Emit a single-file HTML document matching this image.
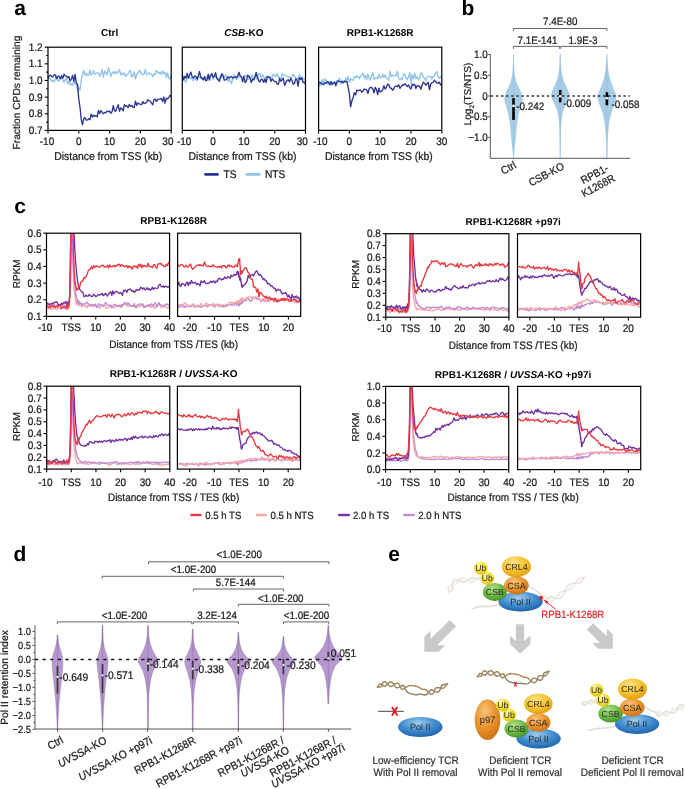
<!DOCTYPE html>
<html><head><meta charset="utf-8"><title>Figure</title>
<style>
html,body{margin:0;padding:0;background:#fff;}
svg{display:block;will-change:transform;}
text{font-family:"Liberation Sans", sans-serif;text-rendering:geometricPrecision;}
.r{stroke-width:0.22px;}
</style></head>
<body>
<svg width="685" height="789" viewBox="0 0 685 789">
<rect width="685" height="789" fill="#fff"/>
<text x="14.2" y="15.0" font-size="21" text-anchor="start" font-weight="bold" fill="#000" >a</text>
<text x="461.6" y="14.9" font-size="21" text-anchor="start" font-weight="bold" fill="#000" >b</text>
<text x="14.3" y="212.7" font-size="21" text-anchor="start" font-weight="bold" fill="#000" >c</text>
<text x="13.4" y="560.6" font-size="21" text-anchor="start" font-weight="bold" fill="#000" >d</text>
<text x="388.2" y="560.7" font-size="21" text-anchor="start" font-weight="bold" fill="#000" >e</text>
<path d="M48.0,78.8 L49.2,78.1 L50.5,79.7 L51.7,81.4 L52.9,80.3 L54.2,81.8 L55.4,79.1 L56.6,75.8 L57.9,80.7 L59.1,81.1 L60.3,78.3 L61.6,78.7 L62.8,79.4 L64.0,82.3 L65.2,80.0 L66.5,78.1 L67.7,83.6 L68.9,81.3 L70.2,85.2 L71.4,83.7 L72.6,85.2 L73.9,81.0 L75.1,83.9 L76.3,84.7 L77.6,90.0 L78.8,87.6 L80.0,90.2 L81.3,80.2 L82.5,74.2 L83.7,70.4 L85.0,75.4 L86.2,73.3 L87.4,75.3 L88.7,75.2 L89.9,70.2 L91.1,75.2 L92.4,73.1 L93.6,70.7 L94.8,74.6 L96.0,73.4 L97.3,72.8 L98.5,72.9 L99.7,76.4 L101.0,72.9 L102.2,69.5 L103.4,77.3 L104.7,70.9 L105.9,72.9 L107.1,74.9 L108.4,67.9 L109.6,71.2 L110.8,76.4 L112.1,73.0 L113.3,71.7 L114.5,73.8 L115.8,71.5 L117.0,73.5 L118.2,71.5 L119.5,69.5 L120.7,75.1 L121.9,72.8 L123.2,74.6 L124.4,73.0 L125.6,76.5 L126.8,74.9 L128.1,73.9 L129.3,71.0 L130.5,70.4 L131.8,77.0 L133.0,75.6 L134.2,71.7 L135.5,78.8 L136.7,74.7 L137.9,73.8 L139.2,70.2 L140.4,71.7 L141.6,74.4 L142.9,74.5 L144.1,74.2 L145.3,69.5 L146.6,74.7 L147.8,74.4 L149.0,72.7 L150.3,73.9 L151.5,74.2 L152.7,76.6 L154.0,73.7 L155.2,74.8 L156.4,70.6 L157.6,71.9 L158.9,73.8 L160.1,71.9 L161.3,74.6 L162.6,70.9 L163.8,73.8 L165.0,72.2 L166.3,77.2 L167.5,72.9 L168.7,78.3 L170.0,79.2 L171.2,74.6" fill="none" stroke="#8ec4ea" stroke-width="1.35" stroke-linejoin="round" opacity="1"/>
<path d="M48.0,77.8 L49.2,75.8 L50.5,75.2 L51.7,76.7 L52.9,76.8 L54.2,74.7 L55.4,75.1 L56.6,78.7 L57.9,76.5 L59.1,76.2 L60.3,78.8 L61.6,75.7 L62.8,78.3 L64.0,74.1 L65.2,75.9 L66.5,76.1 L67.7,77.7 L68.9,76.6 L70.2,81.0 L71.4,79.0 L72.6,75.5 L73.9,81.3 L75.1,74.3 L76.3,83.2 L77.6,84.4 L78.8,99.6 L80.0,107.2 L81.3,120.1 L82.5,124.7 L83.7,118.8 L85.0,117.5 L86.2,120.2 L87.4,119.9 L88.7,118.8 L89.9,119.8 L91.1,114.1 L92.4,117.1 L93.6,115.1 L94.8,116.3 L96.0,115.6 L97.3,116.7 L98.5,110.5 L99.7,113.5 L101.0,110.5 L102.2,112.4 L103.4,113.7 L104.7,112.5 L105.9,112.7 L107.1,111.1 L108.4,111.6 L109.6,111.1 L110.8,113.3 L112.1,111.6 L113.3,105.6 L114.5,110.7 L115.8,111.2 L117.0,107.6 L118.2,104.8 L119.5,111.2 L120.7,107.9 L121.9,108.6 L123.2,110.9 L124.4,104.7 L125.6,106.2 L126.8,105.8 L128.1,107.5 L129.3,104.4 L130.5,106.5 L131.8,105.4 L133.0,107.4 L134.2,107.4 L135.5,101.2 L136.7,105.3 L137.9,103.2 L139.2,103.7 L140.4,104.5 L141.6,104.5 L142.9,101.6 L144.1,103.6 L145.3,103.1 L146.6,102.5 L147.8,99.7 L149.0,100.6 L150.3,101.2 L151.5,103.2 L152.7,104.9 L154.0,99.3 L155.2,99.1 L156.4,101.5 L157.6,99.8 L158.9,99.1 L160.1,98.9 L161.3,98.5 L162.6,101.6 L163.8,96.9 L165.0,103.2 L166.3,98.1 L167.5,98.9 L168.7,97.8 L170.0,95.4 L171.2,96.2" fill="none" stroke="#2b3590" stroke-width="1.35" stroke-linejoin="round" opacity="1"/>
<rect x="48.00" y="47.20" width="123.20" height="83.20" fill="none" stroke="#000" stroke-width="1.2"/>
<line x1="48.00" y1="130.40" x2="48.00" y2="133.60" stroke="#000" stroke-width="1.1" />
<text transform="translate(47.0,145.2) scale(1,1.09)" font-size="10" text-anchor="middle" fill="#1a1a1a" stroke="#1a1a1a" class="r" >-10</text>
<line x1="78.80" y1="130.40" x2="78.80" y2="133.60" stroke="#000" stroke-width="1.1" />
<text transform="translate(78.8,145.2) scale(1,1.09)" font-size="10" text-anchor="middle" fill="#1a1a1a" stroke="#1a1a1a" class="r" >0</text>
<line x1="109.60" y1="130.40" x2="109.60" y2="133.60" stroke="#000" stroke-width="1.1" />
<text transform="translate(109.6,145.2) scale(1,1.09)" font-size="10" text-anchor="middle" fill="#1a1a1a" stroke="#1a1a1a" class="r" >10</text>
<line x1="140.40" y1="130.40" x2="140.40" y2="133.60" stroke="#000" stroke-width="1.1" />
<text transform="translate(140.4,145.2) scale(1,1.09)" font-size="10" text-anchor="middle" fill="#1a1a1a" stroke="#1a1a1a" class="r" >20</text>
<line x1="171.20" y1="130.40" x2="171.20" y2="133.60" stroke="#000" stroke-width="1.1" />
<text transform="translate(167.9,145.2) scale(1,1.09)" font-size="10" text-anchor="middle" fill="#1a1a1a" stroke="#1a1a1a" class="r" >30</text>
<text transform="translate(108.2,159.7) scale(1,1.09)" font-size="10.4" text-anchor="middle" fill="#1a1a1a" stroke="#1a1a1a" class="r" >Distance from TSS (kb)</text>
<path d="M182.3,78.0 L183.5,76.3 L184.8,81.2 L186.0,82.1 L187.2,77.3 L188.5,77.7 L189.7,78.3 L190.9,77.7 L192.2,79.4 L193.4,80.7 L194.6,78.0 L195.9,79.6 L197.1,80.9 L198.3,76.5 L199.5,77.6 L200.8,76.7 L202.0,79.4 L203.2,78.7 L204.5,79.4 L205.7,79.1 L206.9,76.9 L208.2,78.8 L209.4,76.5 L210.6,76.5 L211.9,73.1 L213.1,79.9 L214.3,75.4 L215.6,77.3 L216.8,77.2 L218.0,80.0 L219.3,78.1 L220.5,75.7 L221.7,77.3 L223.0,77.0 L224.2,77.7 L225.4,74.8 L226.7,77.2 L227.9,81.5 L229.1,78.5 L230.3,81.1 L231.6,83.6 L232.8,78.2 L234.0,74.5 L235.3,77.1 L236.5,79.5 L237.7,79.0 L239.0,74.9 L240.2,76.8 L241.4,77.1 L242.7,77.3 L243.9,77.1 L245.1,75.5 L246.4,76.0 L247.6,76.6 L248.8,79.1 L250.1,76.0 L251.3,78.3 L252.5,74.7 L253.8,79.4 L255.0,77.1 L256.2,76.8 L257.5,79.4 L258.7,73.3 L259.9,73.8 L261.1,77.6 L262.4,75.1 L263.6,75.9 L264.8,81.8 L266.1,76.1 L267.3,76.6 L268.5,76.3 L269.8,78.6 L271.0,77.0 L272.2,76.7 L273.5,74.0 L274.7,75.7 L275.9,76.4 L277.2,73.4 L278.4,77.6 L279.6,77.4 L280.9,80.3 L282.1,73.6 L283.3,74.9 L284.6,75.0 L285.8,75.6 L287.0,76.8 L288.3,76.6 L289.5,77.6 L290.7,77.6 L291.9,77.1 L293.2,74.3 L294.4,76.3 L295.6,77.6 L296.9,78.7 L298.1,78.9 L299.3,74.5 L300.6,76.7 L301.8,77.6 L303.0,78.5 L304.3,80.1 L305.5,78.1" fill="none" stroke="#8ec4ea" stroke-width="1.35" stroke-linejoin="round" opacity="1"/>
<path d="M182.3,75.2 L183.5,79.8 L184.8,76.3 L186.0,78.1 L187.2,73.5 L188.5,78.0 L189.7,74.6 L190.9,72.1 L192.2,77.1 L193.4,78.0 L194.6,76.0 L195.9,76.6 L197.1,79.3 L198.3,75.6 L199.5,71.5 L200.8,77.7 L202.0,77.6 L203.2,80.0 L204.5,76.4 L205.7,80.7 L206.9,80.4 L208.2,74.2 L209.4,80.1 L210.6,74.9 L211.9,73.8 L213.1,77.3 L214.3,76.5 L215.6,72.7 L216.8,78.4 L218.0,79.4 L219.3,81.4 L220.5,77.7 L221.7,73.8 L223.0,75.2 L224.2,80.2 L225.4,79.9 L226.7,79.0 L227.9,76.8 L229.1,78.1 L230.3,76.9 L231.6,76.7 L232.8,78.2 L234.0,77.5 L235.3,76.8 L236.5,77.6 L237.7,76.0 L239.0,72.3 L240.2,75.7 L241.4,77.1 L242.7,81.7 L243.9,76.1 L245.1,82.5 L246.4,81.2 L247.6,75.3 L248.8,75.8 L250.1,78.2 L251.3,82.5 L252.5,79.1 L253.8,80.0 L255.0,76.7 L256.2,72.5 L257.5,78.0 L258.7,80.8 L259.9,82.0 L261.1,79.2 L262.4,79.6 L263.6,82.3 L264.8,79.1 L266.1,82.6 L267.3,76.7 L268.5,77.0 L269.8,77.1 L271.0,81.3 L272.2,78.8 L273.5,80.7 L274.7,81.5 L275.9,81.4 L277.2,84.0 L278.4,84.4 L279.6,78.5 L280.9,81.2 L282.1,80.1 L283.3,78.0 L284.6,85.4 L285.8,82.9 L287.0,80.3 L288.3,79.8 L289.5,81.9 L290.7,78.2 L291.9,80.4 L293.2,84.2 L294.4,83.5 L295.6,78.9 L296.9,79.8 L298.1,86.2 L299.3,77.6 L300.6,79.6 L301.8,77.6 L303.0,82.3 L304.3,82.1 L305.5,84.3" fill="none" stroke="#2b3590" stroke-width="1.35" stroke-linejoin="round" opacity="1"/>
<rect x="182.30" y="47.20" width="123.20" height="83.20" fill="none" stroke="#000" stroke-width="1.2"/>
<line x1="182.30" y1="130.40" x2="182.30" y2="133.60" stroke="#000" stroke-width="1.1" />
<text transform="translate(184.1,145.2) scale(1,1.09)" font-size="10" text-anchor="middle" fill="#1a1a1a" stroke="#1a1a1a" class="r" >-10</text>
<line x1="213.10" y1="130.40" x2="213.10" y2="133.60" stroke="#000" stroke-width="1.1" />
<text transform="translate(213.1,145.2) scale(1,1.09)" font-size="10" text-anchor="middle" fill="#1a1a1a" stroke="#1a1a1a" class="r" >0</text>
<line x1="243.90" y1="130.40" x2="243.90" y2="133.60" stroke="#000" stroke-width="1.1" />
<text transform="translate(243.9,145.2) scale(1,1.09)" font-size="10" text-anchor="middle" fill="#1a1a1a" stroke="#1a1a1a" class="r" >10</text>
<line x1="274.70" y1="130.40" x2="274.70" y2="133.60" stroke="#000" stroke-width="1.1" />
<text transform="translate(274.7,145.2) scale(1,1.09)" font-size="10" text-anchor="middle" fill="#1a1a1a" stroke="#1a1a1a" class="r" >20</text>
<line x1="305.50" y1="130.40" x2="305.50" y2="133.60" stroke="#000" stroke-width="1.1" />
<text transform="translate(302.2,145.2) scale(1,1.09)" font-size="10" text-anchor="middle" fill="#1a1a1a" stroke="#1a1a1a" class="r" >30</text>
<text transform="translate(242.5,159.7) scale(1,1.09)" font-size="10.4" text-anchor="middle" fill="#1a1a1a" stroke="#1a1a1a" class="r" >Distance from TSS (kb)</text>
<path d="M318.6,81.7 L319.8,86.2 L321.1,82.9 L322.3,79.4 L323.5,84.8 L324.8,78.9 L326.0,80.6 L327.2,84.0 L328.5,82.5 L329.7,82.3 L330.9,81.2 L332.2,82.3 L333.4,82.9 L334.6,81.5 L335.8,83.2 L337.1,83.7 L338.3,80.5 L339.5,78.1 L340.8,84.0 L342.0,80.0 L343.2,81.5 L344.5,82.3 L345.7,77.6 L346.9,81.1 L348.2,76.4 L349.4,82.4 L350.6,78.8 L351.9,79.7 L353.1,80.4 L354.3,76.4 L355.6,77.9 L356.8,75.6 L358.0,76.8 L359.3,79.0 L360.5,76.1 L361.7,75.4 L363.0,73.1 L364.2,77.8 L365.4,75.6 L366.6,79.8 L367.9,73.9 L369.1,78.3 L370.3,80.1 L371.6,75.7 L372.8,72.8 L374.0,79.4 L375.3,78.3 L376.5,77.5 L377.7,78.5 L379.0,74.7 L380.2,77.7 L381.4,77.5 L382.7,74.2 L383.9,77.6 L385.1,74.7 L386.4,78.2 L387.6,78.8 L388.8,80.4 L390.1,71.1 L391.3,76.6 L392.5,75.2 L393.8,75.9 L395.0,75.4 L396.2,75.7 L397.4,71.1 L398.7,78.5 L399.9,79.8 L401.1,78.4 L402.4,79.2 L403.6,74.1 L404.8,73.9 L406.1,78.3 L407.3,79.4 L408.5,76.9 L409.8,72.5 L411.0,83.0 L412.2,74.7 L413.5,78.7 L414.7,73.4 L415.9,78.7 L417.2,76.8 L418.4,79.8 L419.6,78.5 L420.9,72.6 L422.1,74.1 L423.3,77.1 L424.6,78.3 L425.8,80.9 L427.0,77.1 L428.2,76.3 L429.5,76.4 L430.7,76.4 L431.9,79.0 L433.2,76.4 L434.4,76.3 L435.6,73.0 L436.9,71.6 L438.1,76.6 L439.3,78.2 L440.6,76.5 L441.8,77.8" fill="none" stroke="#8ec4ea" stroke-width="1.35" stroke-linejoin="round" opacity="1"/>
<path d="M318.6,83.2 L319.8,82.3 L321.1,83.1 L322.3,84.2 L323.5,84.6 L324.8,82.9 L326.0,83.5 L327.2,81.7 L328.5,82.1 L329.7,84.9 L330.9,81.7 L332.2,84.7 L333.4,83.0 L334.6,82.2 L335.8,85.9 L337.1,81.1 L338.3,80.9 L339.5,81.4 L340.8,81.9 L342.0,81.7 L343.2,82.9 L344.5,81.2 L345.7,81.7 L346.9,81.7 L348.2,87.4 L349.4,94.2 L350.6,106.8 L351.9,100.8 L353.1,97.7 L354.3,92.8 L355.6,94.9 L356.8,90.2 L358.0,90.5 L359.3,90.3 L360.5,90.0 L361.7,92.1 L363.0,91.1 L364.2,89.0 L365.4,89.4 L366.6,89.7 L367.9,93.3 L369.1,88.8 L370.3,87.3 L371.6,87.5 L372.8,89.0 L374.0,92.8 L375.3,87.3 L376.5,89.5 L377.7,94.5 L379.0,88.1 L380.2,92.0 L381.4,91.5 L382.7,89.9 L383.9,85.6 L385.1,89.1 L386.4,87.5 L387.6,84.2 L388.8,84.4 L390.1,88.0 L391.3,88.1 L392.5,90.2 L393.8,88.8 L395.0,86.3 L396.2,86.2 L397.4,86.7 L398.7,84.7 L399.9,88.3 L401.1,86.7 L402.4,84.8 L403.6,85.0 L404.8,83.8 L406.1,85.1 L407.3,86.5 L408.5,85.0 L409.8,87.8 L411.0,89.0 L412.2,84.1 L413.5,85.3 L414.7,84.4 L415.9,88.6 L417.2,85.6 L418.4,86.0 L419.6,86.4 L420.9,89.3 L422.1,85.0 L423.3,82.2 L424.6,83.2 L425.8,85.2 L427.0,83.8 L428.2,82.2 L429.5,89.8 L430.7,84.1 L431.9,82.6 L433.2,82.3 L434.4,80.1 L435.6,81.4 L436.9,83.1 L438.1,83.2 L439.3,82.1 L440.6,85.0 L441.8,83.9" fill="none" stroke="#2b3590" stroke-width="1.35" stroke-linejoin="round" opacity="1"/>
<rect x="318.60" y="47.20" width="123.20" height="83.20" fill="none" stroke="#000" stroke-width="1.2"/>
<line x1="318.60" y1="130.40" x2="318.60" y2="133.60" stroke="#000" stroke-width="1.1" />
<text transform="translate(320.4,145.2) scale(1,1.09)" font-size="10" text-anchor="middle" fill="#1a1a1a" stroke="#1a1a1a" class="r" >-10</text>
<line x1="349.40" y1="130.40" x2="349.40" y2="133.60" stroke="#000" stroke-width="1.1" />
<text transform="translate(349.4,145.2) scale(1,1.09)" font-size="10" text-anchor="middle" fill="#1a1a1a" stroke="#1a1a1a" class="r" >0</text>
<line x1="380.20" y1="130.40" x2="380.20" y2="133.60" stroke="#000" stroke-width="1.1" />
<text transform="translate(380.2,145.2) scale(1,1.09)" font-size="10" text-anchor="middle" fill="#1a1a1a" stroke="#1a1a1a" class="r" >10</text>
<line x1="411.00" y1="130.40" x2="411.00" y2="133.60" stroke="#000" stroke-width="1.1" />
<text transform="translate(411.0,145.2) scale(1,1.09)" font-size="10" text-anchor="middle" fill="#1a1a1a" stroke="#1a1a1a" class="r" >20</text>
<line x1="441.80" y1="130.40" x2="441.80" y2="133.60" stroke="#000" stroke-width="1.1" />
<text transform="translate(441.8,145.2) scale(1,1.09)" font-size="10" text-anchor="middle" fill="#1a1a1a" stroke="#1a1a1a" class="r" >30</text>
<text transform="translate(378.8,159.7) scale(1,1.09)" font-size="10.4" text-anchor="middle" fill="#1a1a1a" stroke="#1a1a1a" class="r" >Distance from TSS (kb)</text>
<line x1="44.70" y1="130.40" x2="48.00" y2="130.40" stroke="#000" stroke-width="1.1" />
<text transform="translate(42.6,133.9) scale(1,1.09)" font-size="10" text-anchor="end" fill="#1a1a1a" stroke="#1a1a1a" class="r" >0.7</text>
<line x1="46.20" y1="122.08" x2="48.00" y2="122.08" stroke="#000" stroke-width="1.1" />
<line x1="44.70" y1="113.76" x2="48.00" y2="113.76" stroke="#000" stroke-width="1.1" />
<text transform="translate(42.6,117.3) scale(1,1.09)" font-size="10" text-anchor="end" fill="#1a1a1a" stroke="#1a1a1a" class="r" >0.8</text>
<line x1="46.20" y1="105.44" x2="48.00" y2="105.44" stroke="#000" stroke-width="1.1" />
<line x1="44.70" y1="97.12" x2="48.00" y2="97.12" stroke="#000" stroke-width="1.1" />
<text transform="translate(42.6,100.6) scale(1,1.09)" font-size="10" text-anchor="end" fill="#1a1a1a" stroke="#1a1a1a" class="r" >0.9</text>
<line x1="46.20" y1="88.80" x2="48.00" y2="88.80" stroke="#000" stroke-width="1.1" />
<line x1="44.70" y1="80.48" x2="48.00" y2="80.48" stroke="#000" stroke-width="1.1" />
<text transform="translate(42.6,84.0) scale(1,1.09)" font-size="10" text-anchor="end" fill="#1a1a1a" stroke="#1a1a1a" class="r" >1.0</text>
<line x1="46.20" y1="72.16" x2="48.00" y2="72.16" stroke="#000" stroke-width="1.1" />
<line x1="44.70" y1="63.84" x2="48.00" y2="63.84" stroke="#000" stroke-width="1.1" />
<text transform="translate(42.6,67.3) scale(1,1.09)" font-size="10" text-anchor="end" fill="#1a1a1a" stroke="#1a1a1a" class="r" >1.1</text>
<line x1="46.20" y1="55.52" x2="48.00" y2="55.52" stroke="#000" stroke-width="1.1" />
<line x1="44.70" y1="47.20" x2="48.00" y2="47.20" stroke="#000" stroke-width="1.1" />
<text transform="translate(42.6,50.7) scale(1,1.09)" font-size="10" text-anchor="end" fill="#1a1a1a" stroke="#1a1a1a" class="r" >1.2</text>
<text transform="translate(19.7,92.5) rotate(-90)" font-size="10.2" text-anchor="middle" fill="#1a1a1a" stroke="#1a1a1a" class="r">Fraction CPDs remaining</text>
<text x="109.6" y="35.6" font-size="10" text-anchor="middle" font-weight="bold" fill="#000" >Ctrl</text>
<text x="243.9" y="35.6" font-size="10" text-anchor="middle" font-weight="bold" fill="#000"><tspan font-style="italic">CSB</tspan>-KO</text>
<text x="380.2" y="35.6" font-size="10" text-anchor="middle" font-weight="bold" fill="#000" >RPB1-K1268R</text>
<line x1="205.40" y1="174.40" x2="217.60" y2="174.40" stroke="#2b3590" stroke-width="2.6" stroke-linecap="round"/>
<text transform="translate(223.6,177.9) scale(1,1.09)" font-size="10.2" text-anchor="start" fill="#1a1a1a" stroke="#1a1a1a" class="r" >TS</text>
<line x1="246.70" y1="174.40" x2="259.30" y2="174.40" stroke="#8ec4ea" stroke-width="2.6" stroke-linecap="round"/>
<text transform="translate(265.0,177.9) scale(1,1.09)" font-size="10.2" text-anchor="start" fill="#1a1a1a" stroke="#1a1a1a" class="r" >NTS</text>
<path d="M513.81,54.50 L513.82,55.37 L513.85,56.24 L513.87,57.11 L513.90,57.98 L513.92,58.85 L513.95,59.72 L513.97,60.59 L514.00,61.46 L514.02,62.33 L514.05,63.20 L514.07,64.07 L514.11,64.94 L514.16,65.81 L514.22,66.68 L514.28,67.55 L514.34,68.42 L514.40,69.29 L514.46,70.16 L514.52,71.03 L514.58,71.89 L514.64,72.76 L514.70,73.63 L514.78,74.50 L514.91,75.37 L515.07,76.24 L515.26,77.11 L515.45,77.98 L515.63,78.85 L515.82,79.72 L516.04,80.59 L516.30,81.46 L516.61,82.33 L516.94,83.20 L517.27,84.07 L517.60,84.94 L517.96,85.81 L518.38,86.68 L518.84,87.55 L519.31,88.42 L519.78,89.29 L520.24,90.16 L520.66,91.03 L521.02,91.90 L521.34,92.77 L521.65,93.64 L521.96,94.51 L522.25,95.38 L522.43,96.25 L522.52,97.12 L522.54,97.99 L522.56,98.86 L522.57,99.73 L522.54,100.60 L522.42,101.47 L522.20,102.34 L521.94,103.21 L521.68,104.08 L521.42,104.95 L521.15,105.82 L520.88,106.68 L520.60,107.55 L520.32,108.42 L520.05,109.29 L519.77,110.16 L519.52,111.03 L519.30,111.90 L519.11,112.77 L518.92,113.64 L518.73,114.51 L518.54,115.38 L518.37,116.25 L518.23,117.12 L518.09,117.99 L517.95,118.86 L517.82,119.73 L517.68,120.60 L517.55,121.47 L517.41,122.34 L517.28,123.21 L517.14,124.08 L517.02,124.95 L516.92,125.82 L516.84,126.69 L516.76,127.56 L516.68,128.43 L516.60,129.30 L516.52,130.17 L516.44,131.04 L516.36,131.91 L516.28,132.78 L516.20,133.65 L516.12,134.52 L516.04,135.39 L515.95,136.26 L515.87,137.13 L515.79,138.00 L515.71,138.87 L515.62,139.74 L515.52,140.61 L515.43,141.47 L515.34,142.34 L515.24,143.21 L515.15,144.08 L515.05,144.95 L514.96,145.82 L514.86,146.69 L514.77,147.56 L514.67,148.43 L514.58,149.30 L514.49,150.17 L514.41,151.04 L514.33,151.91 L514.26,152.78 L514.18,153.65 L514.10,154.52 L514.03,155.39 L513.95,156.26 L513.88,157.13 L513.83,158.00 L513.17,158.00 L513.12,157.13 L513.05,156.26 L512.97,155.39 L512.90,154.52 L512.82,153.65 L512.74,152.78 L512.67,151.91 L512.59,151.04 L512.51,150.17 L512.42,149.30 L512.33,148.43 L512.23,147.56 L512.14,146.69 L512.04,145.82 L511.95,144.95 L511.85,144.08 L511.76,143.21 L511.66,142.34 L511.57,141.47 L511.48,140.61 L511.38,139.74 L511.29,138.87 L511.21,138.00 L511.13,137.13 L511.05,136.26 L510.96,135.39 L510.88,134.52 L510.80,133.65 L510.72,132.78 L510.64,131.91 L510.56,131.04 L510.48,130.17 L510.40,129.30 L510.32,128.43 L510.24,127.56 L510.16,126.69 L510.08,125.82 L509.98,124.95 L509.86,124.08 L509.72,123.21 L509.59,122.34 L509.45,121.47 L509.32,120.60 L509.18,119.73 L509.05,118.86 L508.91,117.99 L508.77,117.12 L508.63,116.25 L508.46,115.38 L508.27,114.51 L508.08,113.64 L507.89,112.77 L507.70,111.90 L507.48,111.03 L507.23,110.16 L506.95,109.29 L506.68,108.42 L506.40,107.55 L506.12,106.68 L505.85,105.82 L505.58,104.95 L505.32,104.08 L505.06,103.21 L504.80,102.34 L504.58,101.47 L504.46,100.60 L504.43,99.73 L504.44,98.86 L504.46,97.99 L504.48,97.12 L504.57,96.25 L504.75,95.38 L505.04,94.51 L505.35,93.64 L505.66,92.77 L505.98,91.90 L506.34,91.03 L506.76,90.16 L507.22,89.29 L507.69,88.42 L508.16,87.55 L508.62,86.68 L509.04,85.81 L509.40,84.94 L509.73,84.07 L510.06,83.20 L510.39,82.33 L510.70,81.46 L510.96,80.59 L511.18,79.72 L511.37,78.85 L511.55,77.98 L511.74,77.11 L511.93,76.24 L512.09,75.37 L512.22,74.50 L512.30,73.63 L512.36,72.76 L512.42,71.89 L512.48,71.03 L512.54,70.16 L512.60,69.29 L512.66,68.42 L512.72,67.55 L512.78,66.68 L512.84,65.81 L512.89,64.94 L512.93,64.07 L512.95,63.20 L512.98,62.33 L513.00,61.46 L513.03,60.59 L513.05,59.72 L513.08,58.85 L513.10,57.98 L513.13,57.11 L513.15,56.24 L513.18,55.37 L513.19,54.50Z" fill="#a7cce5"/>
<line x1="513.50" y1="54.50" x2="513.50" y2="158.00" stroke="#8fb8d8" stroke-width="0.5" />
<path d="M560.51,53.20 L560.54,54.08 L560.58,54.97 L560.62,55.85 L560.66,56.74 L560.70,57.62 L560.73,58.51 L560.77,59.39 L560.81,60.28 L560.85,61.16 L560.89,62.05 L560.93,62.93 L560.97,63.82 L561.00,64.70 L561.04,65.59 L561.09,66.47 L561.16,67.36 L561.26,68.24 L561.36,69.13 L561.47,70.01 L561.57,70.90 L561.69,71.78 L561.82,72.67 L561.97,73.55 L562.13,74.44 L562.29,75.32 L562.44,76.21 L562.64,77.09 L562.89,77.98 L563.18,78.86 L563.46,79.75 L563.75,80.63 L564.06,81.52 L564.41,82.40 L564.81,83.29 L565.23,84.17 L565.65,85.06 L566.06,85.94 L566.47,86.83 L566.88,87.71 L567.29,88.59 L567.70,89.48 L568.09,90.36 L568.44,91.25 L568.74,92.13 L569.01,93.02 L569.28,93.90 L569.46,94.79 L569.46,95.67 L569.26,96.56 L568.95,97.44 L568.63,98.33 L568.29,99.21 L567.91,100.10 L567.52,100.98 L567.13,101.87 L566.74,102.75 L566.33,103.64 L565.91,104.52 L565.47,105.41 L565.05,106.29 L564.65,107.18 L564.29,108.06 L563.94,108.95 L563.60,109.83 L563.31,110.72 L563.05,111.60 L562.83,112.49 L562.61,113.37 L562.39,114.26 L562.22,115.14 L562.08,116.03 L561.97,116.91 L561.86,117.80 L561.76,118.68 L561.65,119.57 L561.55,120.45 L561.48,121.34 L561.43,122.22 L561.38,123.11 L561.34,123.99 L561.29,124.87 L561.25,125.76 L561.20,126.64 L561.15,127.53 L561.11,128.41 L561.06,129.30 L561.02,130.18 L560.97,131.07 L560.93,131.95 L560.90,132.84 L560.89,133.72 L560.88,134.61 L560.87,135.49 L560.86,136.38 L560.85,137.26 L560.83,138.15 L560.82,139.03 L560.81,139.92 L560.80,140.80 L560.79,141.69 L560.78,142.57 L560.77,143.46 L560.76,144.34 L560.75,145.23 L560.74,146.11 L560.73,147.00 L560.72,147.88 L560.71,148.77 L560.70,149.65 L560.69,150.54 L560.68,151.42 L560.67,152.31 L560.66,153.19 L560.65,154.08 L560.64,154.96 L560.63,155.85 L560.62,156.73 L560.61,157.62 L560.60,158.50 L559.80,158.50 L559.79,157.62 L559.78,156.73 L559.77,155.85 L559.76,154.96 L559.75,154.08 L559.74,153.19 L559.73,152.31 L559.72,151.42 L559.71,150.54 L559.70,149.65 L559.69,148.77 L559.68,147.88 L559.67,147.00 L559.66,146.11 L559.65,145.23 L559.64,144.34 L559.63,143.46 L559.62,142.57 L559.61,141.69 L559.60,140.80 L559.59,139.92 L559.58,139.03 L559.57,138.15 L559.55,137.26 L559.54,136.38 L559.53,135.49 L559.52,134.61 L559.51,133.72 L559.50,132.84 L559.47,131.95 L559.43,131.07 L559.38,130.18 L559.34,129.30 L559.29,128.41 L559.25,127.53 L559.20,126.64 L559.15,125.76 L559.11,124.87 L559.06,123.99 L559.02,123.11 L558.97,122.22 L558.92,121.34 L558.85,120.45 L558.75,119.57 L558.64,118.68 L558.54,117.80 L558.43,116.91 L558.32,116.03 L558.18,115.14 L558.01,114.26 L557.79,113.37 L557.57,112.49 L557.35,111.60 L557.09,110.72 L556.80,109.83 L556.46,108.95 L556.11,108.06 L555.75,107.18 L555.35,106.29 L554.93,105.41 L554.49,104.52 L554.07,103.64 L553.66,102.75 L553.27,101.87 L552.88,100.98 L552.49,100.10 L552.11,99.21 L551.77,98.33 L551.45,97.44 L551.14,96.56 L550.94,95.67 L550.94,94.79 L551.12,93.90 L551.39,93.02 L551.66,92.13 L551.96,91.25 L552.31,90.36 L552.70,89.48 L553.11,88.59 L553.52,87.71 L553.93,86.83 L554.34,85.94 L554.75,85.06 L555.17,84.17 L555.59,83.29 L555.99,82.40 L556.34,81.52 L556.65,80.63 L556.94,79.75 L557.22,78.86 L557.51,77.98 L557.76,77.09 L557.96,76.21 L558.11,75.32 L558.27,74.44 L558.43,73.55 L558.58,72.67 L558.71,71.78 L558.83,70.90 L558.93,70.01 L559.04,69.13 L559.14,68.24 L559.24,67.36 L559.31,66.47 L559.36,65.59 L559.40,64.70 L559.43,63.82 L559.47,62.93 L559.51,62.05 L559.55,61.16 L559.59,60.28 L559.63,59.39 L559.67,58.51 L559.70,57.62 L559.74,56.74 L559.78,55.85 L559.82,54.97 L559.86,54.08 L559.89,53.20Z" fill="#a7cce5"/>
<line x1="560.20" y1="53.20" x2="560.20" y2="158.50" stroke="#8fb8d8" stroke-width="0.5" />
<path d="M607.21,53.70 L607.24,54.58 L607.28,55.46 L607.33,56.34 L607.37,57.22 L607.41,58.10 L607.45,58.98 L607.50,59.86 L607.54,60.75 L607.59,61.63 L607.65,62.51 L607.70,63.39 L607.75,64.27 L607.80,65.15 L607.85,66.03 L607.93,66.91 L608.03,67.79 L608.16,68.67 L608.29,69.55 L608.42,70.43 L608.55,71.31 L608.68,72.19 L608.84,73.07 L609.01,73.96 L609.20,74.84 L609.39,75.72 L609.58,76.60 L609.78,77.48 L610.00,78.36 L610.25,79.24 L610.53,80.12 L610.82,81.00 L611.11,81.88 L611.39,82.76 L611.69,83.64 L611.99,84.52 L612.31,85.40 L612.63,86.28 L612.94,87.17 L613.27,88.05 L613.63,88.93 L614.02,89.81 L614.42,90.69 L614.83,91.57 L615.23,92.45 L615.57,93.33 L615.86,94.21 L616.12,95.09 L616.36,95.97 L616.43,96.85 L616.34,97.73 L616.11,98.61 L615.89,99.49 L615.65,100.38 L615.40,101.26 L615.13,102.14 L614.84,103.02 L614.55,103.90 L614.26,104.78 L613.97,105.66 L613.64,106.54 L613.29,107.42 L612.92,108.30 L612.55,109.18 L612.22,110.06 L611.94,110.94 L611.69,111.82 L611.44,112.71 L611.20,113.59 L610.96,114.47 L610.73,115.35 L610.53,116.23 L610.34,117.11 L610.14,117.99 L609.95,118.87 L609.77,119.75 L609.61,120.63 L609.47,121.51 L609.34,122.39 L609.20,123.27 L609.07,124.15 L608.94,125.03 L608.81,125.92 L608.70,126.80 L608.62,127.68 L608.55,128.56 L608.49,129.44 L608.42,130.32 L608.35,131.20 L608.28,132.08 L608.22,132.96 L608.15,133.84 L608.08,134.72 L608.02,135.60 L607.95,136.48 L607.88,137.36 L607.82,138.24 L607.75,139.13 L607.71,140.01 L607.68,140.89 L607.66,141.77 L607.64,142.65 L607.62,143.53 L607.60,144.41 L607.58,145.29 L607.56,146.17 L607.54,147.05 L607.53,147.93 L607.51,148.81 L607.49,149.69 L607.47,150.57 L607.45,151.45 L607.43,152.34 L607.41,153.22 L607.39,154.10 L607.38,154.98 L607.36,155.86 L607.34,156.74 L607.32,157.62 L607.31,158.50 L606.49,158.50 L606.48,157.62 L606.46,156.74 L606.44,155.86 L606.42,154.98 L606.41,154.10 L606.39,153.22 L606.37,152.34 L606.35,151.45 L606.33,150.57 L606.31,149.69 L606.29,148.81 L606.27,147.93 L606.26,147.05 L606.24,146.17 L606.22,145.29 L606.20,144.41 L606.18,143.53 L606.16,142.65 L606.14,141.77 L606.12,140.89 L606.09,140.01 L606.05,139.13 L605.98,138.24 L605.92,137.36 L605.85,136.48 L605.78,135.60 L605.72,134.72 L605.65,133.84 L605.58,132.96 L605.52,132.08 L605.45,131.20 L605.38,130.32 L605.31,129.44 L605.25,128.56 L605.18,127.68 L605.10,126.80 L604.99,125.92 L604.86,125.03 L604.73,124.15 L604.60,123.27 L604.46,122.39 L604.33,121.51 L604.19,120.63 L604.03,119.75 L603.85,118.87 L603.66,117.99 L603.46,117.11 L603.27,116.23 L603.07,115.35 L602.84,114.47 L602.60,113.59 L602.36,112.71 L602.11,111.82 L601.86,110.94 L601.58,110.06 L601.25,109.18 L600.88,108.30 L600.51,107.42 L600.16,106.54 L599.83,105.66 L599.54,104.78 L599.25,103.90 L598.96,103.02 L598.67,102.14 L598.40,101.26 L598.15,100.38 L597.91,99.49 L597.69,98.61 L597.46,97.73 L597.37,96.85 L597.44,95.97 L597.68,95.09 L597.94,94.21 L598.23,93.33 L598.57,92.45 L598.97,91.57 L599.38,90.69 L599.78,89.81 L600.17,88.93 L600.53,88.05 L600.86,87.17 L601.17,86.28 L601.49,85.40 L601.81,84.52 L602.11,83.64 L602.41,82.76 L602.69,81.88 L602.98,81.00 L603.27,80.12 L603.55,79.24 L603.80,78.36 L604.02,77.48 L604.22,76.60 L604.41,75.72 L604.60,74.84 L604.79,73.96 L604.96,73.07 L605.12,72.19 L605.25,71.31 L605.38,70.43 L605.51,69.55 L605.64,68.67 L605.77,67.79 L605.87,66.91 L605.95,66.03 L606.00,65.15 L606.05,64.27 L606.10,63.39 L606.15,62.51 L606.21,61.63 L606.26,60.75 L606.30,59.86 L606.35,58.98 L606.39,58.10 L606.43,57.22 L606.47,56.34 L606.52,55.46 L606.56,54.58 L606.59,53.70Z" fill="#a7cce5"/>
<line x1="606.90" y1="53.70" x2="606.90" y2="158.50" stroke="#8fb8d8" stroke-width="0.5" />
<line x1="490.8" y1="96" x2="630" y2="96" stroke="#333" stroke-width="1.7" stroke-dasharray="2.4 2.7"/>
<rect x="512.20" y="98.10" width="2.6" height="21.80" fill="#000"/>
<circle cx="513.50" cy="105.90" r="1.3" fill="#fff"/>
<rect x="558.90" y="90.00" width="2.6" height="12.30" fill="#000"/>
<circle cx="560.20" cy="96.20" r="1.3" fill="#fff"/>
<rect x="605.60" y="92.20" width="2.6" height="13.10" fill="#000"/>
<circle cx="606.90" cy="98.20" r="1.3" fill="#fff"/>
<text transform="translate(516.3,110.0) scale(1,1.09)" font-size="9.9" text-anchor="start" fill="#1a1a1a" stroke="#1a1a1a" class="r" >-0.242</text>
<text transform="translate(563.2,107.2) scale(1,1.09)" font-size="9.9" text-anchor="start" fill="#1a1a1a" stroke="#1a1a1a" class="r" >-0.009</text>
<text transform="translate(611.5,107.8) scale(1,1.09)" font-size="9.9" text-anchor="start" fill="#1a1a1a" stroke="#1a1a1a" class="r" >-0.058</text>
<line x1="490.30" y1="54.00" x2="490.30" y2="158.30" stroke="#555" stroke-width="1.0" />
<line x1="490.30" y1="158.30" x2="630.00" y2="158.30" stroke="#555" stroke-width="1.0" />
<line x1="488.10" y1="54.60" x2="490.30" y2="54.60" stroke="#555" stroke-width="1.0" />
<text transform="translate(487.7,58.1) scale(1,1.09)" font-size="9.9" text-anchor="end" fill="#1a1a1a" stroke="#1a1a1a" class="r" >1.0</text>
<line x1="488.10" y1="75.30" x2="490.30" y2="75.30" stroke="#555" stroke-width="1.0" />
<text transform="translate(487.7,78.8) scale(1,1.09)" font-size="9.9" text-anchor="end" fill="#1a1a1a" stroke="#1a1a1a" class="r" >0.5</text>
<line x1="488.10" y1="96.00" x2="490.30" y2="96.00" stroke="#555" stroke-width="1.0" />
<text transform="translate(487.7,99.5) scale(1,1.09)" font-size="9.9" text-anchor="end" fill="#1a1a1a" stroke="#1a1a1a" class="r" >0</text>
<line x1="488.10" y1="116.70" x2="490.30" y2="116.70" stroke="#555" stroke-width="1.0" />
<text transform="translate(487.7,120.2) scale(1,1.09)" font-size="9.9" text-anchor="end" fill="#1a1a1a" stroke="#1a1a1a" class="r" >-0.5</text>
<line x1="488.10" y1="137.40" x2="490.30" y2="137.40" stroke="#555" stroke-width="1.0" />
<text transform="translate(487.7,140.9) scale(1,1.09)" font-size="9.9" text-anchor="end" fill="#1a1a1a" stroke="#1a1a1a" class="r" >−1.0</text>
<text transform="translate(471.3,94) rotate(-90)" font-size="10" text-anchor="middle" fill="#1a1a1a" stroke="#1a1a1a" class="r">Log<tspan font-size="6.5" dy="2.5">2</tspan><tspan dy="-2.5">(TS/NTS)</tspan></text>
<path d="M513.40,30.90 L513.40,28.50 L606.90,28.50 L606.90,30.90" fill="none" stroke="#555" stroke-width="0.9"/>
<path d="M513.40,48.80 L513.40,46.40 L559.60,46.40 L559.60,48.80" fill="none" stroke="#555" stroke-width="0.9"/>
<path d="M560.80,48.80 L560.80,46.40 L606.90,46.40 L606.90,48.80" fill="none" stroke="#555" stroke-width="0.9"/>
<text transform="translate(560.2,24.6) scale(1,1.09)" font-size="9.9" text-anchor="middle" fill="#1a1a1a" stroke="#1a1a1a" class="r" >7.4E-80</text>
<text transform="translate(537.5,43.5) scale(1,1.09)" font-size="9.9" text-anchor="middle" fill="#1a1a1a" stroke="#1a1a1a" class="r" >7.1E-141</text>
<text transform="translate(583.0,43.5) scale(1,1.09)" font-size="9.9" text-anchor="middle" fill="#1a1a1a" stroke="#1a1a1a" class="r" >1.9E-3</text>
<text transform="translate(517.0,167.4) rotate(-28) scale(1,1.09)" font-size="10" text-anchor="end" fill="#1a1a1a" stroke="#1a1a1a" class="r" >Ctrl</text>
<text transform="translate(565.0,168.6) rotate(-28) scale(1,1.09)" font-size="10" text-anchor="end" fill="#1a1a1a" stroke="#1a1a1a" class="r" >CSB-KO</text>
<text transform="translate(609.3,170.5) rotate(-28) scale(1,1.09)" font-size="10" text-anchor="end" fill="#1a1a1a" stroke="#1a1a1a" class="r" >RPB1-</text>
<text transform="translate(615.8,180.6) rotate(-28) scale(1,1.09)" font-size="10" text-anchor="end" fill="#1a1a1a" stroke="#1a1a1a" class="r" >K1268R</text>
<clipPath id="c46_233L"><rect x="46.5" y="233.2" width="123.1" height="83.2"/></clipPath>
<clipPath id="c46_233R"><rect x="177.6" y="233.2" width="123.1" height="83.2"/></clipPath>
<g clip-path="url(#c46_233L)">
<path d="M46.5,308.3 L47.6,307.4 L48.6,309.0 L49.7,307.8 L50.8,309.7 L51.9,308.9 L52.9,309.2 L54.0,307.7 L55.1,307.6 L56.1,309.8 L57.2,308.7 L58.3,307.5 L59.3,308.4 L60.4,309.0 L61.5,306.5 L62.6,307.1 L63.6,307.0 L64.7,308.6 L65.8,307.3 L66.2,308.7 L66.5,307.5 L66.8,309.4 L66.8,308.8 L67.1,307.7 L67.4,309.0 L67.7,307.7 L67.9,308.5 L68.0,309.7 L68.3,308.5 L68.6,308.2 L68.9,306.7 L69.0,307.8 L69.2,307.1 L69.4,303.9 L69.7,299.2 L70.0,293.1 L70.0,294.7 L70.3,285.8 L70.6,272.0 L70.9,258.0 L71.1,247.4 L71.2,240.8 L71.5,225.5 L71.8,218.3 L72.1,225.5 L72.2,230.4 L72.4,240.1 L72.7,254.7 L73.0,264.4 L73.3,271.7 L73.3,271.5 L73.6,279.3 L73.9,284.0 L74.2,289.6 L74.3,290.9 L74.5,292.6 L74.8,293.5 L75.1,297.0 L75.4,299.8 L75.4,300.0 L75.7,301.0 L75.9,301.1 L76.2,304.1 L76.5,303.6 L76.5,303.0 L76.8,301.0 L77.1,303.2 L77.4,305.0 L77.5,303.5 L77.7,302.5 L78.0,304.9 L78.3,305.2 L78.6,304.4 L79.7,305.4 L80.8,305.4 L81.8,307.0 L82.9,304.9 L84.0,305.4 L85.0,306.4 L86.1,305.5 L87.2,307.9 L88.2,305.1 L89.3,306.2 L90.4,305.8 L91.5,305.1 L92.5,306.0 L93.6,307.0 L94.7,305.2 L95.7,306.3 L96.8,306.4 L97.9,306.8 L99.0,306.4 L100.0,308.6 L101.1,305.1 L102.2,305.9 L103.2,305.3 L104.3,304.6 L105.4,306.4 L106.4,308.5 L107.5,307.6 L108.6,307.7 L109.7,307.2 L110.7,306.4 L111.8,308.2 L112.9,306.5 L113.9,308.0 L115.0,306.5 L116.1,306.7 L117.1,306.0 L118.2,305.3 L119.3,305.6 L120.4,305.7 L121.4,307.3 L122.5,306.2 L123.6,304.0 L124.6,304.4 L125.7,304.8 L126.8,305.4 L127.9,306.8 L128.9,304.4 L130.0,306.2 L131.1,306.2 L132.1,306.6 L133.2,306.2 L134.3,306.4 L135.3,306.3 L136.4,308.0 L137.5,307.1 L138.6,304.5 L139.6,306.6 L140.7,306.2 L141.8,305.4 L142.8,305.5 L143.9,307.5 L145.0,306.7 L146.1,305.6 L147.1,306.4 L148.2,306.1 L149.3,304.8 L150.3,307.6 L151.4,306.1 L152.5,307.1 L153.5,305.3 L154.6,308.4 L155.7,307.3 L156.8,306.8 L157.8,305.4 L158.9,305.3 L160.0,304.6 L161.0,307.9 L162.1,305.5 L163.2,306.6 L164.2,307.3 L165.3,306.1 L166.4,307.6 L167.5,308.6 L168.5,307.0 L169.6,308.1" fill="none" stroke="#f4a9a8" stroke-width="1.35" stroke-linejoin="round" opacity="1"/>
<path d="M46.5,304.2 L47.6,304.7 L48.6,303.1 L49.7,306.2 L50.8,304.8 L51.9,305.8 L52.9,304.0 L54.0,303.8 L55.1,307.2 L56.1,306.6 L57.2,304.9 L58.3,305.3 L59.3,305.3 L60.4,306.1 L61.5,305.2 L62.6,305.0 L63.6,306.4 L64.7,305.3 L65.8,309.3 L66.2,306.3 L66.5,307.0 L66.8,304.8 L66.8,305.7 L67.1,306.5 L67.4,305.1 L67.7,306.4 L67.9,306.0 L68.0,306.2 L68.3,304.5 L68.6,303.6 L68.9,302.8 L69.0,303.9 L69.2,302.8 L69.4,303.0 L69.7,300.8 L70.0,295.5 L70.0,295.2 L70.3,289.2 L70.6,278.2 L70.9,264.4 L71.1,254.8 L71.2,251.2 L71.5,237.4 L71.8,232.1 L72.1,233.8 L72.2,237.9 L72.4,243.4 L72.7,252.0 L73.0,260.2 L73.3,263.2 L73.3,265.0 L73.6,268.8 L73.9,274.0 L74.2,279.6 L74.3,281.1 L74.5,281.8 L74.8,285.1 L75.1,288.2 L75.4,291.2 L75.4,292.4 L75.7,293.0 L75.9,296.2 L76.2,294.8 L76.5,297.4 L76.5,297.3 L76.8,297.9 L77.1,298.4 L77.4,300.8 L77.5,301.7 L77.7,301.5 L78.0,303.3 L78.3,302.9 L78.6,300.4 L79.7,304.0 L80.8,302.7 L81.8,305.1 L82.9,303.6 L84.0,304.2 L85.0,304.0 L86.1,302.9 L87.2,302.1 L88.2,304.0 L89.3,304.2 L90.4,305.9 L91.5,304.4 L92.5,305.3 L93.6,304.6 L94.7,305.5 L95.7,304.1 L96.8,307.5 L97.9,305.6 L99.0,303.7 L100.0,304.7 L101.1,305.2 L102.2,305.1 L103.2,306.4 L104.3,305.0 L105.4,302.5 L106.4,303.1 L107.5,305.4 L108.6,305.5 L109.7,305.4 L110.7,304.9 L111.8,307.0 L112.9,306.1 L113.9,304.3 L115.0,304.4 L116.1,305.1 L117.1,305.8 L118.2,306.4 L119.3,305.3 L120.4,307.1 L121.4,304.5 L122.5,305.5 L123.6,304.0 L124.6,302.3 L125.7,302.7 L126.8,304.7 L127.9,302.9 L128.9,303.4 L130.0,305.6 L131.1,306.0 L132.1,305.5 L133.2,306.3 L134.3,303.4 L135.3,307.5 L136.4,305.7 L137.5,305.0 L138.6,304.8 L139.6,304.0 L140.7,304.0 L141.8,304.5 L142.8,303.9 L143.9,307.5 L145.0,305.9 L146.1,306.9 L147.1,305.4 L148.2,304.8 L149.3,305.9 L150.3,305.7 L151.4,303.8 L152.5,304.7 L153.5,305.9 L154.6,302.9 L155.7,303.1 L156.8,306.8 L157.8,304.6 L158.9,302.6 L160.0,304.6 L161.0,305.0 L162.1,305.4 L163.2,305.7 L164.2,305.1 L165.3,305.5 L166.4,303.7 L167.5,304.8 L168.5,304.6 L169.6,305.3" fill="none" stroke="#c08bd6" stroke-width="1.35" stroke-linejoin="round" opacity="1"/>
<path d="M46.5,302.7 L47.6,303.6 L48.6,304.3 L49.7,304.6 L50.8,303.6 L51.9,303.8 L52.9,303.0 L54.0,303.1 L55.1,302.1 L56.1,301.5 L57.2,302.6 L58.3,305.1 L59.3,304.6 L60.4,305.0 L61.5,303.2 L62.6,304.5 L63.6,302.5 L64.7,303.2 L65.8,301.4 L66.2,302.8 L66.5,304.3 L66.8,304.5 L66.8,304.4 L67.1,304.2 L67.4,304.8 L67.7,303.5 L67.9,301.6 L68.0,304.2 L68.3,302.3 L68.6,303.3 L68.9,302.2 L69.0,302.0 L69.2,301.5 L69.4,298.2 L69.7,294.4 L70.0,282.0 L70.0,283.7 L70.3,267.8 L70.6,247.2 L70.9,223.6 L71.1,202.7 L71.2,192.3 L71.5,166.9 L71.8,153.6 L72.1,158.2 L72.2,164.6 L72.4,172.1 L72.7,184.4 L73.0,198.0 L73.3,208.1 L73.3,210.6 L73.6,218.7 L73.9,226.0 L74.2,235.7 L74.3,239.0 L74.5,242.6 L74.8,249.6 L75.1,252.6 L75.4,259.7 L75.4,259.7 L75.7,262.5 L75.9,265.4 L76.2,268.6 L76.5,270.4 L76.5,272.2 L76.8,275.5 L77.1,276.8 L77.4,279.0 L77.5,281.1 L77.7,281.7 L78.0,282.3 L78.3,285.6 L78.6,285.8 L79.7,289.3 L80.8,290.7 L81.8,292.1 L82.9,292.1 L84.0,296.7 L85.0,296.3 L86.1,295.2 L87.2,296.2 L88.2,296.1 L89.3,294.4 L90.4,295.8 L91.5,296.3 L92.5,296.3 L93.6,294.4 L94.7,295.0 L95.7,296.7 L96.8,296.2 L97.9,295.0 L99.0,294.6 L100.0,295.0 L101.1,294.2 L102.2,293.4 L103.2,295.6 L104.3,294.9 L105.4,293.2 L106.4,294.6 L107.5,296.0 L108.6,293.6 L109.7,292.9 L110.7,291.8 L111.8,295.3 L112.9,291.0 L113.9,294.0 L115.0,292.0 L116.1,291.4 L117.1,291.7 L118.2,292.6 L119.3,293.5 L120.4,292.6 L121.4,293.4 L122.5,295.4 L123.6,290.2 L124.6,291.0 L125.7,290.1 L126.8,292.6 L127.9,289.6 L128.9,289.8 L130.0,288.9 L131.1,289.9 L132.1,291.5 L133.2,290.5 L134.3,292.3 L135.3,291.5 L136.4,289.4 L137.5,290.3 L138.6,289.7 L139.6,289.9 L140.7,287.3 L141.8,287.8 L142.8,289.2 L143.9,287.8 L145.0,289.9 L146.1,289.2 L147.1,287.7 L148.2,289.7 L149.3,288.8 L150.3,290.3 L151.4,289.2 L152.5,287.2 L153.5,289.5 L154.6,287.9 L155.7,288.2 L156.8,288.4 L157.8,288.2 L158.9,285.1 L160.0,284.2 L161.0,286.2 L162.1,287.0 L163.2,286.0 L164.2,287.3 L165.3,286.0 L166.4,286.6 L167.5,287.2 L168.5,286.6 L169.6,287.7" fill="none" stroke="#7030a0" stroke-width="1.35" stroke-linejoin="round" opacity="1"/>
<path d="M46.5,306.7 L47.6,306.1 L48.6,307.7 L49.7,305.5 L50.8,307.5 L51.9,306.7 L52.9,305.1 L54.0,307.3 L55.1,307.7 L56.1,305.8 L57.2,307.1 L58.3,306.5 L59.3,305.4 L60.4,305.0 L61.5,308.8 L62.6,307.3 L63.6,307.5 L64.7,306.8 L65.8,306.8 L66.2,307.4 L66.5,305.9 L66.8,308.0 L66.8,307.3 L67.1,306.3 L67.4,308.2 L67.7,306.5 L67.9,304.1 L68.0,306.3 L68.3,307.1 L68.6,305.8 L68.9,305.3 L69.0,303.6 L69.2,301.2 L69.4,300.4 L69.7,294.5 L70.0,282.2 L70.0,283.8 L70.3,268.2 L70.6,247.1 L70.9,220.7 L71.1,201.3 L71.2,188.4 L71.5,167.1 L71.8,152.2 L72.1,163.4 L72.2,172.2 L72.4,190.8 L72.7,213.7 L73.0,229.4 L73.3,243.3 L73.3,243.1 L73.6,254.8 L73.9,261.8 L74.2,271.1 L74.3,272.7 L74.5,274.6 L74.8,279.6 L75.1,284.4 L75.4,282.4 L75.4,284.6 L75.7,285.8 L75.9,287.0 L76.2,288.2 L76.5,288.0 L76.5,289.7 L76.8,290.3 L77.1,289.0 L77.4,288.9 L77.5,289.7 L77.7,289.1 L78.0,289.3 L78.3,287.8 L78.6,285.9 L79.7,287.0 L80.8,282.1 L81.8,281.4 L82.9,280.6 L84.0,277.5 L85.0,278.2 L86.1,276.3 L87.2,274.2 L88.2,270.9 L89.3,269.5 L90.4,268.9 L91.5,266.8 L92.5,268.9 L93.6,265.5 L94.7,267.3 L95.7,266.4 L96.8,266.0 L97.9,266.9 L99.0,267.0 L100.0,266.9 L101.1,265.9 L102.2,265.4 L103.2,265.2 L104.3,267.3 L105.4,266.6 L106.4,266.9 L107.5,265.3 L108.6,268.0 L109.7,264.9 L110.7,266.2 L111.8,266.9 L112.9,266.0 L113.9,265.4 L115.0,266.9 L116.1,265.3 L117.1,265.9 L118.2,264.1 L119.3,264.3 L120.4,266.4 L121.4,264.5 L122.5,265.7 L123.6,265.7 L124.6,266.7 L125.7,266.1 L126.8,265.7 L127.9,267.9 L128.9,265.9 L130.0,267.1 L131.1,266.6 L132.1,269.3 L133.2,266.9 L134.3,265.7 L135.3,267.0 L136.4,266.1 L137.5,268.5 L138.6,264.1 L139.6,266.2 L140.7,264.3 L141.8,267.8 L142.8,265.3 L143.9,266.2 L145.0,265.3 L146.1,266.8 L147.1,266.4 L148.2,263.1 L149.3,266.7 L150.3,266.8 L151.4,266.6 L152.5,267.5 L153.5,264.9 L154.6,264.6 L155.7,267.1 L156.8,268.3 L157.8,264.3 L158.9,263.7 L160.0,263.9 L161.0,263.3 L162.1,265.5 L163.2,265.0 L164.2,266.6 L165.3,266.5 L166.4,264.3 L167.5,265.8 L168.5,262.4 L169.6,264.4" fill="none" stroke="#e8383d" stroke-width="1.35" stroke-linejoin="round" opacity="1"/>
</g>
<g clip-path="url(#c46_233R)">
<path d="M177.6,304.8 L178.7,307.1 L179.7,307.2 L180.8,305.8 L181.9,305.6 L183.0,307.2 L184.0,306.0 L185.1,307.5 L186.2,306.0 L187.2,306.3 L188.3,306.3 L189.4,306.7 L190.4,306.2 L191.5,306.5 L192.6,305.6 L193.7,303.9 L194.7,307.3 L195.8,305.6 L196.9,306.3 L197.9,305.4 L199.0,306.8 L200.1,306.7 L201.1,307.3 L202.2,306.1 L203.3,306.0 L204.4,305.8 L205.4,305.2 L206.5,305.6 L207.6,306.9 L208.6,304.8 L209.7,304.8 L210.8,305.2 L211.9,304.6 L212.9,304.3 L214.0,306.8 L215.1,306.8 L216.1,304.2 L217.2,304.7 L218.3,306.4 L219.3,306.4 L220.4,306.1 L221.5,305.8 L222.6,307.2 L223.6,305.8 L224.7,306.8 L225.8,306.4 L226.8,304.1 L227.9,305.7 L229.0,305.1 L230.1,304.8 L231.1,304.5 L232.2,305.3 L233.3,304.9 L234.3,304.9 L235.4,302.4 L236.5,304.0 L236.7,305.5 L236.9,305.1 L237.2,304.3 L237.4,303.2 L237.5,302.0 L237.7,302.0 L237.9,304.2 L238.2,304.2 L238.4,305.0 L238.6,303.2 L238.7,303.5 L238.9,300.7 L239.1,303.6 L239.4,305.8 L239.6,303.8 L239.7,303.2 L239.9,304.4 L240.1,304.1 L240.4,303.9 L240.6,303.3 L240.8,303.2 L240.9,304.0 L241.1,302.0 L241.4,303.0 L241.6,302.9 L241.8,303.2 L241.9,302.4 L242.1,300.9 L242.4,302.8 L242.6,301.2 L242.9,300.2 L244.0,301.2 L245.0,299.9 L246.1,300.8 L247.2,298.7 L248.2,298.4 L249.3,299.8 L250.4,301.4 L251.5,300.6 L252.5,298.1 L253.6,297.0 L254.7,298.0 L255.7,297.0 L256.8,299.2 L257.9,298.8 L259.0,299.3 L260.0,299.4 L261.1,301.6 L262.2,299.2 L263.2,298.9 L264.3,301.4 L265.4,301.6 L266.4,300.2 L267.5,301.1 L268.6,301.9 L269.7,298.7 L270.7,299.2 L271.8,300.3 L272.9,298.6 L273.9,301.1 L275.0,301.7 L276.1,300.7 L277.2,301.5 L278.2,301.0 L279.3,300.0 L280.4,300.4 L281.4,300.5 L282.5,298.5 L283.6,299.5 L284.6,299.7 L285.7,300.1 L286.8,300.3 L287.9,299.6 L288.9,301.6 L290.0,299.4 L291.1,301.2 L292.1,300.5 L293.2,301.0 L294.3,300.1 L295.3,300.2 L296.4,299.2 L297.5,301.5 L298.6,301.1 L299.6,300.7 L300.7,301.5" fill="none" stroke="#c08bd6" stroke-width="1.35" stroke-linejoin="round" opacity="1"/>
<path d="M177.6,305.6 L178.7,304.7 L179.7,305.2 L180.8,304.6 L181.9,304.3 L183.0,306.9 L184.0,303.3 L185.1,303.0 L186.2,304.4 L187.2,304.8 L188.3,307.1 L189.4,305.2 L190.4,305.6 L191.5,305.3 L192.6,304.2 L193.7,306.2 L194.7,305.7 L195.8,307.1 L196.9,305.4 L197.9,305.1 L199.0,305.7 L200.1,305.6 L201.1,303.3 L202.2,306.2 L203.3,306.3 L204.4,305.9 L205.4,304.0 L206.5,303.0 L207.6,304.6 L208.6,306.2 L209.7,305.6 L210.8,304.5 L211.9,306.1 L212.9,303.4 L214.0,304.0 L215.1,305.3 L216.1,305.0 L217.2,305.2 L218.3,304.3 L219.3,306.3 L220.4,304.1 L221.5,305.3 L222.6,305.4 L223.6,304.7 L224.7,305.1 L225.8,305.9 L226.8,306.3 L227.9,305.4 L229.0,302.7 L230.1,302.2 L231.1,303.3 L232.2,302.4 L233.3,303.7 L234.3,302.9 L235.4,302.2 L236.5,302.7 L236.7,302.5 L236.9,301.2 L237.2,301.5 L237.4,303.4 L237.5,301.9 L237.7,302.8 L237.9,301.2 L238.2,301.6 L238.4,302.0 L238.6,301.4 L238.7,302.0 L238.9,302.5 L239.1,302.0 L239.4,301.0 L239.6,301.0 L239.7,300.0 L239.9,302.3 L240.1,300.3 L240.4,300.1 L240.6,299.2 L240.8,300.0 L240.9,299.7 L241.1,298.1 L241.4,298.8 L241.6,300.2 L241.8,298.0 L241.9,298.5 L242.1,299.7 L242.4,298.5 L242.6,300.4 L242.9,298.7 L244.0,299.8 L245.0,299.4 L246.1,297.7 L247.2,298.2 L248.2,296.8 L249.3,296.8 L250.4,297.1 L251.5,297.0 L252.5,299.9 L253.6,297.0 L254.7,298.9 L255.7,297.4 L256.8,297.1 L257.9,297.6 L259.0,298.9 L260.0,299.2 L261.1,299.6 L262.2,300.7 L263.2,300.8 L264.3,301.4 L265.4,299.5 L266.4,300.4 L267.5,299.5 L268.6,300.3 L269.7,300.2 L270.7,300.8 L271.8,300.4 L272.9,300.2 L273.9,300.5 L275.0,301.0 L276.1,301.0 L277.2,298.7 L278.2,300.5 L279.3,300.6 L280.4,299.0 L281.4,299.2 L282.5,299.6 L283.6,300.7 L284.6,298.0 L285.7,300.1 L286.8,299.8 L287.9,300.4 L288.9,301.5 L290.0,301.4 L291.1,300.0 L292.1,300.0 L293.2,300.8 L294.3,302.4 L295.3,302.4 L296.4,301.7 L297.5,303.1 L298.6,300.4 L299.6,300.8 L300.7,298.8" fill="none" stroke="#f4a9a8" stroke-width="1.35" stroke-linejoin="round" opacity="1"/>
<path d="M177.6,285.4 L178.7,282.2 L179.7,285.3 L180.8,286.5 L181.9,283.5 L183.0,284.0 L184.0,284.1 L185.1,285.9 L186.2,283.4 L187.2,282.0 L188.3,285.6 L189.4,282.3 L190.4,284.0 L191.5,280.4 L192.6,282.9 L193.7,283.2 L194.7,282.1 L195.8,282.8 L196.9,284.7 L197.9,283.5 L199.0,284.2 L200.1,285.8 L201.1,280.8 L202.2,282.3 L203.3,282.3 L204.4,280.7 L205.4,283.1 L206.5,283.8 L207.6,283.2 L208.6,283.4 L209.7,282.5 L210.8,281.1 L211.9,282.5 L212.9,281.3 L214.0,281.0 L215.1,283.0 L216.1,281.0 L217.2,281.8 L218.3,278.6 L219.3,278.4 L220.4,278.9 L221.5,280.0 L222.6,278.9 L223.6,279.3 L224.7,276.9 L225.8,277.9 L226.8,278.4 L227.9,276.5 L229.0,277.2 L230.1,278.4 L231.1,275.3 L232.2,276.6 L233.3,275.7 L234.3,274.1 L235.4,275.2 L236.5,274.3 L236.7,273.9 L236.9,272.3 L237.2,271.8 L237.4,274.1 L237.5,271.2 L237.7,272.9 L237.9,272.4 L238.2,272.3 L238.4,273.8 L238.6,271.9 L238.7,275.4 L238.9,277.1 L239.1,274.6 L239.4,277.1 L239.6,276.6 L239.7,280.1 L239.9,276.6 L240.1,277.3 L240.4,278.6 L240.6,279.7 L240.8,279.0 L240.9,281.4 L241.1,281.6 L241.4,284.4 L241.6,286.0 L241.8,285.0 L241.9,285.5 L242.1,287.3 L242.4,285.3 L242.6,285.8 L242.9,286.3 L244.0,285.2 L245.0,284.3 L246.1,283.0 L247.2,280.9 L248.2,275.4 L249.3,277.6 L250.4,275.8 L251.5,275.1 L252.5,274.5 L253.6,275.8 L254.7,273.5 L255.7,271.7 L256.8,270.7 L257.9,273.2 L259.0,275.1 L260.0,274.4 L261.1,275.5 L262.2,277.6 L263.2,279.6 L264.3,278.9 L265.4,280.5 L266.4,280.7 L267.5,283.9 L268.6,283.3 L269.7,284.4 L270.7,286.0 L271.8,285.6 L272.9,287.1 L273.9,288.4 L275.0,288.1 L276.1,291.3 L277.2,289.7 L278.2,289.3 L279.3,290.2 L280.4,289.9 L281.4,292.8 L282.5,294.1 L283.6,293.2 L284.6,293.4 L285.7,292.5 L286.8,294.8 L287.9,297.1 L288.9,295.1 L290.0,297.7 L291.1,299.1 L292.1,294.4 L293.2,297.4 L294.3,296.7 L295.3,297.2 L296.4,296.0 L297.5,298.1 L298.6,297.1 L299.6,300.0 L300.7,301.0" fill="none" stroke="#7030a0" stroke-width="1.35" stroke-linejoin="round" opacity="1"/>
<path d="M177.6,264.3 L178.7,265.8 L179.7,266.2 L180.8,264.6 L181.9,264.5 L183.0,265.4 L184.0,267.1 L185.1,266.5 L186.2,265.3 L187.2,266.9 L188.3,267.0 L189.4,264.9 L190.4,263.9 L191.5,267.3 L192.6,269.2 L193.7,268.3 L194.7,267.7 L195.8,266.1 L196.9,265.2 L197.9,265.0 L199.0,265.6 L200.1,264.5 L201.1,265.8 L202.2,265.4 L203.3,265.9 L204.4,262.0 L205.4,264.5 L206.5,266.1 L207.6,266.4 L208.6,265.8 L209.7,266.6 L210.8,266.3 L211.9,266.8 L212.9,264.7 L214.0,266.2 L215.1,266.7 L216.1,266.9 L217.2,267.4 L218.3,266.7 L219.3,267.1 L220.4,266.2 L221.5,268.0 L222.6,265.5 L223.6,265.8 L224.7,265.6 L225.8,267.8 L226.8,267.6 L227.9,265.3 L229.0,264.8 L230.1,266.7 L231.1,265.6 L232.2,266.9 L233.3,266.7 L234.3,267.1 L235.4,265.2 L236.5,265.3 L236.7,266.2 L236.9,266.4 L237.2,265.1 L237.4,265.8 L237.5,266.7 L237.7,263.6 L237.9,263.6 L238.2,262.9 L238.4,260.2 L238.6,259.4 L238.7,260.7 L238.9,259.5 L239.1,260.9 L239.4,260.2 L239.6,261.7 L239.7,258.5 L239.9,264.8 L240.1,265.5 L240.4,271.4 L240.6,274.7 L240.8,274.3 L240.9,273.4 L241.1,272.4 L241.4,271.2 L241.6,272.4 L241.8,271.1 L241.9,273.5 L242.1,271.4 L242.4,271.1 L242.6,272.0 L242.9,270.6 L244.0,269.4 L245.0,268.0 L246.1,267.8 L247.2,270.4 L248.2,272.7 L249.3,273.3 L250.4,278.2 L251.5,279.3 L252.5,279.4 L253.6,287.0 L254.7,287.0 L255.7,287.6 L256.8,292.0 L257.9,289.0 L259.0,296.8 L260.0,292.2 L261.1,292.8 L262.2,294.6 L263.2,296.0 L264.3,296.5 L265.4,298.1 L266.4,296.0 L267.5,298.7 L268.6,297.8 L269.7,296.9 L270.7,299.6 L271.8,298.5 L272.9,298.9 L273.9,300.8 L275.0,298.0 L276.1,300.2 L277.2,302.1 L278.2,299.9 L279.3,301.1 L280.4,300.1 L281.4,298.7 L282.5,300.3 L283.6,298.2 L284.6,300.6 L285.7,298.6 L286.8,299.7 L287.9,298.9 L288.9,300.7 L290.0,300.6 L291.1,301.4 L292.1,299.8 L293.2,299.7 L294.3,298.7 L295.3,300.2 L296.4,301.2 L297.5,301.9 L298.6,301.5 L299.6,301.7 L300.7,299.7" fill="none" stroke="#e8383d" stroke-width="1.35" stroke-linejoin="round" opacity="1"/>
</g>
<rect x="46.50" y="233.20" width="123.10" height="83.20" fill="none" stroke="#000" stroke-width="1.2"/>
<rect x="177.60" y="233.20" width="123.10" height="83.20" fill="none" stroke="#000" stroke-width="1.2"/>
<line x1="43.30" y1="316.40" x2="46.50" y2="316.40" stroke="#000" stroke-width="1.1" />
<text transform="translate(41.5,319.9) scale(1,1.09)" font-size="10" text-anchor="end" fill="#1a1a1a" stroke="#1a1a1a" class="r" >0.1</text>
<line x1="43.30" y1="299.76" x2="46.50" y2="299.76" stroke="#000" stroke-width="1.1" />
<text transform="translate(41.5,303.3) scale(1,1.09)" font-size="10" text-anchor="end" fill="#1a1a1a" stroke="#1a1a1a" class="r" >0.2</text>
<line x1="43.30" y1="283.12" x2="46.50" y2="283.12" stroke="#000" stroke-width="1.1" />
<text transform="translate(41.5,286.6) scale(1,1.09)" font-size="10" text-anchor="end" fill="#1a1a1a" stroke="#1a1a1a" class="r" >0.3</text>
<line x1="43.30" y1="266.48" x2="46.50" y2="266.48" stroke="#000" stroke-width="1.1" />
<text transform="translate(41.5,270.0) scale(1,1.09)" font-size="10" text-anchor="end" fill="#1a1a1a" stroke="#1a1a1a" class="r" >0.4</text>
<line x1="43.30" y1="249.84" x2="46.50" y2="249.84" stroke="#000" stroke-width="1.1" />
<text transform="translate(41.5,253.3) scale(1,1.09)" font-size="10" text-anchor="end" fill="#1a1a1a" stroke="#1a1a1a" class="r" >0.5</text>
<line x1="43.30" y1="233.20" x2="46.50" y2="233.20" stroke="#000" stroke-width="1.1" />
<text transform="translate(41.5,236.7) scale(1,1.09)" font-size="10" text-anchor="end" fill="#1a1a1a" stroke="#1a1a1a" class="r" >0.6</text>
<line x1="46.50" y1="316.40" x2="46.50" y2="319.60" stroke="#000" stroke-width="1.1" />
<text transform="translate(45.2,331.2) scale(1,1.09)" font-size="10" text-anchor="middle" fill="#1a1a1a" stroke="#1a1a1a" class="r" >-10</text>
<line x1="71.12" y1="316.40" x2="71.12" y2="319.60" stroke="#000" stroke-width="1.1" />
<text transform="translate(71.1,331.2) scale(1,1.09)" font-size="10" text-anchor="middle" fill="#1a1a1a" stroke="#1a1a1a" class="r" >TSS</text>
<line x1="95.74" y1="316.40" x2="95.74" y2="319.60" stroke="#000" stroke-width="1.1" />
<text transform="translate(95.7,331.2) scale(1,1.09)" font-size="10" text-anchor="middle" fill="#1a1a1a" stroke="#1a1a1a" class="r" >10</text>
<line x1="120.36" y1="316.40" x2="120.36" y2="319.60" stroke="#000" stroke-width="1.1" />
<text transform="translate(120.4,331.2) scale(1,1.09)" font-size="10" text-anchor="middle" fill="#1a1a1a" stroke="#1a1a1a" class="r" >20</text>
<line x1="144.98" y1="316.40" x2="144.98" y2="319.60" stroke="#000" stroke-width="1.1" />
<text transform="translate(145.0,331.2) scale(1,1.09)" font-size="10" text-anchor="middle" fill="#1a1a1a" stroke="#1a1a1a" class="r" >30</text>
<line x1="169.60" y1="316.40" x2="169.60" y2="319.60" stroke="#000" stroke-width="1.1" />
<text transform="translate(169.6,331.2) scale(1,1.09)" font-size="10" text-anchor="middle" fill="#1a1a1a" stroke="#1a1a1a" class="r" >40</text>
<line x1="189.91" y1="316.40" x2="189.91" y2="319.60" stroke="#000" stroke-width="1.1" />
<text transform="translate(189.9,331.2) scale(1,1.09)" font-size="10" text-anchor="middle" fill="#1a1a1a" stroke="#1a1a1a" class="r" >-20</text>
<line x1="214.53" y1="316.40" x2="214.53" y2="319.60" stroke="#000" stroke-width="1.1" />
<text transform="translate(214.5,331.2) scale(1,1.09)" font-size="10" text-anchor="middle" fill="#1a1a1a" stroke="#1a1a1a" class="r" >-10</text>
<line x1="239.15" y1="316.40" x2="239.15" y2="319.60" stroke="#000" stroke-width="1.1" />
<text transform="translate(239.1,331.2) scale(1,1.09)" font-size="10" text-anchor="middle" fill="#1a1a1a" stroke="#1a1a1a" class="r" >TES</text>
<line x1="263.77" y1="316.40" x2="263.77" y2="319.60" stroke="#000" stroke-width="1.1" />
<text transform="translate(263.8,331.2) scale(1,1.09)" font-size="10" text-anchor="middle" fill="#1a1a1a" stroke="#1a1a1a" class="r" >10</text>
<line x1="288.39" y1="316.40" x2="288.39" y2="319.60" stroke="#000" stroke-width="1.1" />
<text transform="translate(288.4,331.2) scale(1,1.09)" font-size="10" text-anchor="middle" fill="#1a1a1a" stroke="#1a1a1a" class="r" >20</text>
<text transform="translate(173.6,347.8) scale(1,1.09)" font-size="10" text-anchor="middle" fill="#1a1a1a" stroke="#1a1a1a" class="r" >Distance from TSS /TES (kb)</text>
<text x="173.6" y="224.4" font-size="10" text-anchor="middle" font-weight="bold" fill="#000">RPB1-K1268R</text>
<text transform="translate(19.8,273.8) rotate(-90)" font-size="10" text-anchor="middle" fill="#1a1a1a" stroke="#1a1a1a" class="r">RPKM</text>
<clipPath id="c385_233L"><rect x="385.8" y="233.7" width="123.1" height="83.5"/></clipPath>
<clipPath id="c385_233R"><rect x="517.5" y="233.7" width="123.1" height="83.5"/></clipPath>
<g clip-path="url(#c385_233L)">
<path d="M385.8,309.4 L386.9,310.7 L387.9,310.9 L389.0,311.4 L390.1,312.6 L391.2,311.1 L392.2,310.7 L393.3,309.4 L394.4,312.0 L395.4,309.5 L396.5,311.4 L397.6,311.0 L398.6,313.4 L399.7,311.7 L400.8,311.9 L401.9,311.0 L402.9,311.2 L404.0,311.8 L405.1,310.5 L405.5,310.8 L405.8,310.5 L406.1,310.3 L406.1,310.0 L406.4,311.0 L406.7,312.3 L407.0,312.4 L407.2,310.5 L407.3,310.4 L407.6,310.8 L407.9,311.1 L408.2,310.6 L408.3,310.4 L408.5,310.0 L408.7,308.9 L409.0,304.4 L409.3,301.8 L409.3,302.3 L409.6,296.1 L409.9,285.7 L410.2,271.6 L410.4,262.2 L410.5,258.3 L410.8,246.7 L411.1,240.2 L411.4,246.2 L411.5,248.3 L411.7,257.5 L412.0,266.1 L412.3,276.5 L412.6,282.9 L412.6,282.9 L412.9,289.3 L413.2,294.2 L413.5,296.9 L413.6,297.7 L413.8,298.6 L414.1,300.9 L414.4,302.1 L414.7,303.6 L414.7,304.2 L415.0,305.8 L415.2,306.8 L415.5,306.7 L415.8,306.6 L415.8,307.5 L416.1,307.6 L416.4,308.7 L416.7,310.1 L416.8,309.6 L417.0,308.6 L417.3,308.8 L417.6,308.3 L417.9,309.4 L419.0,309.1 L420.1,309.1 L421.1,309.3 L422.2,310.2 L423.3,309.9 L424.3,309.7 L425.4,310.4 L426.5,309.8 L427.5,309.6 L428.6,310.8 L429.7,309.1 L430.8,310.6 L431.8,310.6 L432.9,310.3 L434.0,310.6 L435.0,310.0 L436.1,309.8 L437.2,308.7 L438.3,309.5 L439.3,309.0 L440.4,309.8 L441.5,310.8 L442.5,309.4 L443.6,310.3 L444.7,309.1 L445.7,309.5 L446.8,309.0 L447.9,309.4 L449.0,309.2 L450.0,309.4 L451.1,309.3 L452.2,309.0 L453.2,308.8 L454.3,310.3 L455.4,309.5 L456.4,308.0 L457.5,309.9 L458.6,310.0 L459.7,309.8 L460.7,310.2 L461.8,308.4 L462.9,309.2 L463.9,309.4 L465.0,308.6 L466.1,308.1 L467.2,310.6 L468.2,309.0 L469.3,309.4 L470.4,309.3 L471.4,308.8 L472.5,309.2 L473.6,307.9 L474.6,308.9 L475.7,309.2 L476.8,308.4 L477.9,308.7 L478.9,309.0 L480.0,309.3 L481.1,308.6 L482.1,309.3 L483.2,309.8 L484.3,310.3 L485.4,309.7 L486.4,310.1 L487.5,309.2 L488.6,309.0 L489.6,310.7 L490.7,309.4 L491.8,309.0 L492.8,309.5 L493.9,310.1 L495.0,308.5 L496.1,310.2 L497.1,310.5 L498.2,310.7 L499.3,309.9 L500.3,309.2 L501.4,309.3 L502.5,310.0 L503.5,310.9 L504.6,310.4 L505.7,310.3 L506.8,309.6 L507.8,311.3 L508.9,309.9" fill="none" stroke="#f4a9a8" stroke-width="1.35" stroke-linejoin="round" opacity="1"/>
<path d="M385.8,309.1 L386.9,308.7 L387.9,308.9 L389.0,308.3 L390.1,307.2 L391.2,308.5 L392.2,308.8 L393.3,309.6 L394.4,309.6 L395.4,308.3 L396.5,310.0 L397.6,309.3 L398.6,309.0 L399.7,309.0 L400.8,307.3 L401.9,310.5 L402.9,308.6 L404.0,308.0 L405.1,309.3 L405.5,309.3 L405.8,307.9 L406.1,307.2 L406.1,309.0 L406.4,309.5 L406.7,308.3 L407.0,307.8 L407.2,308.8 L407.3,310.0 L407.6,307.7 L407.9,308.7 L408.2,307.8 L408.3,308.5 L408.5,308.3 L408.7,307.3 L409.0,303.5 L409.3,299.0 L409.3,301.2 L409.6,293.4 L409.9,281.2 L410.2,270.3 L410.4,261.9 L410.5,256.8 L410.8,245.3 L411.1,238.6 L411.4,241.7 L411.5,244.5 L411.7,251.0 L412.0,257.5 L412.3,265.0 L412.6,269.6 L412.6,270.0 L412.9,273.9 L413.2,278.6 L413.5,282.5 L413.6,284.0 L413.8,286.1 L414.1,288.4 L414.4,291.5 L414.7,292.6 L414.7,292.9 L415.0,295.9 L415.2,297.5 L415.5,298.0 L415.8,299.1 L415.8,299.7 L416.1,301.7 L416.4,303.0 L416.7,302.2 L416.8,301.9 L417.0,302.1 L417.3,303.9 L417.6,302.9 L417.9,305.1 L419.0,305.7 L420.1,306.6 L421.1,308.0 L422.2,307.6 L423.3,309.2 L424.3,308.6 L425.4,309.2 L426.5,307.3 L427.5,307.5 L428.6,307.0 L429.7,307.2 L430.8,308.4 L431.8,307.2 L432.9,307.5 L434.0,307.3 L435.0,307.1 L436.1,308.1 L437.2,307.7 L438.3,307.2 L439.3,307.7 L440.4,306.9 L441.5,306.2 L442.5,308.2 L443.6,308.1 L444.7,309.5 L445.7,307.6 L446.8,307.2 L447.9,308.3 L449.0,306.9 L450.0,307.1 L451.1,308.4 L452.2,308.5 L453.2,308.9 L454.3,308.1 L455.4,309.6 L456.4,308.6 L457.5,306.5 L458.6,307.2 L459.7,307.1 L460.7,307.4 L461.8,308.8 L462.9,308.3 L463.9,308.3 L465.0,309.1 L466.1,307.8 L467.2,307.3 L468.2,307.1 L469.3,309.0 L470.4,308.6 L471.4,308.8 L472.5,307.1 L473.6,307.7 L474.6,307.7 L475.7,308.7 L476.8,308.9 L477.9,308.2 L478.9,308.0 L480.0,309.0 L481.1,307.9 L482.1,307.3 L483.2,307.7 L484.3,308.1 L485.4,308.9 L486.4,307.5 L487.5,307.6 L488.6,308.3 L489.6,308.5 L490.7,308.5 L491.8,307.1 L492.8,307.1 L493.9,307.0 L495.0,308.0 L496.1,307.9 L497.1,307.8 L498.2,308.7 L499.3,309.1 L500.3,308.4 L501.4,307.6 L502.5,308.2 L503.5,307.4 L504.6,308.5 L505.7,308.6 L506.8,309.3 L507.8,308.8 L508.9,307.7" fill="none" stroke="#c08bd6" stroke-width="1.35" stroke-linejoin="round" opacity="1"/>
<path d="M385.8,306.7 L386.9,308.9 L387.9,306.3 L389.0,306.7 L390.1,307.6 L391.2,305.6 L392.2,307.0 L393.3,307.3 L394.4,307.1 L395.4,308.1 L396.5,305.1 L397.6,308.6 L398.6,306.1 L399.7,305.8 L400.8,309.0 L401.9,308.4 L402.9,306.6 L404.0,308.0 L405.1,306.9 L405.5,306.9 L405.8,308.2 L406.1,308.1 L406.1,310.1 L406.4,306.7 L406.7,307.9 L407.0,306.3 L407.2,305.6 L407.3,307.4 L407.6,304.0 L407.9,304.8 L408.2,304.7 L408.3,305.8 L408.5,304.6 L408.7,301.9 L409.0,297.8 L409.3,291.3 L409.3,289.4 L409.6,277.6 L409.9,260.0 L410.2,239.4 L410.4,222.3 L410.5,216.3 L410.8,200.4 L411.1,186.7 L411.4,188.7 L411.5,191.7 L411.7,200.8 L412.0,211.2 L412.3,221.9 L412.6,228.3 L412.6,229.8 L412.9,237.6 L413.2,244.0 L413.5,248.8 L413.6,252.9 L413.8,256.4 L414.1,258.6 L414.4,263.7 L414.7,266.4 L414.7,267.6 L415.0,269.7 L415.2,272.7 L415.5,276.9 L415.8,278.2 L415.8,280.2 L416.1,279.2 L416.4,282.1 L416.7,282.3 L416.8,284.1 L417.0,286.5 L417.3,283.9 L417.6,286.1 L417.9,287.2 L419.0,289.2 L420.1,289.4 L421.1,289.9 L422.2,292.1 L423.3,289.7 L424.3,291.1 L425.4,291.5 L426.5,289.0 L427.5,289.6 L428.6,290.9 L429.7,292.1 L430.8,290.3 L431.8,290.2 L432.9,291.0 L434.0,291.7 L435.0,291.7 L436.1,291.9 L437.2,290.0 L438.3,289.9 L439.3,289.4 L440.4,291.2 L441.5,290.3 L442.5,289.5 L443.6,289.8 L444.7,288.9 L445.7,286.4 L446.8,288.7 L447.9,288.2 L449.0,289.5 L450.0,289.1 L451.1,290.2 L452.2,288.1 L453.2,286.9 L454.3,285.6 L455.4,286.6 L456.4,287.5 L457.5,287.7 L458.6,288.9 L459.7,288.2 L460.7,286.9 L461.8,288.1 L462.9,285.7 L463.9,287.4 L465.0,288.0 L466.1,287.4 L467.2,288.0 L468.2,287.6 L469.3,285.1 L470.4,285.9 L471.4,285.2 L472.5,284.3 L473.6,284.3 L474.6,285.8 L475.7,283.8 L476.8,284.0 L477.9,283.5 L478.9,282.4 L480.0,284.0 L481.1,283.3 L482.1,282.9 L483.2,282.6 L484.3,283.6 L485.4,283.1 L486.4,281.6 L487.5,280.8 L488.6,281.2 L489.6,280.4 L490.7,281.9 L491.8,281.6 L492.8,280.7 L493.9,281.4 L495.0,281.8 L496.1,279.5 L497.1,281.1 L498.2,281.6 L499.3,279.9 L500.3,278.0 L501.4,279.8 L502.5,278.5 L503.5,279.8 L504.6,280.6 L505.7,280.4 L506.8,279.2 L507.8,277.0 L508.9,279.2" fill="none" stroke="#7030a0" stroke-width="1.35" stroke-linejoin="round" opacity="1"/>
<path d="M385.8,309.6 L386.9,309.8 L387.9,309.9 L389.0,309.2 L390.1,309.5 L391.2,309.4 L392.2,311.5 L393.3,308.5 L394.4,307.9 L395.4,308.5 L396.5,310.1 L397.6,310.8 L398.6,310.4 L399.7,312.1 L400.8,310.9 L401.9,312.4 L402.9,310.0 L404.0,309.3 L405.1,312.5 L405.5,309.6 L405.8,310.7 L406.1,311.7 L406.1,310.3 L406.4,310.6 L406.7,309.8 L407.0,312.0 L407.2,309.6 L407.3,307.9 L407.6,308.8 L407.9,308.1 L408.2,307.7 L408.3,308.5 L408.5,305.6 L408.7,302.7 L409.0,297.6 L409.3,288.3 L409.3,289.7 L409.6,278.2 L409.9,259.8 L410.2,240.8 L410.4,224.9 L410.5,216.9 L410.8,197.3 L411.1,183.7 L411.4,194.3 L411.5,199.5 L411.7,215.4 L412.0,234.0 L412.3,248.5 L412.6,257.3 L412.6,257.6 L412.9,267.5 L413.2,272.5 L413.5,277.4 L413.6,280.0 L413.8,280.7 L414.1,283.9 L414.4,287.7 L414.7,288.5 L414.7,289.8 L415.0,290.0 L415.2,292.2 L415.5,290.9 L415.8,291.5 L415.8,290.7 L416.1,292.0 L416.4,293.4 L416.7,290.6 L416.8,291.9 L417.0,290.3 L417.3,290.5 L417.6,289.9 L417.9,288.6 L419.0,288.7 L420.1,286.0 L421.1,286.2 L422.2,281.3 L423.3,279.3 L424.3,276.7 L425.4,273.8 L426.5,271.2 L427.5,267.2 L428.6,267.8 L429.7,264.5 L430.8,264.0 L431.8,260.8 L432.9,261.8 L434.0,261.1 L435.0,261.8 L436.1,260.9 L437.2,260.8 L438.3,262.9 L439.3,263.0 L440.4,264.9 L441.5,263.1 L442.5,262.6 L443.6,264.3 L444.7,262.7 L445.7,266.5 L446.8,266.4 L447.9,265.6 L449.0,264.6 L450.0,263.9 L451.1,263.9 L452.2,264.7 L453.2,264.2 L454.3,265.6 L455.4,266.4 L456.4,266.3 L457.5,263.3 L458.6,267.7 L459.7,265.6 L460.7,263.6 L461.8,264.5 L462.9,266.2 L463.9,265.8 L465.0,265.8 L466.1,265.8 L467.2,267.3 L468.2,265.4 L469.3,265.7 L470.4,264.7 L471.4,264.8 L472.5,266.9 L473.6,268.1 L474.6,266.6 L475.7,264.6 L476.8,265.6 L477.9,265.2 L478.9,262.5 L480.0,266.2 L481.1,263.9 L482.1,265.7 L483.2,265.4 L484.3,265.1 L485.4,263.6 L486.4,265.5 L487.5,264.7 L488.6,265.7 L489.6,263.6 L490.7,264.7 L491.8,264.0 L492.8,265.8 L493.9,265.0 L495.0,263.5 L496.1,264.9 L497.1,263.2 L498.2,263.6 L499.3,264.7 L500.3,265.5 L501.4,264.0 L502.5,264.7 L503.5,264.0 L504.6,267.2 L505.7,266.3 L506.8,266.4 L507.8,264.4 L508.9,262.0" fill="none" stroke="#e8383d" stroke-width="1.35" stroke-linejoin="round" opacity="1"/>
</g>
<g clip-path="url(#c385_233R)">
<path d="M517.5,308.4 L518.6,309.6 L519.6,309.7 L520.7,308.3 L521.8,308.8 L522.9,309.0 L523.9,308.4 L525.0,308.4 L526.1,310.2 L527.1,309.4 L528.2,310.9 L529.3,310.1 L530.3,310.4 L531.4,308.8 L532.5,309.1 L533.6,309.8 L534.6,309.8 L535.7,310.7 L536.8,309.5 L537.8,309.1 L538.9,309.1 L540.0,310.4 L541.0,309.0 L542.1,308.6 L543.2,308.5 L544.3,308.3 L545.3,310.7 L546.4,309.2 L547.5,310.2 L548.5,309.3 L549.6,308.9 L550.7,308.8 L551.8,309.5 L552.8,308.7 L553.9,309.6 L555.0,310.0 L556.0,308.5 L557.1,309.1 L558.2,310.0 L559.2,309.2 L560.3,308.4 L561.4,307.4 L562.5,307.8 L563.5,308.3 L564.6,310.6 L565.7,309.5 L566.7,309.2 L567.8,308.9 L568.9,308.9 L570.0,308.9 L571.0,307.7 L572.1,308.0 L573.2,308.9 L574.2,310.0 L575.3,307.3 L576.4,308.5 L576.6,307.3 L576.8,306.1 L577.1,308.1 L577.3,307.2 L577.4,307.7 L577.6,307.7 L577.8,307.9 L578.1,306.8 L578.3,307.6 L578.5,307.5 L578.6,307.0 L578.8,308.0 L579.0,308.2 L579.3,306.2 L579.5,307.9 L579.6,307.6 L579.8,307.0 L580.0,307.7 L580.3,308.3 L580.5,305.9 L580.7,307.3 L580.8,307.1 L581.0,306.7 L581.3,307.0 L581.5,306.4 L581.7,305.7 L581.8,304.3 L582.0,305.3 L582.3,305.3 L582.5,306.8 L582.8,305.6 L583.9,306.2 L584.9,304.5 L586.0,304.6 L587.1,304.0 L588.1,303.3 L589.2,303.6 L590.3,304.1 L591.4,301.9 L592.4,303.3 L593.5,302.8 L594.6,301.9 L595.6,302.5 L596.7,302.1 L597.8,301.3 L598.9,302.4 L599.9,302.9 L601.0,302.9 L602.1,302.7 L603.1,304.7 L604.2,303.1 L605.3,304.2 L606.3,304.3 L607.4,303.3 L608.5,303.4 L609.6,302.7 L610.6,302.6 L611.7,305.2 L612.8,303.9 L613.8,302.2 L614.9,302.6 L616.0,302.1 L617.1,302.8 L618.1,304.4 L619.2,304.2 L620.3,302.9 L621.3,302.8 L622.4,303.7 L623.5,303.7 L624.5,303.2 L625.6,304.9 L626.7,304.1 L627.8,302.6 L628.8,301.5 L629.9,302.8 L631.0,301.5 L632.0,303.5 L633.1,304.3 L634.2,305.8 L635.2,303.8 L636.3,304.5 L637.4,303.0 L638.5,303.9 L639.5,303.7 L640.6,305.2" fill="none" stroke="#c08bd6" stroke-width="1.35" stroke-linejoin="round" opacity="1"/>
<path d="M517.5,308.6 L518.6,308.5 L519.6,308.9 L520.7,308.6 L521.8,309.7 L522.9,309.2 L523.9,310.1 L525.0,309.4 L526.1,307.8 L527.1,307.7 L528.2,309.1 L529.3,308.6 L530.3,307.5 L531.4,307.3 L532.5,309.6 L533.6,309.4 L534.6,308.8 L535.7,307.9 L536.8,309.2 L537.8,308.1 L538.9,308.7 L540.0,307.3 L541.0,308.7 L542.1,309.0 L543.2,309.4 L544.3,308.1 L545.3,308.4 L546.4,309.7 L547.5,308.3 L548.5,309.2 L549.6,308.5 L550.7,308.7 L551.8,308.9 L552.8,308.4 L553.9,308.6 L555.0,307.1 L556.0,307.1 L557.1,307.9 L558.2,308.7 L559.2,308.5 L560.3,310.6 L561.4,310.6 L562.5,308.6 L563.5,308.1 L564.6,307.4 L565.7,308.0 L566.7,308.9 L567.8,307.6 L568.9,306.3 L570.0,307.0 L571.0,306.6 L572.1,306.7 L573.2,306.4 L574.2,304.8 L575.3,304.4 L576.4,305.5 L576.6,305.1 L576.8,304.4 L577.1,303.4 L577.3,304.3 L577.4,303.9 L577.6,305.3 L577.8,304.7 L578.1,303.6 L578.3,302.5 L578.5,303.9 L578.6,303.9 L578.8,302.4 L579.0,303.5 L579.3,303.5 L579.5,302.6 L579.6,302.9 L579.8,302.2 L580.0,302.2 L580.3,303.0 L580.5,302.6 L580.7,302.5 L580.8,303.4 L581.0,303.5 L581.3,302.3 L581.5,304.3 L581.7,302.6 L581.8,302.5 L582.0,302.4 L582.3,301.5 L582.5,301.5 L582.8,300.9 L583.9,301.4 L584.9,301.1 L586.0,300.6 L587.1,298.7 L588.1,299.6 L589.2,301.1 L590.3,300.7 L591.4,301.3 L592.4,301.1 L593.5,300.6 L594.6,299.4 L595.6,302.4 L596.7,300.5 L597.8,301.2 L598.9,302.3 L599.9,302.0 L601.0,302.5 L602.1,302.5 L603.1,302.2 L604.2,304.1 L605.3,302.4 L606.3,303.8 L607.4,302.3 L608.5,303.1 L609.6,302.5 L610.6,302.8 L611.7,302.8 L612.8,303.5 L613.8,304.1 L614.9,303.3 L616.0,303.2 L617.1,302.4 L618.1,305.1 L619.2,304.2 L620.3,303.7 L621.3,305.1 L622.4,304.7 L623.5,302.9 L624.5,303.2 L625.6,305.2 L626.7,303.6 L627.8,304.2 L628.8,304.6 L629.9,304.9 L631.0,305.0 L632.0,305.3 L633.1,305.2 L634.2,304.0 L635.2,304.7 L636.3,304.1 L637.4,305.9 L638.5,307.4 L639.5,306.0 L640.6,305.4" fill="none" stroke="#f4a9a8" stroke-width="1.35" stroke-linejoin="round" opacity="1"/>
<path d="M517.5,277.4 L518.6,275.8 L519.6,277.6 L520.7,279.8 L521.8,277.2 L522.9,277.7 L523.9,277.5 L525.0,275.7 L526.1,277.3 L527.1,276.2 L528.2,277.2 L529.3,278.0 L530.3,276.5 L531.4,278.0 L532.5,275.9 L533.6,276.3 L534.6,277.7 L535.7,276.8 L536.8,277.3 L537.8,277.6 L538.9,276.1 L540.0,276.8 L541.0,276.0 L542.1,277.0 L543.2,275.5 L544.3,274.7 L545.3,275.9 L546.4,275.8 L547.5,276.2 L548.5,275.3 L549.6,276.2 L550.7,275.6 L551.8,274.5 L552.8,276.0 L553.9,278.4 L555.0,276.4 L556.0,275.4 L557.1,276.7 L558.2,274.9 L559.2,275.0 L560.3,275.2 L561.4,275.6 L562.5,275.8 L563.5,275.6 L564.6,275.1 L565.7,274.3 L566.7,274.1 L567.8,274.5 L568.9,274.0 L570.0,273.3 L571.0,274.9 L572.1,274.3 L573.2,274.3 L574.2,273.9 L575.3,274.9 L576.4,275.0 L576.6,275.6 L576.8,274.6 L577.1,274.9 L577.3,277.3 L577.4,275.9 L577.6,277.4 L577.8,274.1 L578.1,275.5 L578.3,275.0 L578.5,275.3 L578.6,276.2 L578.8,277.6 L579.0,277.7 L579.3,280.4 L579.5,281.8 L579.6,282.1 L579.8,285.7 L580.0,285.3 L580.3,287.9 L580.5,289.2 L580.7,291.3 L580.8,290.5 L581.0,291.7 L581.3,293.9 L581.5,293.1 L581.7,294.2 L581.8,295.3 L582.0,294.6 L582.3,293.4 L582.5,292.9 L582.8,292.7 L583.9,290.8 L584.9,288.3 L586.0,288.3 L587.1,286.3 L588.1,285.2 L589.2,283.4 L590.3,281.4 L591.4,281.4 L592.4,282.7 L593.5,281.4 L594.6,279.5 L595.6,280.0 L596.7,278.8 L597.8,279.0 L598.9,282.0 L599.9,280.8 L601.0,282.4 L602.1,282.7 L603.1,284.7 L604.2,285.1 L605.3,285.9 L606.3,286.0 L607.4,286.9 L608.5,287.7 L609.6,286.4 L610.6,287.1 L611.7,289.7 L612.8,289.6 L613.8,287.6 L614.9,290.4 L616.0,289.0 L617.1,289.7 L618.1,292.8 L619.2,293.1 L620.3,293.7 L621.3,294.9 L622.4,295.3 L623.5,295.1 L624.5,293.9 L625.6,296.5 L626.7,296.7 L627.8,298.1 L628.8,299.5 L629.9,296.5 L631.0,300.5 L632.0,298.4 L633.1,298.0 L634.2,300.0 L635.2,298.4 L636.3,298.9 L637.4,300.7 L638.5,300.0 L639.5,301.7 L640.6,300.1" fill="none" stroke="#7030a0" stroke-width="1.35" stroke-linejoin="round" opacity="1"/>
<path d="M517.5,267.2 L518.6,266.6 L519.6,266.6 L520.7,266.9 L521.8,267.6 L522.9,266.3 L523.9,267.7 L525.0,268.2 L526.1,267.5 L527.1,266.9 L528.2,265.2 L529.3,265.9 L530.3,267.4 L531.4,267.3 L532.5,267.9 L533.6,266.2 L534.6,269.1 L535.7,267.9 L536.8,267.2 L537.8,268.6 L538.9,267.1 L540.0,267.8 L541.0,268.9 L542.1,267.9 L543.2,267.8 L544.3,267.4 L545.3,268.8 L546.4,268.9 L547.5,266.4 L548.5,270.2 L549.6,268.7 L550.7,268.1 L551.8,269.8 L552.8,269.2 L553.9,270.2 L555.0,269.4 L556.0,268.8 L557.1,270.9 L558.2,270.2 L559.2,270.7 L560.3,270.7 L561.4,270.3 L562.5,271.3 L563.5,270.1 L564.6,269.4 L565.7,269.4 L566.7,270.2 L567.8,272.0 L568.9,269.9 L570.0,272.0 L571.0,271.3 L572.1,270.4 L573.2,273.5 L574.2,272.2 L575.3,273.3 L576.4,273.4 L576.6,274.3 L576.8,272.9 L577.1,273.4 L577.3,272.2 L577.4,271.9 L577.6,274.6 L577.8,271.4 L578.1,268.3 L578.3,266.2 L578.5,263.7 L578.6,262.0 L578.8,263.9 L579.0,267.6 L579.3,268.8 L579.5,269.3 L579.6,272.1 L579.8,272.9 L580.0,272.8 L580.3,275.4 L580.5,280.3 L580.7,281.5 L580.8,280.6 L581.0,284.4 L581.3,285.6 L581.5,287.4 L581.7,286.0 L581.8,289.1 L582.0,287.9 L582.3,286.8 L582.5,283.9 L582.8,283.7 L583.9,283.4 L584.9,279.0 L586.0,276.6 L587.1,275.7 L588.1,273.3 L589.2,274.6 L590.3,276.4 L591.4,279.1 L592.4,281.3 L593.5,283.4 L594.6,285.6 L595.6,288.5 L596.7,288.6 L597.8,291.6 L598.9,293.5 L599.9,293.1 L601.0,295.1 L602.1,295.0 L603.1,297.7 L604.2,296.3 L605.3,297.7 L606.3,299.4 L607.4,300.7 L608.5,299.7 L609.6,300.4 L610.6,301.3 L611.7,301.0 L612.8,300.1 L613.8,300.8 L614.9,298.8 L616.0,302.7 L617.1,303.1 L618.1,301.4 L619.2,301.1 L620.3,300.9 L621.3,300.6 L622.4,299.4 L623.5,301.9 L624.5,302.3 L625.6,303.0 L626.7,300.9 L627.8,300.7 L628.8,301.7 L629.9,300.2 L631.0,301.2 L632.0,299.6 L633.1,300.7 L634.2,302.8 L635.2,303.3 L636.3,304.1 L637.4,304.6 L638.5,302.5 L639.5,301.6 L640.6,300.7" fill="none" stroke="#e8383d" stroke-width="1.35" stroke-linejoin="round" opacity="1"/>
</g>
<rect x="385.80" y="233.70" width="123.10" height="83.50" fill="none" stroke="#000" stroke-width="1.2"/>
<rect x="517.50" y="233.70" width="123.10" height="83.50" fill="none" stroke="#000" stroke-width="1.2"/>
<line x1="382.60" y1="317.20" x2="385.80" y2="317.20" stroke="#000" stroke-width="1.1" />
<text transform="translate(380.8,320.7) scale(1,1.09)" font-size="10" text-anchor="end" fill="#1a1a1a" stroke="#1a1a1a" class="r" >0.1</text>
<line x1="382.60" y1="305.27" x2="385.80" y2="305.27" stroke="#000" stroke-width="1.1" />
<text transform="translate(380.8,308.8) scale(1,1.09)" font-size="10" text-anchor="end" fill="#1a1a1a" stroke="#1a1a1a" class="r" >0.2</text>
<line x1="382.60" y1="293.34" x2="385.80" y2="293.34" stroke="#000" stroke-width="1.1" />
<text transform="translate(380.8,296.8) scale(1,1.09)" font-size="10" text-anchor="end" fill="#1a1a1a" stroke="#1a1a1a" class="r" >0.3</text>
<line x1="382.60" y1="281.41" x2="385.80" y2="281.41" stroke="#000" stroke-width="1.1" />
<text transform="translate(380.8,284.9) scale(1,1.09)" font-size="10" text-anchor="end" fill="#1a1a1a" stroke="#1a1a1a" class="r" >0.4</text>
<line x1="382.60" y1="269.49" x2="385.80" y2="269.49" stroke="#000" stroke-width="1.1" />
<text transform="translate(380.8,273.0) scale(1,1.09)" font-size="10" text-anchor="end" fill="#1a1a1a" stroke="#1a1a1a" class="r" >0.5</text>
<line x1="382.60" y1="257.56" x2="385.80" y2="257.56" stroke="#000" stroke-width="1.1" />
<text transform="translate(380.8,261.1) scale(1,1.09)" font-size="10" text-anchor="end" fill="#1a1a1a" stroke="#1a1a1a" class="r" >0.6</text>
<line x1="382.60" y1="245.63" x2="385.80" y2="245.63" stroke="#000" stroke-width="1.1" />
<text transform="translate(380.8,249.1) scale(1,1.09)" font-size="10" text-anchor="end" fill="#1a1a1a" stroke="#1a1a1a" class="r" >0.7</text>
<line x1="382.60" y1="233.70" x2="385.80" y2="233.70" stroke="#000" stroke-width="1.1" />
<text transform="translate(380.8,237.2) scale(1,1.09)" font-size="10" text-anchor="end" fill="#1a1a1a" stroke="#1a1a1a" class="r" >0.8</text>
<line x1="385.80" y1="317.20" x2="385.80" y2="320.40" stroke="#000" stroke-width="1.1" />
<text transform="translate(384.5,332.0) scale(1,1.09)" font-size="10" text-anchor="middle" fill="#1a1a1a" stroke="#1a1a1a" class="r" >-10</text>
<line x1="410.42" y1="317.20" x2="410.42" y2="320.40" stroke="#000" stroke-width="1.1" />
<text transform="translate(410.4,332.0) scale(1,1.09)" font-size="10" text-anchor="middle" fill="#1a1a1a" stroke="#1a1a1a" class="r" >TSS</text>
<line x1="435.04" y1="317.20" x2="435.04" y2="320.40" stroke="#000" stroke-width="1.1" />
<text transform="translate(435.0,332.0) scale(1,1.09)" font-size="10" text-anchor="middle" fill="#1a1a1a" stroke="#1a1a1a" class="r" >10</text>
<line x1="459.66" y1="317.20" x2="459.66" y2="320.40" stroke="#000" stroke-width="1.1" />
<text transform="translate(459.7,332.0) scale(1,1.09)" font-size="10" text-anchor="middle" fill="#1a1a1a" stroke="#1a1a1a" class="r" >20</text>
<line x1="484.28" y1="317.20" x2="484.28" y2="320.40" stroke="#000" stroke-width="1.1" />
<text transform="translate(484.3,332.0) scale(1,1.09)" font-size="10" text-anchor="middle" fill="#1a1a1a" stroke="#1a1a1a" class="r" >30</text>
<line x1="508.90" y1="317.20" x2="508.90" y2="320.40" stroke="#000" stroke-width="1.1" />
<text transform="translate(508.9,332.0) scale(1,1.09)" font-size="10" text-anchor="middle" fill="#1a1a1a" stroke="#1a1a1a" class="r" >40</text>
<line x1="529.81" y1="317.20" x2="529.81" y2="320.40" stroke="#000" stroke-width="1.1" />
<text transform="translate(529.8,332.0) scale(1,1.09)" font-size="10" text-anchor="middle" fill="#1a1a1a" stroke="#1a1a1a" class="r" >-20</text>
<line x1="554.43" y1="317.20" x2="554.43" y2="320.40" stroke="#000" stroke-width="1.1" />
<text transform="translate(554.4,332.0) scale(1,1.09)" font-size="10" text-anchor="middle" fill="#1a1a1a" stroke="#1a1a1a" class="r" >-10</text>
<line x1="579.05" y1="317.20" x2="579.05" y2="320.40" stroke="#000" stroke-width="1.1" />
<text transform="translate(579.0,332.0) scale(1,1.09)" font-size="10" text-anchor="middle" fill="#1a1a1a" stroke="#1a1a1a" class="r" >TES</text>
<line x1="603.67" y1="317.20" x2="603.67" y2="320.40" stroke="#000" stroke-width="1.1" />
<text transform="translate(603.7,332.0) scale(1,1.09)" font-size="10" text-anchor="middle" fill="#1a1a1a" stroke="#1a1a1a" class="r" >10</text>
<line x1="628.29" y1="317.20" x2="628.29" y2="320.40" stroke="#000" stroke-width="1.1" />
<text transform="translate(628.3,332.0) scale(1,1.09)" font-size="10" text-anchor="middle" fill="#1a1a1a" stroke="#1a1a1a" class="r" >20</text>
<text transform="translate(513.2,348.6) scale(1,1.09)" font-size="10" text-anchor="middle" fill="#1a1a1a" stroke="#1a1a1a" class="r" >Distance from TSS /TES (kb)</text>
<text x="513.2" y="224.9" font-size="10" text-anchor="middle" font-weight="bold" fill="#000">RPB1-K1268R +p97i</text>
<text transform="translate(359.1,274.4) rotate(-90)" font-size="10" text-anchor="middle" fill="#1a1a1a" stroke="#1a1a1a" class="r">RPKM</text>
<clipPath id="c46_386L"><rect x="46.7" y="386.2" width="123.1" height="82.9"/></clipPath>
<clipPath id="c46_386R"><rect x="177.4" y="386.2" width="123.1" height="82.9"/></clipPath>
<g clip-path="url(#c46_386L)">
<path d="M46.7,464.3 L47.8,463.8 L48.8,465.1 L49.9,464.5 L51.0,463.6 L52.1,463.3 L53.1,464.2 L54.2,464.6 L55.3,465.1 L56.3,464.3 L57.4,464.1 L58.5,465.2 L59.5,463.9 L60.6,464.0 L61.7,464.2 L62.8,465.0 L63.8,464.0 L64.9,465.0 L66.0,462.9 L66.4,463.7 L66.7,464.5 L67.0,463.0 L67.0,463.4 L67.3,464.1 L67.6,462.4 L67.9,464.3 L68.1,463.2 L68.2,462.9 L68.5,465.1 L68.8,463.2 L69.1,463.7 L69.2,463.6 L69.4,463.6 L69.6,461.6 L69.9,459.8 L70.2,455.4 L70.2,454.9 L70.5,448.5 L70.8,437.1 L71.1,426.2 L71.3,417.2 L71.4,412.8 L71.7,401.1 L72.0,393.6 L72.3,398.3 L72.4,402.6 L72.6,411.2 L72.9,421.2 L73.2,429.0 L73.5,435.4 L73.5,436.6 L73.8,442.9 L74.1,445.1 L74.4,449.2 L74.5,451.2 L74.7,452.5 L75.0,455.3 L75.3,457.2 L75.6,458.2 L75.6,458.3 L75.9,459.2 L76.1,460.6 L76.4,460.8 L76.7,460.8 L76.7,461.8 L77.0,462.5 L77.3,464.2 L77.6,463.2 L77.7,463.3 L77.9,463.7 L78.2,463.6 L78.5,462.9 L78.8,463.2 L79.9,462.6 L81.0,463.3 L82.0,462.4 L83.1,463.1 L84.2,464.1 L85.2,463.4 L86.3,464.0 L87.4,463.7 L88.4,464.4 L89.5,464.1 L90.6,463.4 L91.7,463.1 L92.7,463.2 L93.8,463.4 L94.9,463.6 L95.9,463.5 L97.0,463.5 L98.1,464.0 L99.2,464.3 L100.2,464.1 L101.3,462.4 L102.4,463.4 L103.4,463.1 L104.5,463.1 L105.6,463.3 L106.6,463.5 L107.7,464.5 L108.8,465.4 L109.9,464.2 L110.9,464.8 L112.0,463.7 L113.1,463.3 L114.1,462.7 L115.2,462.9 L116.3,463.7 L117.3,464.5 L118.4,464.6 L119.5,463.8 L120.6,463.4 L121.6,464.6 L122.7,463.6 L123.8,464.0 L124.8,463.7 L125.9,464.2 L127.0,463.9 L128.1,464.2 L129.1,464.1 L130.2,464.8 L131.3,464.1 L132.3,463.2 L133.4,464.0 L134.5,463.9 L135.5,464.4 L136.6,463.3 L137.7,464.5 L138.8,463.9 L139.8,463.9 L140.9,464.4 L142.0,463.1 L143.0,463.1 L144.1,463.3 L145.2,463.1 L146.3,463.4 L147.3,463.7 L148.4,463.2 L149.5,463.7 L150.5,463.5 L151.6,464.0 L152.7,464.3 L153.7,464.3 L154.8,464.1 L155.9,464.0 L157.0,463.5 L158.0,465.1 L159.1,464.0 L160.2,465.3 L161.2,464.7 L162.3,464.2 L163.4,465.5 L164.4,465.2 L165.5,464.3 L166.6,464.4 L167.7,464.3 L168.7,464.7 L169.8,462.8" fill="none" stroke="#f4a9a8" stroke-width="1.35" stroke-linejoin="round" opacity="1"/>
<path d="M46.7,464.0 L47.8,463.8 L48.8,463.7 L49.9,463.8 L51.0,463.6 L52.1,463.5 L53.1,462.2 L54.2,462.9 L55.3,463.2 L56.3,463.2 L57.4,463.3 L58.5,462.4 L59.5,462.8 L60.6,462.3 L61.7,464.3 L62.8,462.4 L63.8,462.2 L64.9,462.1 L66.0,463.2 L66.4,464.1 L66.7,462.9 L67.0,463.2 L67.0,463.7 L67.3,463.2 L67.6,462.1 L67.9,462.0 L68.1,462.7 L68.2,463.8 L68.5,462.0 L68.8,463.9 L69.1,462.9 L69.2,463.5 L69.4,461.7 L69.6,461.0 L69.9,458.1 L70.2,453.9 L70.2,453.5 L70.5,446.4 L70.8,437.5 L71.1,423.6 L71.3,414.9 L71.4,411.1 L71.7,399.9 L72.0,392.9 L72.3,395.1 L72.4,398.5 L72.6,404.6 L72.9,412.5 L73.2,419.6 L73.5,424.6 L73.5,424.8 L73.8,430.1 L74.1,434.6 L74.4,437.8 L74.5,439.6 L74.7,440.9 L75.0,443.3 L75.3,446.2 L75.6,448.4 L75.6,448.9 L75.9,451.6 L76.1,451.2 L76.4,454.0 L76.7,453.5 L76.7,454.4 L77.0,455.0 L77.3,456.1 L77.6,457.8 L77.7,456.6 L77.9,457.4 L78.2,458.6 L78.5,459.2 L78.8,459.4 L79.9,460.8 L81.0,461.6 L82.0,462.8 L83.1,462.2 L84.2,462.2 L85.2,461.3 L86.3,462.1 L87.4,462.3 L88.4,461.8 L89.5,462.3 L90.6,462.3 L91.7,462.5 L92.7,463.1 L93.8,462.0 L94.9,462.5 L95.9,462.8 L97.0,463.5 L98.1,463.0 L99.2,461.9 L100.2,463.2 L101.3,463.2 L102.4,462.3 L103.4,463.2 L104.5,463.5 L105.6,462.7 L106.6,463.0 L107.7,463.2 L108.8,463.3 L109.9,462.6 L110.9,462.6 L112.0,462.7 L113.1,462.6 L114.1,461.9 L115.2,461.9 L116.3,461.9 L117.3,461.9 L118.4,464.1 L119.5,462.9 L120.6,462.8 L121.6,462.8 L122.7,463.8 L123.8,462.5 L124.8,462.9 L125.9,463.2 L127.0,462.9 L128.1,463.0 L129.1,462.9 L130.2,462.0 L131.3,462.5 L132.3,462.7 L133.4,462.3 L134.5,462.4 L135.5,462.5 L136.6,461.5 L137.7,463.1 L138.8,461.5 L139.8,462.4 L140.9,463.4 L142.0,462.8 L143.0,461.9 L144.1,462.6 L145.2,463.0 L146.3,462.1 L147.3,461.3 L148.4,463.1 L149.5,462.0 L150.5,462.5 L151.6,462.4 L152.7,462.7 L153.7,462.6 L154.8,462.1 L155.9,462.4 L157.0,463.2 L158.0,461.8 L159.1,463.4 L160.2,462.4 L161.2,462.8 L162.3,462.3 L163.4,462.5 L164.4,462.0 L165.5,462.6 L166.6,462.0 L167.7,462.6 L168.7,462.1 L169.8,463.5" fill="none" stroke="#c08bd6" stroke-width="1.35" stroke-linejoin="round" opacity="1"/>
<path d="M46.7,459.8 L47.8,461.5 L48.8,460.6 L49.9,461.4 L51.0,462.7 L52.1,463.0 L53.1,460.8 L54.2,460.4 L55.3,459.7 L56.3,459.0 L57.4,460.4 L58.5,461.4 L59.5,462.0 L60.6,461.3 L61.7,461.7 L62.8,462.0 L63.8,459.9 L64.9,463.2 L66.0,461.7 L66.4,461.4 L66.7,461.1 L67.0,462.4 L67.0,462.2 L67.3,462.1 L67.6,462.8 L67.9,461.9 L68.1,461.8 L68.2,462.0 L68.5,460.7 L68.8,461.3 L69.1,459.2 L69.2,459.5 L69.4,457.8 L69.6,456.0 L69.9,451.9 L70.2,445.7 L70.2,444.9 L70.5,432.5 L70.8,414.5 L71.1,393.0 L71.3,377.9 L71.4,372.5 L71.7,352.7 L72.0,342.1 L72.3,346.4 L72.4,349.1 L72.6,356.9 L72.9,367.9 L73.2,377.2 L73.5,383.0 L73.5,384.8 L73.8,393.1 L74.1,396.3 L74.4,404.1 L74.5,407.3 L74.7,408.9 L75.0,415.0 L75.3,417.3 L75.6,423.4 L75.6,423.9 L75.9,425.2 L76.1,428.2 L76.4,429.2 L76.7,433.6 L76.7,433.8 L77.0,435.1 L77.3,436.5 L77.6,437.6 L77.7,438.3 L77.9,437.5 L78.2,440.7 L78.5,441.2 L78.8,441.4 L79.9,444.1 L81.0,445.2 L82.0,445.4 L83.1,445.8 L84.2,446.2 L85.2,445.3 L86.3,446.0 L87.4,443.8 L88.4,444.8 L89.5,441.6 L90.6,441.7 L91.7,442.4 L92.7,443.2 L93.8,443.3 L94.9,441.3 L95.9,441.5 L97.0,441.4 L98.1,442.5 L99.2,441.0 L100.2,442.1 L101.3,441.2 L102.4,442.2 L103.4,441.1 L104.5,440.5 L105.6,441.2 L106.6,441.5 L107.7,440.4 L108.8,440.8 L109.9,439.6 L110.9,442.6 L112.0,440.4 L113.1,440.2 L114.1,441.7 L115.2,441.1 L116.3,439.1 L117.3,441.0 L118.4,440.5 L119.5,439.2 L120.6,440.1 L121.6,439.3 L122.7,440.2 L123.8,439.3 L124.8,438.5 L125.9,438.8 L127.0,440.7 L128.1,438.5 L129.1,439.0 L130.2,439.6 L131.3,437.4 L132.3,439.4 L133.4,436.3 L134.5,438.1 L135.5,436.3 L136.6,437.8 L137.7,438.5 L138.8,437.3 L139.8,436.8 L140.9,436.7 L142.0,436.2 L143.0,437.9 L144.1,437.1 L145.2,436.3 L146.3,437.0 L147.3,437.6 L148.4,437.5 L149.5,436.2 L150.5,436.6 L151.6,437.4 L152.7,437.7 L153.7,435.5 L154.8,437.2 L155.9,435.5 L157.0,436.2 L158.0,437.0 L159.1,435.0 L160.2,435.7 L161.2,434.4 L162.3,433.9 L163.4,435.9 L164.4,434.6 L165.5,434.3 L166.6,435.1 L167.7,435.6 L168.7,433.7 L169.8,435.5" fill="none" stroke="#7030a0" stroke-width="1.35" stroke-linejoin="round" opacity="1"/>
<path d="M46.7,463.0 L47.8,463.0 L48.8,463.6 L49.9,461.1 L51.0,463.7 L52.1,461.5 L53.1,460.5 L54.2,462.1 L55.3,461.0 L56.3,463.8 L57.4,462.6 L58.5,463.1 L59.5,462.2 L60.6,462.6 L61.7,463.8 L62.8,462.9 L63.8,463.0 L64.9,462.7 L66.0,462.1 L66.4,462.5 L66.7,460.9 L67.0,459.8 L67.0,462.5 L67.3,461.4 L67.6,462.6 L67.9,460.7 L68.1,460.6 L68.2,462.0 L68.5,463.1 L68.8,461.2 L69.1,458.6 L69.2,459.3 L69.4,457.4 L69.6,456.0 L69.9,452.8 L70.2,442.3 L70.2,441.8 L70.5,430.7 L70.8,413.6 L71.1,392.1 L71.3,377.8 L71.4,370.0 L71.7,350.6 L72.0,340.6 L72.3,347.6 L72.4,354.5 L72.6,370.2 L72.9,386.6 L73.2,401.0 L73.5,409.9 L73.5,409.3 L73.8,418.7 L74.1,426.5 L74.4,430.7 L74.5,431.7 L74.7,434.0 L75.0,437.9 L75.3,438.9 L75.6,440.4 L75.6,440.8 L75.9,441.0 L76.1,443.7 L76.4,443.5 L76.7,443.5 L76.7,442.7 L77.0,444.6 L77.3,442.5 L77.6,443.6 L77.7,441.1 L77.9,440.5 L78.2,439.8 L78.5,440.2 L78.8,440.8 L79.9,437.1 L81.0,435.8 L82.0,432.4 L83.1,430.7 L84.2,428.8 L85.2,426.6 L86.3,424.1 L87.4,424.8 L88.4,422.1 L89.5,420.3 L90.6,423.2 L91.7,421.6 L92.7,420.8 L93.8,419.0 L94.9,418.1 L95.9,416.7 L97.0,415.7 L98.1,415.9 L99.2,416.9 L100.2,416.8 L101.3,416.6 L102.4,416.2 L103.4,415.4 L104.5,415.5 L105.6,415.0 L106.6,417.4 L107.7,414.9 L108.8,414.1 L109.9,415.8 L110.9,416.8 L112.0,414.2 L113.1,416.0 L114.1,417.9 L115.2,415.3 L116.3,414.7 L117.3,414.8 L118.4,414.1 L119.5,414.7 L120.6,415.3 L121.6,417.0 L122.7,416.3 L123.8,414.9 L124.8,414.0 L125.9,415.8 L127.0,414.7 L128.1,413.1 L129.1,414.8 L130.2,414.9 L131.3,413.0 L132.3,412.9 L133.4,413.9 L134.5,415.3 L135.5,413.3 L136.6,414.2 L137.7,412.1 L138.8,412.6 L139.8,412.3 L140.9,412.4 L142.0,413.3 L143.0,411.4 L144.1,411.0 L145.2,411.6 L146.3,411.0 L147.3,413.5 L148.4,411.7 L149.5,412.2 L150.5,413.7 L151.6,412.9 L152.7,413.2 L153.7,413.3 L154.8,412.2 L155.9,411.2 L157.0,412.9 L158.0,412.5 L159.1,414.3 L160.2,413.0 L161.2,411.9 L162.3,412.1 L163.4,412.6 L164.4,413.0 L165.5,413.3 L166.6,412.9 L167.7,413.9 L168.7,414.1 L169.8,412.1" fill="none" stroke="#e8383d" stroke-width="1.35" stroke-linejoin="round" opacity="1"/>
</g>
<g clip-path="url(#c46_386R)">
<path d="M177.4,463.6 L178.5,464.0 L179.5,463.6 L180.6,463.5 L181.7,463.2 L182.8,465.4 L183.8,464.0 L184.9,465.0 L186.0,463.7 L187.0,463.2 L188.1,464.8 L189.2,463.8 L190.2,464.1 L191.3,463.8 L192.4,464.1 L193.5,464.6 L194.5,464.8 L195.6,464.1 L196.7,464.0 L197.7,465.3 L198.8,465.7 L199.9,463.0 L200.9,463.4 L202.0,463.8 L203.1,464.9 L204.2,464.5 L205.2,464.3 L206.3,465.2 L207.4,463.3 L208.4,464.2 L209.5,463.9 L210.6,464.5 L211.7,464.4 L212.7,464.0 L213.8,463.3 L214.9,463.5 L215.9,463.2 L217.0,463.1 L218.1,462.7 L219.1,462.4 L220.2,463.6 L221.3,464.2 L222.4,464.1 L223.4,462.5 L224.5,463.9 L225.6,463.2 L226.6,463.0 L227.7,462.6 L228.8,463.0 L229.9,463.9 L230.9,463.8 L232.0,462.9 L233.1,462.7 L234.1,462.7 L235.2,462.6 L236.3,463.4 L236.5,462.9 L236.7,461.7 L237.0,463.4 L237.2,462.8 L237.3,464.6 L237.5,464.2 L237.7,464.2 L238.0,464.6 L238.2,463.3 L238.4,464.0 L238.5,463.7 L238.7,463.6 L238.9,463.7 L239.2,462.0 L239.4,463.3 L239.5,462.6 L239.7,463.3 L239.9,463.0 L240.2,462.9 L240.4,463.0 L240.6,463.1 L240.7,462.3 L240.9,461.4 L241.2,462.1 L241.4,462.4 L241.6,462.5 L241.7,460.3 L241.9,461.2 L242.2,461.8 L242.4,461.9 L242.7,462.7 L243.8,462.0 L244.8,461.0 L245.9,460.9 L247.0,461.2 L248.0,460.6 L249.1,459.9 L250.2,459.7 L251.3,461.6 L252.3,460.5 L253.4,459.5 L254.5,460.9 L255.5,459.9 L256.6,460.7 L257.7,458.8 L258.8,459.8 L259.8,459.9 L260.9,458.9 L262.0,457.3 L263.0,459.7 L264.1,460.2 L265.2,459.1 L266.2,459.3 L267.3,458.3 L268.4,460.7 L269.5,461.0 L270.5,460.1 L271.6,459.9 L272.7,459.6 L273.7,459.1 L274.8,460.9 L275.9,460.2 L277.0,459.6 L278.0,459.3 L279.1,459.6 L280.2,460.3 L281.2,460.7 L282.3,458.9 L283.4,459.2 L284.4,458.1 L285.5,460.1 L286.6,459.0 L287.7,460.2 L288.7,460.0 L289.8,460.3 L290.9,460.5 L291.9,461.0 L293.0,460.8 L294.1,460.3 L295.1,460.2 L296.2,459.5 L297.3,460.2 L298.4,460.5 L299.4,459.5 L300.5,460.7" fill="none" stroke="#c08bd6" stroke-width="1.35" stroke-linejoin="round" opacity="1"/>
<path d="M177.4,464.1 L178.5,464.0 L179.5,464.3 L180.6,464.0 L181.7,464.0 L182.8,463.7 L183.8,464.4 L184.9,464.0 L186.0,466.1 L187.0,463.8 L188.1,464.9 L189.2,463.5 L190.2,464.3 L191.3,463.6 L192.4,463.0 L193.5,464.4 L194.5,463.5 L195.6,463.9 L196.7,463.5 L197.7,464.6 L198.8,464.0 L199.9,464.1 L200.9,464.5 L202.0,464.0 L203.1,464.7 L204.2,462.5 L205.2,463.3 L206.3,462.3 L207.4,464.4 L208.4,464.8 L209.5,463.7 L210.6,465.1 L211.7,463.5 L212.7,463.6 L213.8,463.5 L214.9,463.0 L215.9,463.3 L217.0,462.5 L218.1,463.2 L219.1,464.8 L220.2,463.5 L221.3,464.7 L222.4,463.7 L223.4,464.1 L224.5,463.4 L225.6,462.2 L226.6,463.3 L227.7,463.3 L228.8,463.3 L229.9,462.8 L230.9,461.8 L232.0,463.5 L233.1,462.7 L234.1,461.5 L235.2,462.4 L236.3,461.5 L236.5,460.8 L236.7,461.5 L237.0,462.0 L237.2,462.3 L237.3,462.6 L237.5,462.4 L237.7,462.2 L238.0,461.4 L238.2,461.3 L238.4,462.5 L238.5,462.4 L238.7,461.5 L238.9,463.2 L239.2,462.2 L239.4,461.9 L239.5,462.3 L239.7,461.9 L239.9,461.0 L240.2,462.7 L240.4,462.1 L240.6,462.2 L240.7,461.6 L240.9,462.5 L241.2,460.6 L241.4,461.5 L241.6,461.5 L241.7,461.6 L241.9,461.8 L242.2,462.0 L242.4,460.3 L242.7,460.7 L243.8,461.1 L244.8,459.8 L245.9,460.8 L247.0,459.3 L248.0,459.2 L249.1,459.5 L250.2,458.3 L251.3,459.9 L252.3,458.4 L253.4,459.6 L254.5,458.8 L255.5,458.2 L256.6,458.7 L257.7,459.4 L258.8,459.5 L259.8,459.7 L260.9,460.0 L262.0,459.9 L263.0,458.7 L264.1,458.3 L265.2,460.2 L266.2,459.4 L267.3,459.0 L268.4,459.1 L269.5,459.7 L270.5,458.1 L271.6,459.7 L272.7,458.6 L273.7,458.1 L274.8,460.6 L275.9,459.1 L277.0,459.2 L278.0,459.5 L279.1,460.0 L280.2,459.9 L281.2,460.9 L282.3,459.7 L283.4,460.0 L284.4,460.4 L285.5,460.1 L286.6,459.7 L287.7,459.1 L288.7,459.6 L289.8,459.9 L290.9,459.9 L291.9,460.9 L293.0,461.6 L294.1,459.2 L295.1,458.6 L296.2,460.6 L297.3,460.5 L298.4,460.0 L299.4,459.8 L300.5,459.7" fill="none" stroke="#f4a9a8" stroke-width="1.35" stroke-linejoin="round" opacity="1"/>
<path d="M177.4,429.1 L178.5,428.6 L179.5,429.9 L180.6,429.5 L181.7,429.2 L182.8,429.9 L183.8,430.2 L184.9,430.4 L186.0,429.8 L187.0,430.5 L188.1,429.3 L189.2,430.1 L190.2,428.9 L191.3,428.7 L192.4,430.8 L193.5,429.0 L194.5,430.2 L195.6,428.8 L196.7,429.3 L197.7,429.6 L198.8,428.8 L199.9,430.1 L200.9,429.2 L202.0,429.3 L203.1,429.8 L204.2,429.1 L205.2,430.0 L206.3,428.5 L207.4,429.4 L208.4,427.9 L209.5,428.2 L210.6,428.3 L211.7,429.4 L212.7,426.3 L213.8,428.7 L214.9,428.3 L215.9,429.0 L217.0,427.5 L218.1,428.9 L219.1,427.7 L220.2,429.7 L221.3,428.8 L222.4,429.0 L223.4,427.7 L224.5,428.5 L225.6,428.7 L226.6,428.2 L227.7,429.0 L228.8,428.3 L229.9,427.1 L230.9,428.5 L232.0,426.9 L233.1,427.6 L234.1,427.7 L235.2,427.7 L236.3,427.6 L236.5,429.0 L236.7,428.5 L237.0,427.6 L237.2,428.1 L237.3,428.8 L237.5,429.4 L237.7,429.4 L238.0,429.2 L238.2,427.7 L238.4,429.3 L238.5,430.1 L238.7,430.6 L238.9,433.8 L239.2,435.2 L239.4,436.7 L239.5,435.5 L239.7,439.4 L239.9,439.2 L240.2,440.9 L240.4,442.4 L240.6,442.1 L240.7,443.9 L240.9,445.5 L241.2,448.2 L241.4,448.6 L241.6,449.1 L241.7,448.6 L241.9,448.2 L242.2,447.8 L242.4,446.5 L242.7,445.3 L243.8,444.1 L244.8,443.6 L245.9,443.2 L247.0,439.3 L248.0,437.8 L249.1,437.0 L250.2,435.6 L251.3,433.4 L252.3,433.8 L253.4,432.1 L254.5,433.5 L255.5,432.6 L256.6,431.9 L257.7,433.6 L258.8,432.9 L259.8,432.9 L260.9,434.9 L262.0,434.0 L263.0,435.7 L264.1,435.9 L265.2,437.3 L266.2,438.7 L267.3,439.3 L268.4,440.9 L269.5,440.8 L270.5,441.1 L271.6,440.3 L272.7,441.6 L273.7,444.1 L274.8,443.4 L275.9,444.3 L277.0,445.2 L278.0,445.2 L279.1,445.2 L280.2,447.0 L281.2,447.5 L282.3,448.0 L283.4,449.8 L284.4,449.5 L285.5,450.1 L286.6,450.7 L287.7,451.3 L288.7,450.4 L289.8,450.4 L290.9,451.2 L291.9,452.8 L293.0,452.6 L294.1,453.8 L295.1,454.1 L296.2,454.0 L297.3,455.8 L298.4,455.9 L299.4,456.3 L300.5,457.1" fill="none" stroke="#7030a0" stroke-width="1.35" stroke-linejoin="round" opacity="1"/>
<path d="M177.4,414.6 L178.5,414.5 L179.5,415.4 L180.6,415.8 L181.7,415.5 L182.8,417.0 L183.8,414.7 L184.9,415.9 L186.0,416.6 L187.0,416.8 L188.1,415.5 L189.2,414.5 L190.2,416.9 L191.3,416.0 L192.4,417.4 L193.5,415.6 L194.5,415.7 L195.6,414.3 L196.7,416.4 L197.7,416.6 L198.8,416.9 L199.9,415.7 L200.9,417.7 L202.0,416.3 L203.1,417.0 L204.2,418.1 L205.2,417.7 L206.3,416.2 L207.4,415.4 L208.4,417.0 L209.5,416.9 L210.6,416.1 L211.7,418.4 L212.7,418.3 L213.8,418.6 L214.9,417.7 L215.9,417.5 L217.0,418.2 L218.1,419.5 L219.1,420.3 L220.2,420.3 L221.3,419.9 L222.4,418.4 L223.4,419.2 L224.5,419.3 L225.6,418.2 L226.6,418.4 L227.7,419.8 L228.8,419.9 L229.9,419.0 L230.9,419.1 L232.0,419.7 L233.1,419.2 L234.1,419.7 L235.2,418.9 L236.3,420.6 L236.5,419.4 L236.7,419.4 L237.0,420.9 L237.2,419.5 L237.3,419.9 L237.5,421.7 L237.7,416.4 L238.0,416.1 L238.2,413.4 L238.4,410.9 L238.5,409.5 L238.7,412.2 L238.9,414.8 L239.2,416.0 L239.4,419.1 L239.5,419.1 L239.7,419.2 L239.9,423.1 L240.2,427.1 L240.4,426.9 L240.6,428.4 L240.7,428.4 L240.9,430.0 L241.2,432.4 L241.4,434.0 L241.6,432.7 L241.7,432.6 L241.9,434.9 L242.2,432.0 L242.4,432.6 L242.7,432.4 L243.8,431.1 L244.8,431.8 L245.9,430.8 L247.0,429.2 L248.0,429.6 L249.1,432.3 L250.2,434.4 L251.3,437.0 L252.3,437.3 L253.4,439.5 L254.5,442.1 L255.5,445.3 L256.6,445.8 L257.7,448.0 L258.8,446.6 L259.8,448.7 L260.9,450.9 L262.0,451.1 L263.0,450.3 L264.1,452.2 L265.2,454.7 L266.2,454.9 L267.3,455.5 L268.4,456.3 L269.5,455.2 L270.5,453.9 L271.6,454.9 L272.7,456.4 L273.7,457.0 L274.8,456.5 L275.9,456.0 L277.0,458.1 L278.0,458.5 L279.1,455.3 L280.2,456.9 L281.2,455.8 L282.3,457.1 L283.4,456.4 L284.4,458.3 L285.5,457.6 L286.6,456.6 L287.7,457.3 L288.7,458.2 L289.8,457.0 L290.9,458.7 L291.9,459.1 L293.0,457.3 L294.1,456.7 L295.1,457.2 L296.2,458.8 L297.3,457.4 L298.4,457.0 L299.4,457.4 L300.5,459.0" fill="none" stroke="#e8383d" stroke-width="1.35" stroke-linejoin="round" opacity="1"/>
</g>
<rect x="46.70" y="386.20" width="123.10" height="82.90" fill="none" stroke="#000" stroke-width="1.2"/>
<rect x="177.40" y="386.20" width="123.10" height="82.90" fill="none" stroke="#000" stroke-width="1.2"/>
<line x1="43.50" y1="469.10" x2="46.70" y2="469.10" stroke="#000" stroke-width="1.1" />
<text transform="translate(41.7,472.6) scale(1,1.09)" font-size="10" text-anchor="end" fill="#1a1a1a" stroke="#1a1a1a" class="r" >0.1</text>
<line x1="43.50" y1="457.26" x2="46.70" y2="457.26" stroke="#000" stroke-width="1.1" />
<text transform="translate(41.7,460.8) scale(1,1.09)" font-size="10" text-anchor="end" fill="#1a1a1a" stroke="#1a1a1a" class="r" >0.2</text>
<line x1="43.50" y1="445.41" x2="46.70" y2="445.41" stroke="#000" stroke-width="1.1" />
<text transform="translate(41.7,448.9) scale(1,1.09)" font-size="10" text-anchor="end" fill="#1a1a1a" stroke="#1a1a1a" class="r" >0.3</text>
<line x1="43.50" y1="433.57" x2="46.70" y2="433.57" stroke="#000" stroke-width="1.1" />
<text transform="translate(41.7,437.1) scale(1,1.09)" font-size="10" text-anchor="end" fill="#1a1a1a" stroke="#1a1a1a" class="r" >0.4</text>
<line x1="43.50" y1="421.73" x2="46.70" y2="421.73" stroke="#000" stroke-width="1.1" />
<text transform="translate(41.7,425.2) scale(1,1.09)" font-size="10" text-anchor="end" fill="#1a1a1a" stroke="#1a1a1a" class="r" >0.5</text>
<line x1="43.50" y1="409.89" x2="46.70" y2="409.89" stroke="#000" stroke-width="1.1" />
<text transform="translate(41.7,413.4) scale(1,1.09)" font-size="10" text-anchor="end" fill="#1a1a1a" stroke="#1a1a1a" class="r" >0.6</text>
<line x1="43.50" y1="398.04" x2="46.70" y2="398.04" stroke="#000" stroke-width="1.1" />
<text transform="translate(41.7,401.5) scale(1,1.09)" font-size="10" text-anchor="end" fill="#1a1a1a" stroke="#1a1a1a" class="r" >0.7</text>
<line x1="43.50" y1="386.20" x2="46.70" y2="386.20" stroke="#000" stroke-width="1.1" />
<text transform="translate(41.7,389.7) scale(1,1.09)" font-size="10" text-anchor="end" fill="#1a1a1a" stroke="#1a1a1a" class="r" >0.8</text>
<line x1="46.70" y1="469.10" x2="46.70" y2="472.30" stroke="#000" stroke-width="1.1" />
<text transform="translate(45.4,485.7) scale(1,1.09)" font-size="10" text-anchor="middle" fill="#1a1a1a" stroke="#1a1a1a" class="r" >-10</text>
<line x1="71.32" y1="469.10" x2="71.32" y2="472.30" stroke="#000" stroke-width="1.1" />
<text transform="translate(71.3,485.7) scale(1,1.09)" font-size="10" text-anchor="middle" fill="#1a1a1a" stroke="#1a1a1a" class="r" >TSS</text>
<line x1="95.94" y1="469.10" x2="95.94" y2="472.30" stroke="#000" stroke-width="1.1" />
<text transform="translate(95.9,485.7) scale(1,1.09)" font-size="10" text-anchor="middle" fill="#1a1a1a" stroke="#1a1a1a" class="r" >10</text>
<line x1="120.56" y1="469.10" x2="120.56" y2="472.30" stroke="#000" stroke-width="1.1" />
<text transform="translate(120.6,485.7) scale(1,1.09)" font-size="10" text-anchor="middle" fill="#1a1a1a" stroke="#1a1a1a" class="r" >20</text>
<line x1="145.18" y1="469.10" x2="145.18" y2="472.30" stroke="#000" stroke-width="1.1" />
<text transform="translate(145.2,485.7) scale(1,1.09)" font-size="10" text-anchor="middle" fill="#1a1a1a" stroke="#1a1a1a" class="r" >30</text>
<line x1="169.80" y1="469.10" x2="169.80" y2="472.30" stroke="#000" stroke-width="1.1" />
<text transform="translate(169.8,485.7) scale(1,1.09)" font-size="10" text-anchor="middle" fill="#1a1a1a" stroke="#1a1a1a" class="r" >40</text>
<line x1="189.71" y1="469.10" x2="189.71" y2="472.30" stroke="#000" stroke-width="1.1" />
<text transform="translate(189.7,485.7) scale(1,1.09)" font-size="10" text-anchor="middle" fill="#1a1a1a" stroke="#1a1a1a" class="r" >-20</text>
<line x1="214.33" y1="469.10" x2="214.33" y2="472.30" stroke="#000" stroke-width="1.1" />
<text transform="translate(214.3,485.7) scale(1,1.09)" font-size="10" text-anchor="middle" fill="#1a1a1a" stroke="#1a1a1a" class="r" >-10</text>
<line x1="238.95" y1="469.10" x2="238.95" y2="472.30" stroke="#000" stroke-width="1.1" />
<text transform="translate(238.9,485.7) scale(1,1.09)" font-size="10" text-anchor="middle" fill="#1a1a1a" stroke="#1a1a1a" class="r" >TES</text>
<line x1="263.57" y1="469.10" x2="263.57" y2="472.30" stroke="#000" stroke-width="1.1" />
<text transform="translate(263.6,485.7) scale(1,1.09)" font-size="10" text-anchor="middle" fill="#1a1a1a" stroke="#1a1a1a" class="r" >10</text>
<line x1="288.19" y1="469.10" x2="288.19" y2="472.30" stroke="#000" stroke-width="1.1" />
<text transform="translate(288.2,485.7) scale(1,1.09)" font-size="10" text-anchor="middle" fill="#1a1a1a" stroke="#1a1a1a" class="r" >20</text>
<text transform="translate(173.6,500.5) scale(1,1.09)" font-size="10" text-anchor="middle" fill="#1a1a1a" stroke="#1a1a1a" class="r" >Distance from TSS / TES (kb)</text>
<text x="173.6" y="377.4" font-size="10" text-anchor="middle" font-weight="bold" fill="#000">RPB1-K1268R / <tspan font-style="italic">UVSSA</tspan>-KO</text>
<text transform="translate(20.0,426.6) rotate(-90)" font-size="10" text-anchor="middle" fill="#1a1a1a" stroke="#1a1a1a" class="r">RPKM</text>
<clipPath id="c385_386L"><rect x="385.6" y="386.4" width="123.1" height="83.2"/></clipPath>
<clipPath id="c385_386R"><rect x="517.6" y="386.4" width="123.1" height="83.2"/></clipPath>
<g clip-path="url(#c385_386L)">
<path d="M385.6,460.9 L386.7,460.7 L387.7,461.1 L388.8,459.8 L389.9,460.9 L391.0,460.3 L392.0,460.5 L393.1,460.9 L394.2,459.7 L395.2,461.2 L396.3,459.7 L397.4,460.9 L398.4,460.5 L399.5,459.6 L400.6,461.4 L401.7,461.2 L402.7,459.9 L403.8,460.3 L404.9,460.4 L405.3,460.1 L405.6,460.5 L405.9,460.3 L405.9,460.1 L406.2,460.7 L406.5,460.5 L406.8,459.9 L407.0,459.6 L407.1,460.6 L407.4,460.3 L407.7,460.5 L408.0,460.1 L408.1,459.7 L408.3,459.2 L408.5,458.0 L408.8,455.4 L409.1,449.8 L409.1,449.3 L409.4,441.1 L409.7,429.7 L410.0,414.8 L410.2,404.2 L410.3,399.0 L410.6,386.0 L410.9,378.0 L411.2,380.7 L411.3,384.6 L411.5,391.9 L411.8,401.0 L412.1,408.0 L412.4,414.4 L412.4,414.2 L412.7,421.2 L413.0,425.8 L413.3,430.5 L413.4,432.3 L413.6,434.9 L413.9,437.1 L414.2,440.3 L414.5,442.8 L414.5,443.3 L414.8,445.0 L415.0,446.7 L415.3,449.0 L415.6,449.0 L415.6,449.5 L415.9,451.3 L416.2,452.0 L416.5,452.1 L416.6,453.1 L416.8,454.1 L417.1,454.0 L417.4,455.5 L417.7,455.9 L418.8,457.3 L419.9,458.1 L420.9,458.3 L422.0,458.5 L423.1,459.0 L424.1,458.7 L425.2,458.8 L426.3,459.1 L427.3,459.1 L428.4,459.3 L429.5,459.4 L430.6,459.1 L431.6,459.8 L432.7,459.3 L433.8,459.3 L434.8,459.5 L435.9,459.1 L437.0,459.1 L438.1,459.1 L439.1,459.0 L440.2,459.1 L441.3,459.4 L442.3,458.5 L443.4,458.8 L444.5,459.1 L445.5,458.9 L446.6,459.2 L447.7,459.3 L448.8,459.4 L449.8,458.4 L450.9,458.8 L452.0,458.7 L453.0,459.0 L454.1,458.5 L455.2,458.1 L456.2,458.8 L457.3,458.5 L458.4,458.4 L459.5,458.7 L460.5,458.5 L461.6,459.1 L462.7,459.3 L463.7,459.6 L464.8,458.2 L465.9,459.2 L467.0,459.5 L468.0,458.9 L469.1,459.7 L470.2,459.3 L471.2,459.3 L472.3,459.0 L473.4,459.2 L474.4,459.0 L475.5,459.5 L476.6,459.7 L477.7,459.5 L478.7,459.3 L479.8,459.0 L480.9,458.5 L481.9,458.9 L483.0,459.0 L484.1,459.6 L485.2,459.1 L486.2,459.7 L487.3,459.3 L488.4,459.4 L489.4,459.6 L490.5,459.5 L491.6,459.6 L492.6,458.8 L493.7,459.6 L494.8,459.6 L495.9,459.1 L496.9,459.2 L498.0,459.1 L499.1,459.8 L500.1,459.8 L501.2,458.1 L502.3,459.2 L503.3,459.5 L504.4,459.4 L505.5,459.0 L506.6,459.7 L507.6,459.1 L508.7,459.2" fill="none" stroke="#c08bd6" stroke-width="1.35" stroke-linejoin="round" opacity="1"/>
<path d="M385.6,458.4 L386.7,457.8 L387.7,458.2 L388.8,458.0 L389.9,457.9 L391.0,458.1 L392.0,457.9 L393.1,457.9 L394.2,458.1 L395.2,458.0 L396.3,458.4 L397.4,457.8 L398.4,458.0 L399.5,457.8 L400.6,457.6 L401.7,457.9 L402.7,457.8 L403.8,457.7 L404.9,459.1 L405.3,458.3 L405.6,458.4 L405.9,458.2 L405.9,458.6 L406.2,457.7 L406.5,457.5 L406.8,457.6 L407.0,458.0 L407.1,457.8 L407.4,457.6 L407.7,457.4 L408.0,457.2 L408.1,457.4 L408.3,457.2 L408.5,455.4 L408.8,452.5 L409.1,447.5 L409.1,446.4 L409.4,439.1 L409.7,427.4 L410.0,412.5 L410.2,402.6 L410.3,397.1 L410.6,384.2 L410.9,375.1 L411.2,381.2 L411.3,386.1 L411.5,396.2 L411.8,408.3 L412.1,418.3 L412.4,424.2 L412.4,425.7 L412.7,431.4 L413.0,436.2 L413.3,441.4 L413.4,443.0 L413.6,444.5 L413.9,446.2 L414.2,448.9 L414.5,450.8 L414.5,450.2 L414.8,451.4 L415.0,453.0 L415.3,453.0 L415.6,454.0 L415.6,453.4 L415.9,454.2 L416.2,455.7 L416.5,455.9 L416.6,456.1 L416.8,456.0 L417.1,456.1 L417.4,456.0 L417.7,456.7 L418.8,457.5 L419.9,457.2 L420.9,456.8 L422.0,456.7 L423.1,457.3 L424.1,457.5 L425.2,457.6 L426.3,457.7 L427.3,458.2 L428.4,457.3 L429.5,457.5 L430.6,457.0 L431.6,457.8 L432.7,456.8 L433.8,456.3 L434.8,457.8 L435.9,456.5 L437.0,456.7 L438.1,457.0 L439.1,457.1 L440.2,456.0 L441.3,456.5 L442.3,456.7 L443.4,456.9 L444.5,457.2 L445.5,456.7 L446.6,457.1 L447.7,456.8 L448.8,457.7 L449.8,457.6 L450.9,458.1 L452.0,456.9 L453.0,458.1 L454.1,457.6 L455.2,457.0 L456.2,457.2 L457.3,456.5 L458.4,456.7 L459.5,457.2 L460.5,457.1 L461.6,458.1 L462.7,457.6 L463.7,457.3 L464.8,457.3 L465.9,457.5 L467.0,457.4 L468.0,457.5 L469.1,456.8 L470.2,457.4 L471.2,457.7 L472.3,457.5 L473.4,457.5 L474.4,457.5 L475.5,457.4 L476.6,457.7 L477.7,456.7 L478.7,456.4 L479.8,456.5 L480.9,456.7 L481.9,456.8 L483.0,456.3 L484.1,457.1 L485.2,457.6 L486.2,457.4 L487.3,457.0 L488.4,456.9 L489.4,457.1 L490.5,457.2 L491.6,457.4 L492.6,457.8 L493.7,457.2 L494.8,457.5 L495.9,456.9 L496.9,457.4 L498.0,456.9 L499.1,457.0 L500.1,457.7 L501.2,456.8 L502.3,456.8 L503.3,457.3 L504.4,456.8 L505.5,456.8 L506.6,457.2 L507.6,457.0 L508.7,457.2" fill="none" stroke="#f4a9a8" stroke-width="1.35" stroke-linejoin="round" opacity="1"/>
<path d="M385.6,460.4 L386.7,458.9 L387.7,459.8 L388.8,458.7 L389.9,459.9 L391.0,458.9 L392.0,459.7 L393.1,458.7 L394.2,458.4 L395.2,457.8 L396.3,457.6 L397.4,459.2 L398.4,460.2 L399.5,458.1 L400.6,459.0 L401.7,458.2 L402.7,458.2 L403.8,457.7 L404.9,458.0 L405.3,458.2 L405.6,458.1 L405.9,459.1 L405.9,458.8 L406.2,458.6 L406.5,458.3 L406.8,458.6 L407.0,458.1 L407.1,458.1 L407.4,458.0 L407.7,458.1 L408.0,456.1 L408.1,456.0 L408.3,456.4 L408.5,452.9 L408.8,449.1 L409.1,442.5 L409.1,443.5 L409.4,433.1 L409.7,418.1 L410.0,398.8 L410.2,387.7 L410.3,381.4 L410.6,365.7 L410.9,355.4 L411.2,357.6 L411.3,362.7 L411.5,370.2 L411.8,376.2 L412.1,384.8 L412.4,391.2 L412.4,390.5 L412.7,397.1 L413.0,404.8 L413.3,407.9 L413.4,409.2 L413.6,412.1 L413.9,415.4 L414.2,418.2 L414.5,421.6 L414.5,422.7 L414.8,424.4 L415.0,427.3 L415.3,428.4 L415.6,432.1 L415.6,430.5 L415.9,433.7 L416.2,433.1 L416.5,434.5 L416.6,434.0 L416.8,433.5 L417.1,434.3 L417.4,434.8 L417.7,436.5 L418.8,437.4 L419.9,437.8 L420.9,437.7 L422.0,438.0 L423.1,437.0 L424.1,437.5 L425.2,436.3 L426.3,436.6 L427.3,435.8 L428.4,436.1 L429.5,435.4 L430.6,435.6 L431.6,434.0 L432.7,433.2 L433.8,431.7 L434.8,432.3 L435.9,428.2 L437.0,430.1 L438.1,428.6 L439.1,428.5 L440.2,430.1 L441.3,427.6 L442.3,425.5 L443.4,427.3 L444.5,425.0 L445.5,425.7 L446.6,424.9 L447.7,424.3 L448.8,425.4 L449.8,423.3 L450.9,423.2 L452.0,422.5 L453.0,420.6 L454.1,417.9 L455.2,420.6 L456.2,420.0 L457.3,419.9 L458.4,420.2 L459.5,418.6 L460.5,417.7 L461.6,418.7 L462.7,417.9 L463.7,418.7 L464.8,416.6 L465.9,419.4 L467.0,417.2 L468.0,416.8 L469.1,416.6 L470.2,417.7 L471.2,417.1 L472.3,416.7 L473.4,415.9 L474.4,416.6 L475.5,416.7 L476.6,414.9 L477.7,414.8 L478.7,416.2 L479.8,416.5 L480.9,416.4 L481.9,414.1 L483.0,415.2 L484.1,415.0 L485.2,414.7 L486.2,413.6 L487.3,414.5 L488.4,416.6 L489.4,414.8 L490.5,414.5 L491.6,414.3 L492.6,414.7 L493.7,413.6 L494.8,414.2 L495.9,412.9 L496.9,413.6 L498.0,415.1 L499.1,415.5 L500.1,414.4 L501.2,412.6 L502.3,412.5 L503.3,412.9 L504.4,415.6 L505.5,413.8 L506.6,414.0 L507.6,413.2 L508.7,413.5" fill="none" stroke="#7030a0" stroke-width="1.35" stroke-linejoin="round" opacity="1"/>
<path d="M385.6,455.9 L386.7,454.6 L387.7,456.0 L388.8,456.6 L389.9,456.7 L391.0,455.5 L392.0,455.1 L393.1,454.8 L394.2,455.8 L395.2,455.6 L396.3,453.6 L397.4,455.2 L398.4,453.5 L399.5,455.2 L400.6,455.2 L401.7,455.8 L402.7,455.8 L403.8,456.0 L404.9,456.4 L405.3,455.6 L405.6,456.1 L405.9,455.6 L405.9,455.9 L406.2,456.5 L406.5,456.6 L406.8,455.8 L407.0,453.5 L407.1,454.8 L407.4,454.3 L407.7,453.6 L408.0,451.5 L408.1,451.4 L408.3,450.2 L408.5,447.4 L408.8,443.1 L409.1,435.9 L409.1,435.2 L409.4,426.5 L409.7,411.0 L410.0,394.3 L410.2,378.9 L410.3,372.4 L410.6,355.7 L410.9,345.9 L411.2,352.4 L411.3,359.2 L411.5,371.7 L411.8,387.3 L412.1,398.0 L412.4,405.6 L412.4,405.1 L412.7,411.0 L413.0,417.4 L413.3,420.8 L413.4,422.8 L413.6,424.5 L413.9,427.1 L414.2,427.6 L414.5,429.1 L414.5,428.9 L414.8,429.3 L415.0,429.6 L415.3,429.4 L415.6,428.1 L415.6,429.1 L415.9,427.3 L416.2,429.4 L416.5,427.9 L416.6,427.5 L416.8,428.1 L417.1,428.1 L417.4,426.2 L417.7,426.7 L418.8,424.5 L419.9,422.9 L420.9,421.6 L422.0,420.3 L423.1,417.9 L424.1,416.6 L425.2,416.0 L426.3,413.1 L427.3,410.7 L428.4,409.4 L429.5,407.6 L430.6,407.3 L431.6,407.8 L432.7,408.7 L433.8,409.7 L434.8,408.2 L435.9,409.4 L437.0,409.4 L438.1,410.7 L439.1,409.7 L440.2,411.4 L441.3,408.6 L442.3,412.4 L443.4,413.0 L444.5,411.6 L445.5,411.5 L446.6,414.0 L447.7,412.1 L448.8,411.9 L449.8,414.1 L450.9,412.7 L452.0,413.8 L453.0,414.6 L454.1,413.7 L455.2,414.3 L456.2,415.5 L457.3,412.4 L458.4,415.6 L459.5,416.5 L460.5,415.3 L461.6,416.5 L462.7,415.2 L463.7,415.8 L464.8,415.5 L465.9,415.9 L467.0,415.9 L468.0,416.4 L469.1,416.1 L470.2,415.0 L471.2,416.7 L472.3,416.9 L473.4,417.5 L474.4,416.5 L475.5,417.1 L476.6,416.8 L477.7,417.9 L478.7,416.6 L479.8,416.5 L480.9,416.5 L481.9,416.5 L483.0,418.0 L484.1,416.8 L485.2,417.1 L486.2,418.2 L487.3,417.5 L488.4,416.1 L489.4,417.3 L490.5,416.4 L491.6,417.0 L492.6,417.5 L493.7,417.7 L494.8,417.6 L495.9,416.3 L496.9,416.4 L498.0,417.6 L499.1,416.3 L500.1,416.4 L501.2,416.7 L502.3,415.8 L503.3,416.6 L504.4,417.1 L505.5,415.0 L506.6,417.7 L507.6,416.0 L508.7,418.2" fill="none" stroke="#e8383d" stroke-width="1.35" stroke-linejoin="round" opacity="1"/>
</g>
<g clip-path="url(#c385_386R)">
<path d="M517.6,459.0 L518.7,459.4 L519.7,458.6 L520.8,459.6 L521.9,458.3 L523.0,458.6 L524.0,458.6 L525.1,460.1 L526.2,458.1 L527.2,459.6 L528.3,459.0 L529.4,458.2 L530.4,458.7 L531.5,458.6 L532.6,459.5 L533.7,458.7 L534.7,458.4 L535.8,458.1 L536.9,458.8 L537.9,458.4 L539.0,458.4 L540.1,458.8 L541.1,458.5 L542.2,457.1 L543.3,458.8 L544.4,457.9 L545.4,458.8 L546.5,458.3 L547.6,458.9 L548.6,458.5 L549.7,458.4 L550.8,458.6 L551.9,458.5 L552.9,458.6 L554.0,458.1 L555.1,458.1 L556.1,457.3 L557.2,458.0 L558.3,458.6 L559.3,458.3 L560.4,458.4 L561.5,458.5 L562.6,457.3 L563.6,457.6 L564.7,457.5 L565.8,458.5 L566.8,458.6 L567.9,457.9 L569.0,458.8 L570.1,458.1 L571.1,458.3 L572.2,458.5 L573.3,458.5 L574.3,458.7 L575.4,458.0 L576.5,458.7 L576.7,458.5 L576.9,457.2 L577.2,457.9 L577.4,458.7 L577.5,457.3 L577.7,457.9 L577.9,459.1 L578.2,457.6 L578.4,457.3 L578.6,457.8 L578.7,457.3 L578.9,458.1 L579.1,457.7 L579.4,458.4 L579.6,457.7 L579.7,457.1 L579.9,457.4 L580.1,457.6 L580.4,458.7 L580.6,457.8 L580.8,458.2 L580.9,457.2 L581.1,457.6 L581.4,457.2 L581.6,457.7 L581.8,456.4 L581.9,457.9 L582.1,457.6 L582.4,456.5 L582.6,457.6 L582.9,458.1 L584.0,456.8 L585.0,456.8 L586.1,456.7 L587.2,457.4 L588.2,455.9 L589.3,456.1 L590.4,453.7 L591.5,454.3 L592.5,453.9 L593.6,453.0 L594.7,452.5 L595.7,453.2 L596.8,451.9 L597.9,452.7 L599.0,453.7 L600.0,452.2 L601.1,452.2 L602.2,452.4 L603.2,452.8 L604.3,453.4 L605.4,452.7 L606.4,452.4 L607.5,452.8 L608.6,452.4 L609.7,453.5 L610.7,452.5 L611.8,452.7 L612.9,453.6 L613.9,453.8 L615.0,453.1 L616.1,452.7 L617.2,452.7 L618.2,452.9 L619.3,453.1 L620.4,452.9 L621.4,452.7 L622.5,452.5 L623.6,452.6 L624.6,452.7 L625.7,452.5 L626.8,452.8 L627.9,452.1 L628.9,452.9 L630.0,452.1 L631.1,452.7 L632.1,452.7 L633.2,453.2 L634.3,453.1 L635.3,452.9 L636.4,452.6 L637.5,452.9 L638.6,453.0 L639.6,452.4 L640.7,452.6" fill="none" stroke="#c08bd6" stroke-width="1.35" stroke-linejoin="round" opacity="1"/>
<path d="M517.6,458.8 L518.7,458.0 L519.7,458.3 L520.8,459.6 L521.9,458.5 L523.0,458.6 L524.0,458.0 L525.1,458.7 L526.2,458.8 L527.2,458.5 L528.3,458.5 L529.4,459.1 L530.4,458.0 L531.5,458.2 L532.6,457.3 L533.7,456.9 L534.7,458.7 L535.8,458.7 L536.9,458.4 L537.9,458.3 L539.0,458.2 L540.1,457.8 L541.1,457.3 L542.2,458.2 L543.3,458.3 L544.4,458.4 L545.4,457.1 L546.5,457.2 L547.6,458.6 L548.6,458.4 L549.7,457.5 L550.8,457.0 L551.9,457.0 L552.9,457.5 L554.0,457.2 L555.1,457.2 L556.1,457.7 L557.2,456.3 L558.3,457.3 L559.3,458.0 L560.4,457.6 L561.5,458.0 L562.6,457.2 L563.6,456.4 L564.7,457.7 L565.8,456.7 L566.8,456.0 L567.9,456.6 L569.0,457.1 L570.1,456.9 L571.1,456.4 L572.2,456.9 L573.3,456.5 L574.3,455.8 L575.4,455.6 L576.5,454.6 L576.7,455.3 L576.9,453.6 L577.2,454.1 L577.4,454.4 L577.5,455.3 L577.7,454.2 L577.9,454.9 L578.2,454.0 L578.4,454.3 L578.6,455.2 L578.7,455.2 L578.9,453.6 L579.1,454.2 L579.4,454.7 L579.6,454.4 L579.7,454.9 L579.9,455.3 L580.1,455.1 L580.4,455.2 L580.6,454.7 L580.8,454.0 L580.9,454.5 L581.1,454.0 L581.4,454.3 L581.6,454.1 L581.8,453.9 L581.9,453.3 L582.1,453.2 L582.4,453.0 L582.6,453.4 L582.9,453.3 L584.0,454.1 L585.0,453.8 L586.1,453.1 L587.2,453.2 L588.2,452.8 L589.3,453.2 L590.4,452.0 L591.5,452.5 L592.5,452.0 L593.6,452.1 L594.7,451.8 L595.7,452.3 L596.8,452.6 L597.9,453.0 L599.0,451.8 L600.0,452.8 L601.1,452.0 L602.2,451.7 L603.2,453.6 L604.3,452.9 L605.4,452.0 L606.4,451.7 L607.5,452.2 L608.6,452.3 L609.7,452.2 L610.7,452.5 L611.8,452.3 L612.9,452.4 L613.9,453.4 L615.0,452.8 L616.1,451.9 L617.2,452.5 L618.2,452.2 L619.3,452.3 L620.4,452.6 L621.4,452.0 L622.5,452.9 L623.6,453.1 L624.6,453.0 L625.7,452.6 L626.8,451.2 L627.9,452.3 L628.9,451.8 L630.0,452.4 L631.1,453.8 L632.1,452.6 L633.2,453.1 L634.3,453.3 L635.3,453.2 L636.4,451.7 L637.5,453.3 L638.6,453.0 L639.6,452.5 L640.7,452.8" fill="none" stroke="#f4a9a8" stroke-width="1.35" stroke-linejoin="round" opacity="1"/>
<path d="M517.6,413.8 L518.7,413.0 L519.7,414.6 L520.8,412.9 L521.9,413.2 L523.0,410.9 L524.0,412.1 L525.1,412.7 L526.2,412.2 L527.2,411.7 L528.3,412.9 L529.4,412.4 L530.4,413.1 L531.5,410.8 L532.6,412.6 L533.7,414.0 L534.7,411.5 L535.8,409.9 L536.9,412.1 L537.9,408.9 L539.0,411.8 L540.1,411.1 L541.1,412.7 L542.2,412.4 L543.3,413.2 L544.4,413.2 L545.4,414.1 L546.5,412.1 L547.6,413.9 L548.6,412.9 L549.7,412.8 L550.8,413.4 L551.9,413.0 L552.9,413.1 L554.0,413.9 L555.1,413.4 L556.1,413.3 L557.2,414.3 L558.3,414.5 L559.3,414.5 L560.4,413.7 L561.5,413.1 L562.6,413.2 L563.6,413.6 L564.7,413.3 L565.8,414.1 L566.8,413.5 L567.9,415.0 L569.0,415.5 L570.1,416.5 L571.1,416.4 L572.2,415.0 L573.3,417.6 L574.3,416.6 L575.4,417.6 L576.5,416.7 L576.7,416.3 L576.9,418.1 L577.2,420.3 L577.4,417.6 L577.5,417.4 L577.7,419.5 L577.9,420.0 L578.2,421.3 L578.4,425.0 L578.6,423.7 L578.7,424.2 L578.9,426.1 L579.1,428.6 L579.4,430.1 L579.6,431.9 L579.7,431.6 L579.9,433.9 L580.1,433.4 L580.4,436.0 L580.6,439.3 L580.8,437.3 L580.9,439.7 L581.1,441.6 L581.4,443.2 L581.6,446.5 L581.8,444.4 L581.9,446.5 L582.1,445.0 L582.4,442.9 L582.6,442.4 L582.9,443.2 L584.0,441.6 L585.0,437.9 L586.1,437.0 L587.2,434.9 L588.2,433.0 L589.3,433.4 L590.4,431.0 L591.5,432.1 L592.5,428.8 L593.6,430.1 L594.7,427.9 L595.7,427.9 L596.8,426.7 L597.9,427.2 L599.0,428.2 L600.0,428.8 L601.1,429.6 L602.2,431.1 L603.2,433.4 L604.3,434.3 L605.4,435.3 L606.4,433.8 L607.5,434.8 L608.6,436.2 L609.7,436.8 L610.7,438.2 L611.8,439.7 L612.9,440.3 L613.9,441.2 L615.0,439.7 L616.1,440.6 L617.2,443.6 L618.2,443.5 L619.3,443.3 L620.4,442.7 L621.4,445.0 L622.5,445.2 L623.6,445.5 L624.6,448.8 L625.7,448.6 L626.8,448.5 L627.9,448.9 L628.9,446.3 L630.0,447.0 L631.1,447.4 L632.1,448.5 L633.2,447.3 L634.3,447.6 L635.3,448.7 L636.4,448.6 L637.5,449.6 L638.6,448.8 L639.6,448.1 L640.7,448.4" fill="none" stroke="#7030a0" stroke-width="1.35" stroke-linejoin="round" opacity="1"/>
<path d="M517.6,421.1 L518.7,419.0 L519.7,419.3 L520.8,420.7 L521.9,420.3 L523.0,420.9 L524.0,420.2 L525.1,419.3 L526.2,417.8 L527.2,420.7 L528.3,418.8 L529.4,420.8 L530.4,419.9 L531.5,419.8 L532.6,420.0 L533.7,420.0 L534.7,420.9 L535.8,420.2 L536.9,420.1 L537.9,419.1 L539.0,421.4 L540.1,421.0 L541.1,421.9 L542.2,421.9 L543.3,421.2 L544.4,420.1 L545.4,419.2 L546.5,420.0 L547.6,422.2 L548.6,420.8 L549.7,422.1 L550.8,420.9 L551.9,420.7 L552.9,421.5 L554.0,421.0 L555.1,421.9 L556.1,423.1 L557.2,423.3 L558.3,421.4 L559.3,420.6 L560.4,420.0 L561.5,421.3 L562.6,421.9 L563.6,422.2 L564.7,421.8 L565.8,422.0 L566.8,422.1 L567.9,420.4 L569.0,420.7 L570.1,420.9 L571.1,422.5 L572.2,421.2 L573.3,422.8 L574.3,423.4 L575.4,422.3 L576.5,422.8 L576.7,421.9 L576.9,421.4 L577.2,422.6 L577.4,421.1 L577.5,423.7 L577.7,422.0 L577.9,420.6 L578.2,416.8 L578.4,413.5 L578.6,411.9 L578.7,410.9 L578.9,414.6 L579.1,415.5 L579.4,418.1 L579.6,419.2 L579.7,419.4 L579.9,420.8 L580.1,422.1 L580.4,424.2 L580.6,424.4 L580.8,426.3 L580.9,425.8 L581.1,428.6 L581.4,427.3 L581.6,430.8 L581.8,429.2 L581.9,430.1 L582.1,429.4 L582.4,429.7 L582.6,429.3 L582.9,430.3 L584.0,429.4 L585.0,429.7 L586.1,429.4 L587.2,429.4 L588.2,432.6 L589.3,432.2 L590.4,434.1 L591.5,436.5 L592.5,436.1 L593.6,438.3 L594.7,438.2 L595.7,439.8 L596.8,440.3 L597.9,440.8 L599.0,443.5 L600.0,443.5 L601.1,446.0 L602.2,444.7 L603.2,444.8 L604.3,446.1 L605.4,447.7 L606.4,446.7 L607.5,446.8 L608.6,447.5 L609.7,448.3 L610.7,449.9 L611.8,449.5 L612.9,449.5 L613.9,447.6 L615.0,449.3 L616.1,449.6 L617.2,449.4 L618.2,450.2 L619.3,449.8 L620.4,449.6 L621.4,449.9 L622.5,449.9 L623.6,449.1 L624.6,449.8 L625.7,451.5 L626.8,451.0 L627.9,449.6 L628.9,450.7 L630.0,449.8 L631.1,450.1 L632.1,450.0 L633.2,450.8 L634.3,451.1 L635.3,451.4 L636.4,450.4 L637.5,451.4 L638.6,449.4 L639.6,450.9 L640.7,450.9" fill="none" stroke="#e8383d" stroke-width="1.35" stroke-linejoin="round" opacity="1"/>
</g>
<rect x="385.60" y="386.40" width="123.10" height="83.20" fill="none" stroke="#000" stroke-width="1.2"/>
<rect x="517.60" y="386.40" width="123.10" height="83.20" fill="none" stroke="#000" stroke-width="1.2"/>
<line x1="382.40" y1="469.60" x2="385.60" y2="469.60" stroke="#000" stroke-width="1.1" />
<text transform="translate(380.6,473.1) scale(1,1.09)" font-size="10" text-anchor="end" fill="#1a1a1a" stroke="#1a1a1a" class="r" >0.0</text>
<line x1="382.40" y1="452.96" x2="385.60" y2="452.96" stroke="#000" stroke-width="1.1" />
<text transform="translate(380.6,456.5) scale(1,1.09)" font-size="10" text-anchor="end" fill="#1a1a1a" stroke="#1a1a1a" class="r" >0.2</text>
<line x1="382.40" y1="436.32" x2="385.60" y2="436.32" stroke="#000" stroke-width="1.1" />
<text transform="translate(380.6,439.8) scale(1,1.09)" font-size="10" text-anchor="end" fill="#1a1a1a" stroke="#1a1a1a" class="r" >0.4</text>
<line x1="382.40" y1="419.68" x2="385.60" y2="419.68" stroke="#000" stroke-width="1.1" />
<text transform="translate(380.6,423.2) scale(1,1.09)" font-size="10" text-anchor="end" fill="#1a1a1a" stroke="#1a1a1a" class="r" >0.6</text>
<line x1="382.40" y1="403.04" x2="385.60" y2="403.04" stroke="#000" stroke-width="1.1" />
<text transform="translate(380.6,406.5) scale(1,1.09)" font-size="10" text-anchor="end" fill="#1a1a1a" stroke="#1a1a1a" class="r" >0.8</text>
<line x1="382.40" y1="386.40" x2="385.60" y2="386.40" stroke="#000" stroke-width="1.1" />
<text transform="translate(380.6,389.9) scale(1,1.09)" font-size="10" text-anchor="end" fill="#1a1a1a" stroke="#1a1a1a" class="r" >1.0</text>
<line x1="385.60" y1="469.60" x2="385.60" y2="472.80" stroke="#000" stroke-width="1.1" />
<text transform="translate(384.3,486.2) scale(1,1.09)" font-size="10" text-anchor="middle" fill="#1a1a1a" stroke="#1a1a1a" class="r" >-10</text>
<line x1="410.22" y1="469.60" x2="410.22" y2="472.80" stroke="#000" stroke-width="1.1" />
<text transform="translate(410.2,486.2) scale(1,1.09)" font-size="10" text-anchor="middle" fill="#1a1a1a" stroke="#1a1a1a" class="r" >TSS</text>
<line x1="434.84" y1="469.60" x2="434.84" y2="472.80" stroke="#000" stroke-width="1.1" />
<text transform="translate(434.8,486.2) scale(1,1.09)" font-size="10" text-anchor="middle" fill="#1a1a1a" stroke="#1a1a1a" class="r" >10</text>
<line x1="459.46" y1="469.60" x2="459.46" y2="472.80" stroke="#000" stroke-width="1.1" />
<text transform="translate(459.5,486.2) scale(1,1.09)" font-size="10" text-anchor="middle" fill="#1a1a1a" stroke="#1a1a1a" class="r" >20</text>
<line x1="484.08" y1="469.60" x2="484.08" y2="472.80" stroke="#000" stroke-width="1.1" />
<text transform="translate(484.1,486.2) scale(1,1.09)" font-size="10" text-anchor="middle" fill="#1a1a1a" stroke="#1a1a1a" class="r" >30</text>
<line x1="508.70" y1="469.60" x2="508.70" y2="472.80" stroke="#000" stroke-width="1.1" />
<text transform="translate(508.7,486.2) scale(1,1.09)" font-size="10" text-anchor="middle" fill="#1a1a1a" stroke="#1a1a1a" class="r" >40</text>
<line x1="529.91" y1="469.60" x2="529.91" y2="472.80" stroke="#000" stroke-width="1.1" />
<text transform="translate(529.9,486.2) scale(1,1.09)" font-size="10" text-anchor="middle" fill="#1a1a1a" stroke="#1a1a1a" class="r" >-20</text>
<line x1="554.53" y1="469.60" x2="554.53" y2="472.80" stroke="#000" stroke-width="1.1" />
<text transform="translate(554.5,486.2) scale(1,1.09)" font-size="10" text-anchor="middle" fill="#1a1a1a" stroke="#1a1a1a" class="r" >-10</text>
<line x1="579.15" y1="469.60" x2="579.15" y2="472.80" stroke="#000" stroke-width="1.1" />
<text transform="translate(579.1,486.2) scale(1,1.09)" font-size="10" text-anchor="middle" fill="#1a1a1a" stroke="#1a1a1a" class="r" >TES</text>
<line x1="603.77" y1="469.60" x2="603.77" y2="472.80" stroke="#000" stroke-width="1.1" />
<text transform="translate(603.8,486.2) scale(1,1.09)" font-size="10" text-anchor="middle" fill="#1a1a1a" stroke="#1a1a1a" class="r" >10</text>
<line x1="628.39" y1="469.60" x2="628.39" y2="472.80" stroke="#000" stroke-width="1.1" />
<text transform="translate(628.4,486.2) scale(1,1.09)" font-size="10" text-anchor="middle" fill="#1a1a1a" stroke="#1a1a1a" class="r" >20</text>
<text transform="translate(513.1,501.0) scale(1,1.09)" font-size="10" text-anchor="middle" fill="#1a1a1a" stroke="#1a1a1a" class="r" >Distance from TSS / TES (kb)</text>
<text x="513.1" y="377.6" font-size="10" text-anchor="middle" font-weight="bold" fill="#000">RPB1-K1268R / <tspan font-style="italic">UVSSA</tspan>-KO +p97i</text>
<text transform="translate(358.9,427.0) rotate(-90)" font-size="10" text-anchor="middle" fill="#1a1a1a" stroke="#1a1a1a" class="r">RPKM</text>
<line x1="190.50" y1="515.00" x2="201.50" y2="515.00" stroke="#e8383d" stroke-width="2.4" />
<text transform="translate(205.2,518.6) scale(1,1.09)" font-size="9.6" text-anchor="start" fill="#1a1a1a" stroke="#1a1a1a" class="r" >0.5 h TS</text>
<line x1="256.00" y1="515.00" x2="266.80" y2="515.00" stroke="#f4a9a8" stroke-width="2.4" />
<text transform="translate(270.4,518.6) scale(1,1.09)" font-size="9.6" text-anchor="start" fill="#1a1a1a" stroke="#1a1a1a" class="r" >0.5 h NTS</text>
<line x1="338.20" y1="515.00" x2="349.80" y2="515.00" stroke="#7030a0" stroke-width="2.4" />
<text transform="translate(353.0,518.6) scale(1,1.09)" font-size="9.6" text-anchor="start" fill="#1a1a1a" stroke="#1a1a1a" class="r" >2.0 h TS</text>
<line x1="403.40" y1="515.00" x2="414.60" y2="515.00" stroke="#c08bd6" stroke-width="2.4" />
<text transform="translate(418.2,518.6) scale(1,1.09)" font-size="9.6" text-anchor="start" fill="#1a1a1a" stroke="#1a1a1a" class="r" >2.0 h NTS</text>
<path d="M57.82,634.90 L57.87,635.69 L57.93,636.48 L58.00,637.27 L58.07,638.06 L58.13,638.85 L58.20,639.64 L58.27,640.44 L58.34,641.23 L58.44,642.02 L58.57,642.81 L58.75,643.60 L58.92,644.39 L59.09,645.18 L59.26,645.97 L59.43,646.76 L59.62,647.55 L59.84,648.34 L60.11,649.13 L60.39,649.92 L60.68,650.72 L60.96,651.51 L61.24,652.30 L61.48,653.09 L61.68,653.88 L61.83,654.67 L61.99,655.46 L62.15,656.25 L62.31,657.04 L62.47,657.83 L62.60,658.62 L62.68,659.41 L62.72,660.20 L62.73,660.99 L62.74,661.79 L62.75,662.58 L62.76,663.37 L62.77,664.16 L62.78,664.95 L62.78,665.74 L62.74,666.53 L62.68,667.32 L62.61,668.11 L62.54,668.90 L62.47,669.69 L62.40,670.48 L62.33,671.27 L62.25,672.07 L62.18,672.86 L62.11,673.65 L62.04,674.44 L61.97,675.23 L61.89,676.02 L61.81,676.81 L61.71,677.60 L61.62,678.39 L61.53,679.18 L61.44,679.97 L61.34,680.76 L61.25,681.55 L61.16,682.35 L61.07,683.14 L60.98,683.93 L60.88,684.72 L60.79,685.51 L60.70,686.30 L60.61,687.09 L60.52,687.88 L60.43,688.67 L60.35,689.46 L60.27,690.25 L60.20,691.04 L60.12,691.83 L60.04,692.63 L59.96,693.42 L59.88,694.21 L59.80,695.00 L59.72,695.79 L59.64,696.58 L59.56,697.37 L59.48,698.16 L59.40,698.95 L59.33,699.74 L59.27,700.53 L59.21,701.32 L59.16,702.11 L59.11,702.91 L59.05,703.70 L59.00,704.49 L58.95,705.28 L58.90,706.07 L58.84,706.86 L58.79,707.65 L58.74,708.44 L58.68,709.23 L58.63,710.02 L58.58,710.81 L58.53,711.60 L58.48,712.39 L58.44,713.18 L58.40,713.98 L58.36,714.77 L58.32,715.56 L58.28,716.35 L58.24,717.14 L58.20,717.93 L58.16,718.72 L58.13,719.51 L58.09,720.30 L58.06,721.09 L58.04,721.88 L58.01,722.67 L57.98,723.46 L57.96,724.26 L57.93,725.05 L57.91,725.84 L57.88,726.63 L57.85,727.42 L57.83,728.21 L57.81,729.00 L57.19,729.00 L57.17,728.21 L57.15,727.42 L57.12,726.63 L57.09,725.84 L57.07,725.05 L57.04,724.26 L57.02,723.46 L56.99,722.67 L56.96,721.88 L56.94,721.09 L56.91,720.30 L56.87,719.51 L56.84,718.72 L56.80,717.93 L56.76,717.14 L56.72,716.35 L56.68,715.56 L56.64,714.77 L56.60,713.98 L56.56,713.18 L56.52,712.39 L56.47,711.60 L56.42,710.81 L56.37,710.02 L56.32,709.23 L56.26,708.44 L56.21,707.65 L56.16,706.86 L56.10,706.07 L56.05,705.28 L56.00,704.49 L55.95,703.70 L55.89,702.91 L55.84,702.11 L55.79,701.32 L55.73,700.53 L55.67,699.74 L55.60,698.95 L55.52,698.16 L55.44,697.37 L55.36,696.58 L55.28,695.79 L55.20,695.00 L55.12,694.21 L55.04,693.42 L54.96,692.63 L54.88,691.83 L54.80,691.04 L54.73,690.25 L54.65,689.46 L54.57,688.67 L54.48,687.88 L54.39,687.09 L54.30,686.30 L54.21,685.51 L54.12,684.72 L54.02,683.93 L53.93,683.14 L53.84,682.35 L53.75,681.55 L53.66,680.76 L53.56,679.97 L53.47,679.18 L53.38,678.39 L53.29,677.60 L53.19,676.81 L53.11,676.02 L53.03,675.23 L52.96,674.44 L52.89,673.65 L52.82,672.86 L52.75,672.07 L52.67,671.27 L52.60,670.48 L52.53,669.69 L52.46,668.90 L52.39,668.11 L52.32,667.32 L52.26,666.53 L52.22,665.74 L52.22,664.95 L52.23,664.16 L52.24,663.37 L52.25,662.58 L52.26,661.79 L52.27,660.99 L52.28,660.20 L52.32,659.41 L52.40,658.62 L52.53,657.83 L52.69,657.04 L52.85,656.25 L53.01,655.46 L53.17,654.67 L53.32,653.88 L53.52,653.09 L53.76,652.30 L54.04,651.51 L54.32,650.72 L54.61,649.92 L54.89,649.13 L55.16,648.34 L55.38,647.55 L55.57,646.76 L55.74,645.97 L55.91,645.18 L56.08,644.39 L56.25,643.60 L56.43,642.81 L56.56,642.02 L56.66,641.23 L56.73,640.44 L56.80,639.64 L56.87,638.85 L56.93,638.06 L57.00,637.27 L57.07,636.48 L57.13,635.69 L57.18,634.90Z" fill="#b797cf" stroke="#6e5a80" stroke-width="0.35"/>
<line x1="57.50" y1="634.90" x2="57.50" y2="729.00" stroke="#8a6aa8" stroke-width="0.5" />
<path d="M102.81,625.50 L102.82,626.37 L102.85,627.24 L102.87,628.11 L102.90,628.98 L102.92,629.85 L102.94,630.72 L102.97,631.59 L102.99,632.46 L103.02,633.33 L103.04,634.20 L103.06,635.07 L103.09,635.94 L103.11,636.81 L103.14,637.68 L103.16,638.55 L103.19,639.42 L103.26,640.29 L103.36,641.16 L103.48,642.03 L103.60,642.89 L103.72,643.76 L103.84,644.63 L103.96,645.50 L104.08,646.37 L104.20,647.24 L104.39,648.11 L104.64,648.98 L104.94,649.85 L105.23,650.72 L105.53,651.59 L105.83,652.46 L106.13,653.33 L106.42,654.20 L106.69,655.07 L106.92,655.94 L107.12,656.81 L107.33,657.68 L107.53,658.55 L107.73,659.42 L107.92,660.29 L108.01,661.16 L108.02,662.03 L107.95,662.90 L107.88,663.77 L107.82,664.64 L107.75,665.51 L107.68,666.38 L107.61,667.25 L107.55,668.12 L107.48,668.99 L107.40,669.86 L107.30,670.73 L107.19,671.60 L107.07,672.47 L106.96,673.34 L106.84,674.21 L106.72,675.08 L106.61,675.95 L106.49,676.82 L106.38,677.68 L106.26,678.55 L106.14,679.42 L106.03,680.29 L105.91,681.16 L105.81,682.03 L105.71,682.90 L105.62,683.77 L105.54,684.64 L105.45,685.51 L105.36,686.38 L105.27,687.25 L105.19,688.12 L105.10,688.99 L105.01,689.86 L104.93,690.73 L104.84,691.60 L104.75,692.47 L104.67,693.34 L104.58,694.21 L104.50,695.08 L104.43,695.95 L104.37,696.82 L104.31,697.69 L104.25,698.56 L104.19,699.43 L104.13,700.30 L104.07,701.17 L104.01,702.04 L103.95,702.91 L103.89,703.78 L103.83,704.65 L103.77,705.52 L103.71,706.39 L103.65,707.26 L103.60,708.13 L103.55,709.00 L103.51,709.87 L103.46,710.74 L103.42,711.61 L103.38,712.47 L103.33,713.34 L103.29,714.21 L103.25,715.08 L103.20,715.95 L103.16,716.82 L103.12,717.69 L103.09,718.56 L103.06,719.43 L103.04,720.30 L103.01,721.17 L102.99,722.04 L102.97,722.91 L102.94,723.78 L102.92,724.65 L102.89,725.52 L102.87,726.39 L102.85,727.26 L102.82,728.13 L102.81,729.00 L102.19,729.00 L102.18,728.13 L102.15,727.26 L102.13,726.39 L102.11,725.52 L102.08,724.65 L102.06,723.78 L102.03,722.91 L102.01,722.04 L101.99,721.17 L101.96,720.30 L101.94,719.43 L101.91,718.56 L101.88,717.69 L101.84,716.82 L101.80,715.95 L101.75,715.08 L101.71,714.21 L101.67,713.34 L101.62,712.47 L101.58,711.61 L101.54,710.74 L101.49,709.87 L101.45,709.00 L101.40,708.13 L101.35,707.26 L101.29,706.39 L101.23,705.52 L101.17,704.65 L101.11,703.78 L101.05,702.91 L100.99,702.04 L100.93,701.17 L100.87,700.30 L100.81,699.43 L100.75,698.56 L100.69,697.69 L100.63,696.82 L100.57,695.95 L100.50,695.08 L100.42,694.21 L100.33,693.34 L100.25,692.47 L100.16,691.60 L100.07,690.73 L99.99,689.86 L99.90,688.99 L99.81,688.12 L99.73,687.25 L99.64,686.38 L99.55,685.51 L99.46,684.64 L99.38,683.77 L99.29,682.90 L99.19,682.03 L99.09,681.16 L98.97,680.29 L98.86,679.42 L98.74,678.55 L98.62,677.68 L98.51,676.82 L98.39,675.95 L98.28,675.08 L98.16,674.21 L98.04,673.34 L97.93,672.47 L97.81,671.60 L97.70,670.73 L97.60,669.86 L97.52,668.99 L97.45,668.12 L97.39,667.25 L97.32,666.38 L97.25,665.51 L97.18,664.64 L97.12,663.77 L97.05,662.90 L96.98,662.03 L96.99,661.16 L97.08,660.29 L97.27,659.42 L97.47,658.55 L97.67,657.68 L97.88,656.81 L98.08,655.94 L98.31,655.07 L98.58,654.20 L98.87,653.33 L99.17,652.46 L99.47,651.59 L99.77,650.72 L100.06,649.85 L100.36,648.98 L100.61,648.11 L100.80,647.24 L100.92,646.37 L101.04,645.50 L101.16,644.63 L101.28,643.76 L101.40,642.89 L101.52,642.03 L101.64,641.16 L101.74,640.29 L101.81,639.42 L101.84,638.55 L101.86,637.68 L101.89,636.81 L101.91,635.94 L101.94,635.07 L101.96,634.20 L101.98,633.33 L102.01,632.46 L102.03,631.59 L102.06,630.72 L102.08,629.85 L102.10,628.98 L102.13,628.11 L102.15,627.24 L102.18,626.37 L102.19,625.50Z" fill="#b797cf" stroke="#6e5a80" stroke-width="0.35"/>
<line x1="102.50" y1="625.50" x2="102.50" y2="729.00" stroke="#8a6aa8" stroke-width="0.5" />
<path d="M148.31,625.50 L148.34,626.37 L148.38,627.24 L148.42,628.11 L148.47,628.98 L148.51,629.85 L148.55,630.72 L148.59,631.59 L148.63,632.46 L148.67,633.33 L148.71,634.20 L148.76,635.07 L148.83,635.94 L148.94,636.81 L149.09,637.68 L149.25,638.55 L149.40,639.42 L149.55,640.29 L149.70,641.16 L149.85,642.03 L150.01,642.89 L150.20,643.76 L150.46,644.63 L150.78,645.50 L151.11,646.37 L151.44,647.24 L151.78,648.11 L152.11,648.98 L152.47,649.85 L152.87,650.72 L153.30,651.59 L153.73,652.46 L154.17,653.33 L154.60,654.20 L155.07,655.07 L155.56,655.94 L156.09,656.81 L156.61,657.68 L157.07,658.55 L157.41,659.42 L157.61,660.29 L157.75,661.16 L157.68,662.03 L157.38,662.90 L156.88,663.77 L156.38,664.64 L155.89,665.51 L155.41,666.38 L154.95,667.25 L154.50,668.12 L154.05,668.99 L153.59,669.86 L153.19,670.73 L152.85,671.60 L152.58,672.47 L152.33,673.34 L152.08,674.21 L151.84,675.08 L151.59,675.95 L151.34,676.82 L151.11,677.68 L150.91,678.55 L150.75,679.42 L150.60,680.29 L150.45,681.16 L150.29,682.03 L150.14,682.90 L149.99,683.77 L149.84,684.64 L149.70,685.51 L149.58,686.38 L149.49,687.25 L149.41,688.12 L149.33,688.99 L149.26,689.86 L149.18,690.73 L149.10,691.60 L149.02,692.47 L148.95,693.34 L148.87,694.21 L148.82,695.08 L148.78,695.95 L148.76,696.82 L148.74,697.69 L148.72,698.56 L148.70,699.43 L148.68,700.30 L148.66,701.17 L148.64,702.04 L148.62,702.91 L148.60,703.78 L148.57,704.65 L148.55,705.52 L148.53,706.39 L148.51,707.26 L148.49,708.13 L148.47,709.00 L148.46,709.87 L148.44,710.74 L148.44,711.61 L148.43,712.47 L148.42,713.34 L148.42,714.21 L148.41,715.08 L148.40,715.95 L148.40,716.82 L148.39,717.69 L148.38,718.56 L148.38,719.43 L148.37,720.30 L148.36,721.17 L148.35,722.04 L148.35,722.91 L148.34,723.78 L148.33,724.65 L148.33,725.52 L148.32,726.39 L148.31,727.26 L148.31,728.13 L148.30,729.00 L147.70,729.00 L147.69,728.13 L147.69,727.26 L147.68,726.39 L147.67,725.52 L147.67,724.65 L147.66,723.78 L147.65,722.91 L147.65,722.04 L147.64,721.17 L147.63,720.30 L147.62,719.43 L147.62,718.56 L147.61,717.69 L147.60,716.82 L147.60,715.95 L147.59,715.08 L147.58,714.21 L147.58,713.34 L147.57,712.47 L147.56,711.61 L147.56,710.74 L147.54,709.87 L147.53,709.00 L147.51,708.13 L147.49,707.26 L147.47,706.39 L147.45,705.52 L147.43,704.65 L147.40,703.78 L147.38,702.91 L147.36,702.04 L147.34,701.17 L147.32,700.30 L147.30,699.43 L147.28,698.56 L147.26,697.69 L147.24,696.82 L147.22,695.95 L147.18,695.08 L147.13,694.21 L147.05,693.34 L146.98,692.47 L146.90,691.60 L146.82,690.73 L146.74,689.86 L146.67,688.99 L146.59,688.12 L146.51,687.25 L146.42,686.38 L146.30,685.51 L146.16,684.64 L146.01,683.77 L145.86,682.90 L145.71,682.03 L145.55,681.16 L145.40,680.29 L145.25,679.42 L145.09,678.55 L144.89,677.68 L144.66,676.82 L144.41,675.95 L144.16,675.08 L143.92,674.21 L143.67,673.34 L143.42,672.47 L143.15,671.60 L142.81,670.73 L142.41,669.86 L141.95,668.99 L141.50,668.12 L141.05,667.25 L140.59,666.38 L140.11,665.51 L139.62,664.64 L139.12,663.77 L138.62,662.90 L138.32,662.03 L138.25,661.16 L138.39,660.29 L138.59,659.42 L138.93,658.55 L139.39,657.68 L139.91,656.81 L140.44,655.94 L140.93,655.07 L141.40,654.20 L141.83,653.33 L142.27,652.46 L142.70,651.59 L143.13,650.72 L143.53,649.85 L143.89,648.98 L144.22,648.11 L144.56,647.24 L144.89,646.37 L145.22,645.50 L145.54,644.63 L145.80,643.76 L145.99,642.89 L146.15,642.03 L146.30,641.16 L146.45,640.29 L146.60,639.42 L146.75,638.55 L146.91,637.68 L147.06,636.81 L147.17,635.94 L147.24,635.07 L147.29,634.20 L147.33,633.33 L147.37,632.46 L147.41,631.59 L147.45,630.72 L147.49,629.85 L147.53,628.98 L147.58,628.11 L147.62,627.24 L147.66,626.37 L147.69,625.50Z" fill="#b797cf" stroke="#6e5a80" stroke-width="0.35"/>
<line x1="148.00" y1="625.50" x2="148.00" y2="729.00" stroke="#8a6aa8" stroke-width="0.5" />
<path d="M193.01,629.00 L193.04,629.84 L193.08,630.68 L193.11,631.52 L193.15,632.36 L193.19,633.20 L193.23,634.04 L193.27,634.88 L193.31,635.72 L193.34,636.56 L193.38,637.40 L193.42,638.24 L193.46,639.08 L193.54,639.92 L193.66,640.76 L193.82,641.61 L193.99,642.45 L194.16,643.29 L194.33,644.13 L194.49,644.97 L194.66,645.81 L194.86,646.65 L195.12,647.49 L195.43,648.33 L195.77,649.17 L196.10,650.01 L196.44,650.85 L196.78,651.69 L197.13,652.53 L197.51,653.37 L197.93,654.21 L198.37,655.05 L198.80,655.89 L199.24,656.73 L199.64,657.57 L199.96,658.41 L200.21,659.25 L200.42,660.09 L200.63,660.93 L200.73,661.77 L200.69,662.61 L200.49,663.45 L200.26,664.29 L200.02,665.13 L199.79,665.97 L199.54,666.82 L199.28,667.66 L199.01,668.50 L198.73,669.34 L198.46,670.18 L198.18,671.02 L197.90,671.86 L197.63,672.70 L197.36,673.54 L197.12,674.38 L196.91,675.22 L196.71,676.06 L196.51,676.90 L196.31,677.74 L196.11,678.58 L195.91,679.42 L195.71,680.26 L195.51,681.10 L195.34,681.94 L195.20,682.78 L195.09,683.62 L194.98,684.46 L194.87,685.30 L194.76,686.14 L194.65,686.98 L194.54,687.82 L194.43,688.66 L194.32,689.50 L194.22,690.34 L194.11,691.18 L194.02,692.03 L193.95,692.87 L193.90,693.71 L193.85,694.55 L193.80,695.39 L193.75,696.23 L193.70,697.07 L193.66,697.91 L193.61,698.75 L193.56,699.59 L193.51,700.43 L193.46,701.27 L193.41,702.11 L193.36,702.95 L193.32,703.79 L193.30,704.63 L193.28,705.47 L193.27,706.31 L193.26,707.15 L193.25,707.99 L193.24,708.83 L193.23,709.67 L193.22,710.51 L193.21,711.35 L193.20,712.19 L193.19,713.03 L193.18,713.87 L193.17,714.71 L193.16,715.55 L193.15,716.39 L193.14,717.24 L193.13,718.08 L193.12,718.92 L193.11,719.76 L193.10,720.60 L193.09,721.44 L193.08,722.28 L193.07,723.12 L193.06,723.96 L193.05,724.80 L193.04,725.64 L193.03,726.48 L193.02,727.32 L193.01,728.16 L193.00,729.00 L192.40,729.00 L192.39,728.16 L192.38,727.32 L192.37,726.48 L192.36,725.64 L192.35,724.80 L192.34,723.96 L192.33,723.12 L192.32,722.28 L192.31,721.44 L192.30,720.60 L192.29,719.76 L192.28,718.92 L192.27,718.08 L192.26,717.24 L192.25,716.39 L192.24,715.55 L192.23,714.71 L192.22,713.87 L192.21,713.03 L192.20,712.19 L192.19,711.35 L192.18,710.51 L192.17,709.67 L192.16,708.83 L192.15,707.99 L192.14,707.15 L192.13,706.31 L192.12,705.47 L192.10,704.63 L192.08,703.79 L192.04,702.95 L191.99,702.11 L191.94,701.27 L191.89,700.43 L191.84,699.59 L191.79,698.75 L191.74,697.91 L191.70,697.07 L191.65,696.23 L191.60,695.39 L191.55,694.55 L191.50,693.71 L191.45,692.87 L191.38,692.03 L191.29,691.18 L191.18,690.34 L191.08,689.50 L190.97,688.66 L190.86,687.82 L190.75,686.98 L190.64,686.14 L190.53,685.30 L190.42,684.46 L190.31,683.62 L190.20,682.78 L190.06,681.94 L189.89,681.10 L189.69,680.26 L189.49,679.42 L189.29,678.58 L189.09,677.74 L188.89,676.90 L188.69,676.06 L188.49,675.22 L188.28,674.38 L188.04,673.54 L187.77,672.70 L187.50,671.86 L187.22,671.02 L186.94,670.18 L186.67,669.34 L186.39,668.50 L186.12,667.66 L185.86,666.82 L185.61,665.97 L185.38,665.13 L185.14,664.29 L184.91,663.45 L184.71,662.61 L184.67,661.77 L184.77,660.93 L184.98,660.09 L185.19,659.25 L185.44,658.41 L185.76,657.57 L186.16,656.73 L186.60,655.89 L187.03,655.05 L187.47,654.21 L187.89,653.37 L188.27,652.53 L188.62,651.69 L188.96,650.85 L189.30,650.01 L189.63,649.17 L189.97,648.33 L190.28,647.49 L190.54,646.65 L190.74,645.81 L190.91,644.97 L191.07,644.13 L191.24,643.29 L191.41,642.45 L191.58,641.61 L191.74,640.76 L191.86,639.92 L191.94,639.08 L191.98,638.24 L192.02,637.40 L192.06,636.56 L192.09,635.72 L192.13,634.88 L192.17,634.04 L192.21,633.20 L192.25,632.36 L192.29,631.52 L192.32,630.68 L192.36,629.84 L192.39,629.00Z" fill="#b797cf" stroke="#6e5a80" stroke-width="0.35"/>
<line x1="192.70" y1="629.00" x2="192.70" y2="729.00" stroke="#8a6aa8" stroke-width="0.5" />
<path d="M238.72,632.40 L238.76,633.21 L238.82,634.02 L238.88,634.84 L238.94,635.65 L239.00,636.46 L239.06,637.27 L239.11,638.08 L239.17,638.89 L239.23,639.71 L239.29,640.52 L239.36,641.33 L239.48,642.14 L239.65,642.95 L239.85,643.76 L240.06,644.58 L240.27,645.39 L240.48,646.20 L240.69,647.01 L240.90,647.82 L241.15,648.64 L241.48,649.45 L241.88,650.26 L242.32,651.07 L242.76,651.88 L243.19,652.69 L243.66,653.51 L244.21,654.32 L244.83,655.13 L245.50,655.94 L246.17,656.75 L246.88,657.56 L247.67,658.38 L248.55,659.19 L249.47,660.00 L250.00,660.81 L250.03,661.62 L249.55,662.44 L248.95,663.25 L248.35,664.06 L247.74,664.87 L247.12,665.68 L246.50,666.49 L245.89,667.31 L245.27,668.12 L244.75,668.93 L244.33,669.74 L244.02,670.55 L243.72,671.36 L243.42,672.18 L243.12,672.99 L242.82,673.80 L242.52,674.61 L242.23,675.42 L241.99,676.24 L241.80,677.05 L241.65,677.86 L241.50,678.67 L241.34,679.48 L241.19,680.29 L241.04,681.11 L240.88,681.92 L240.73,682.73 L240.58,683.54 L240.43,684.35 L240.30,685.16 L240.19,685.98 L240.10,686.79 L240.01,687.60 L239.92,688.41 L239.83,689.22 L239.74,690.04 L239.65,690.85 L239.56,691.66 L239.47,692.47 L239.38,693.28 L239.31,694.09 L239.27,694.91 L239.24,695.72 L239.21,696.53 L239.18,697.34 L239.15,698.15 L239.12,698.96 L239.09,699.78 L239.06,700.59 L239.03,701.40 L239.00,702.21 L238.97,703.02 L238.94,703.84 L238.92,704.65 L238.90,705.46 L238.89,706.27 L238.88,707.08 L238.88,707.89 L238.87,708.71 L238.86,709.52 L238.86,710.33 L238.85,711.14 L238.84,711.95 L238.84,712.76 L238.83,713.58 L238.82,714.39 L238.81,715.20 L238.81,716.01 L238.80,716.82 L238.79,717.64 L238.79,718.45 L238.78,719.26 L238.77,720.07 L238.77,720.88 L238.76,721.69 L238.75,722.51 L238.75,723.32 L238.74,724.13 L238.73,724.94 L238.73,725.75 L238.72,726.56 L238.71,727.38 L238.71,728.19 L238.70,729.00 L238.10,729.00 L238.09,728.19 L238.09,727.38 L238.08,726.56 L238.07,725.75 L238.07,724.94 L238.06,724.13 L238.05,723.32 L238.05,722.51 L238.04,721.69 L238.03,720.88 L238.03,720.07 L238.02,719.26 L238.01,718.45 L238.01,717.64 L238.00,716.82 L237.99,716.01 L237.99,715.20 L237.98,714.39 L237.97,713.58 L237.96,712.76 L237.96,711.95 L237.95,711.14 L237.94,710.33 L237.94,709.52 L237.93,708.71 L237.92,707.89 L237.92,707.08 L237.91,706.27 L237.90,705.46 L237.88,704.65 L237.86,703.84 L237.83,703.02 L237.80,702.21 L237.77,701.40 L237.74,700.59 L237.71,699.78 L237.68,698.96 L237.65,698.15 L237.62,697.34 L237.59,696.53 L237.56,695.72 L237.53,694.91 L237.49,694.09 L237.42,693.28 L237.33,692.47 L237.24,691.66 L237.15,690.85 L237.06,690.04 L236.97,689.22 L236.88,688.41 L236.79,687.60 L236.70,686.79 L236.61,685.98 L236.50,685.16 L236.37,684.35 L236.22,683.54 L236.07,682.73 L235.92,681.92 L235.76,681.11 L235.61,680.29 L235.46,679.48 L235.30,678.67 L235.15,677.86 L235.00,677.05 L234.81,676.24 L234.57,675.42 L234.28,674.61 L233.98,673.80 L233.68,672.99 L233.38,672.18 L233.08,671.36 L232.78,670.55 L232.47,669.74 L232.05,668.93 L231.53,668.12 L230.91,667.31 L230.30,666.49 L229.68,665.68 L229.06,664.87 L228.45,664.06 L227.85,663.25 L227.25,662.44 L226.77,661.62 L226.80,660.81 L227.33,660.00 L228.25,659.19 L229.13,658.38 L229.92,657.56 L230.63,656.75 L231.30,655.94 L231.97,655.13 L232.59,654.32 L233.14,653.51 L233.61,652.69 L234.04,651.88 L234.48,651.07 L234.92,650.26 L235.32,649.45 L235.65,648.64 L235.90,647.82 L236.11,647.01 L236.32,646.20 L236.53,645.39 L236.74,644.58 L236.95,643.76 L237.15,642.95 L237.32,642.14 L237.44,641.33 L237.51,640.52 L237.57,639.71 L237.63,638.89 L237.69,638.08 L237.74,637.27 L237.80,636.46 L237.86,635.65 L237.92,634.84 L237.98,634.02 L238.04,633.21 L238.08,632.40Z" fill="#b797cf" stroke="#6e5a80" stroke-width="0.35"/>
<line x1="238.40" y1="632.40" x2="238.40" y2="729.00" stroke="#8a6aa8" stroke-width="0.5" />
<path d="M283.72,636.50 L283.76,637.28 L283.83,638.05 L283.89,638.83 L283.96,639.61 L284.02,640.39 L284.08,641.16 L284.15,641.94 L284.21,642.72 L284.28,643.50 L284.34,644.27 L284.49,645.05 L284.70,645.83 L284.99,646.61 L285.27,647.38 L285.56,648.16 L285.84,648.94 L286.13,649.71 L286.44,650.49 L286.83,651.27 L287.29,652.05 L287.80,652.82 L288.32,653.60 L288.83,654.38 L289.34,655.16 L289.95,655.93 L290.66,656.71 L291.48,657.49 L292.30,658.26 L293.12,659.04 L293.95,659.82 L294.57,660.60 L294.75,661.37 L294.51,662.15 L294.04,662.93 L293.57,663.71 L293.07,664.48 L292.56,665.26 L292.04,666.04 L291.52,666.82 L291.01,667.59 L290.49,668.37 L289.97,669.15 L289.52,669.92 L289.16,670.70 L288.88,671.48 L288.61,672.26 L288.34,673.03 L288.07,673.81 L287.79,674.59 L287.52,675.37 L287.25,676.14 L286.98,676.92 L286.74,677.70 L286.54,678.47 L286.40,679.25 L286.28,680.03 L286.15,680.81 L286.03,681.58 L285.90,682.36 L285.78,683.14 L285.65,683.92 L285.53,684.69 L285.40,685.47 L285.28,686.25 L285.16,687.03 L285.05,687.80 L284.96,688.58 L284.89,689.36 L284.83,690.13 L284.77,690.91 L284.70,691.69 L284.64,692.47 L284.58,693.24 L284.52,694.02 L284.46,694.80 L284.39,695.58 L284.33,696.35 L284.27,697.13 L284.22,697.91 L284.18,698.68 L284.15,699.46 L284.12,700.24 L284.09,701.02 L284.07,701.79 L284.04,702.57 L284.01,703.35 L283.99,704.13 L283.96,704.90 L283.93,705.68 L283.90,706.46 L283.88,707.24 L283.86,708.01 L283.84,708.79 L283.84,709.57 L283.83,710.34 L283.83,711.12 L283.82,711.90 L283.82,712.68 L283.81,713.45 L283.81,714.23 L283.80,715.01 L283.79,715.79 L283.79,716.56 L283.78,717.34 L283.78,718.12 L283.77,718.89 L283.77,719.67 L283.76,720.45 L283.76,721.23 L283.75,722.00 L283.74,722.78 L283.74,723.56 L283.73,724.34 L283.73,725.11 L283.72,725.89 L283.72,726.67 L283.71,727.45 L283.71,728.22 L283.70,729.00 L283.10,729.00 L283.09,728.22 L283.09,727.45 L283.08,726.67 L283.08,725.89 L283.07,725.11 L283.07,724.34 L283.06,723.56 L283.06,722.78 L283.05,722.00 L283.04,721.23 L283.04,720.45 L283.03,719.67 L283.03,718.89 L283.02,718.12 L283.02,717.34 L283.01,716.56 L283.01,715.79 L283.00,715.01 L282.99,714.23 L282.99,713.45 L282.98,712.68 L282.98,711.90 L282.97,711.12 L282.97,710.34 L282.96,709.57 L282.96,708.79 L282.94,708.01 L282.92,707.24 L282.90,706.46 L282.87,705.68 L282.84,704.90 L282.81,704.13 L282.79,703.35 L282.76,702.57 L282.73,701.79 L282.71,701.02 L282.68,700.24 L282.65,699.46 L282.62,698.68 L282.58,697.91 L282.53,697.13 L282.47,696.35 L282.41,695.58 L282.34,694.80 L282.28,694.02 L282.22,693.24 L282.16,692.47 L282.10,691.69 L282.03,690.91 L281.97,690.13 L281.91,689.36 L281.84,688.58 L281.75,687.80 L281.64,687.03 L281.52,686.25 L281.40,685.47 L281.27,684.69 L281.15,683.92 L281.02,683.14 L280.90,682.36 L280.77,681.58 L280.65,680.81 L280.52,680.03 L280.40,679.25 L280.26,678.47 L280.06,677.70 L279.82,676.92 L279.55,676.14 L279.28,675.37 L279.01,674.59 L278.73,673.81 L278.46,673.03 L278.19,672.26 L277.92,671.48 L277.64,670.70 L277.28,669.92 L276.83,669.15 L276.31,668.37 L275.79,667.59 L275.28,666.82 L274.76,666.04 L274.24,665.26 L273.73,664.48 L273.23,663.71 L272.76,662.93 L272.29,662.15 L272.05,661.37 L272.23,660.60 L272.85,659.82 L273.68,659.04 L274.50,658.26 L275.32,657.49 L276.14,656.71 L276.85,655.93 L277.46,655.16 L277.97,654.38 L278.48,653.60 L279.00,652.82 L279.51,652.05 L279.97,651.27 L280.36,650.49 L280.67,649.71 L280.96,648.94 L281.24,648.16 L281.53,647.38 L281.81,646.61 L282.10,645.83 L282.31,645.05 L282.46,644.27 L282.52,643.50 L282.59,642.72 L282.65,641.94 L282.72,641.16 L282.78,640.39 L282.84,639.61 L282.91,638.83 L282.97,638.05 L283.04,637.28 L283.08,636.50Z" fill="#b797cf" stroke="#6e5a80" stroke-width="0.35"/>
<line x1="283.40" y1="636.50" x2="283.40" y2="729.00" stroke="#8a6aa8" stroke-width="0.5" />
<path d="M328.62,625.20 L328.65,625.86 L328.71,626.52 L328.76,627.19 L328.81,627.85 L328.86,628.51 L328.92,629.17 L328.97,629.84 L329.02,630.50 L329.07,631.16 L329.13,631.82 L329.18,632.48 L329.23,633.15 L329.31,633.81 L329.42,634.47 L329.56,635.13 L329.71,635.79 L329.86,636.46 L330.01,637.12 L330.16,637.78 L330.32,638.44 L330.47,639.11 L330.62,639.77 L330.78,640.43 L330.98,641.09 L331.23,641.75 L331.51,642.42 L331.80,643.08 L332.09,643.74 L332.37,644.40 L332.66,645.07 L332.95,645.73 L333.24,646.39 L333.61,647.05 L334.04,647.71 L334.55,648.38 L335.05,649.04 L335.55,649.70 L336.06,650.36 L336.56,651.03 L337.08,651.69 L337.65,652.35 L338.26,653.01 L338.89,653.67 L339.52,654.34 L340.15,655.00 L340.74,655.66 L341.25,656.32 L341.69,656.98 L341.94,657.65 L341.87,658.31 L341.49,658.97 L340.94,659.63 L340.39,660.30 L339.81,660.96 L339.22,661.62 L338.59,662.28 L337.97,662.94 L337.35,663.61 L336.73,664.27 L336.10,664.93 L335.53,665.59 L335.06,666.26 L334.71,666.92 L334.42,667.58 L334.14,668.24 L333.86,668.90 L333.57,669.57 L333.29,670.23 L333.00,670.89 L332.72,671.55 L332.44,672.22 L332.19,672.88 L332.00,673.54 L331.86,674.20 L331.73,674.86 L331.59,675.53 L331.46,676.19 L331.33,676.85 L331.20,677.51 L331.07,678.17 L330.93,678.84 L330.80,679.50 L330.67,680.16 L330.54,680.82 L330.41,681.49 L330.30,682.15 L330.21,682.81 L330.14,683.47 L330.07,684.13 L329.99,684.80 L329.92,685.46 L329.85,686.12 L329.77,686.78 L329.70,687.45 L329.63,688.11 L329.56,688.77 L329.48,689.43 L329.41,690.09 L329.34,690.76 L329.27,691.42 L329.21,692.08 L329.16,692.74 L329.13,693.41 L329.10,694.07 L329.06,694.73 L329.03,695.39 L329.00,696.05 L328.96,696.72 L328.93,697.38 L328.90,698.04 L328.86,698.70 L328.83,699.36 L328.80,700.03 L328.77,700.69 L328.73,701.35 L328.70,702.01 L328.67,702.68 L328.63,703.34 L328.61,704.00 L327.99,704.00 L327.97,703.34 L327.93,702.68 L327.90,702.01 L327.87,701.35 L327.83,700.69 L327.80,700.03 L327.77,699.36 L327.74,698.70 L327.70,698.04 L327.67,697.38 L327.64,696.72 L327.60,696.05 L327.57,695.39 L327.54,694.73 L327.50,694.07 L327.47,693.41 L327.44,692.74 L327.39,692.08 L327.33,691.42 L327.26,690.76 L327.19,690.09 L327.12,689.43 L327.04,688.77 L326.97,688.11 L326.90,687.45 L326.83,686.78 L326.75,686.12 L326.68,685.46 L326.61,684.80 L326.53,684.13 L326.46,683.47 L326.39,682.81 L326.30,682.15 L326.19,681.49 L326.06,680.82 L325.93,680.16 L325.80,679.50 L325.67,678.84 L325.53,678.17 L325.40,677.51 L325.27,676.85 L325.14,676.19 L325.01,675.53 L324.87,674.86 L324.74,674.20 L324.60,673.54 L324.41,672.88 L324.16,672.22 L323.88,671.55 L323.60,670.89 L323.31,670.23 L323.03,669.57 L322.74,668.90 L322.46,668.24 L322.18,667.58 L321.89,666.92 L321.54,666.26 L321.07,665.59 L320.50,664.93 L319.87,664.27 L319.25,663.61 L318.63,662.94 L318.01,662.28 L317.38,661.62 L316.79,660.96 L316.21,660.30 L315.66,659.63 L315.11,658.97 L314.73,658.31 L314.66,657.65 L314.91,656.98 L315.35,656.32 L315.86,655.66 L316.45,655.00 L317.08,654.34 L317.71,653.67 L318.34,653.01 L318.95,652.35 L319.52,651.69 L320.04,651.03 L320.54,650.36 L321.05,649.70 L321.55,649.04 L322.05,648.38 L322.56,647.71 L322.99,647.05 L323.36,646.39 L323.65,645.73 L323.94,645.07 L324.23,644.40 L324.51,643.74 L324.80,643.08 L325.09,642.42 L325.37,641.75 L325.62,641.09 L325.82,640.43 L325.98,639.77 L326.13,639.11 L326.28,638.44 L326.44,637.78 L326.59,637.12 L326.74,636.46 L326.89,635.79 L327.04,635.13 L327.18,634.47 L327.29,633.81 L327.37,633.15 L327.42,632.48 L327.47,631.82 L327.53,631.16 L327.58,630.50 L327.63,629.84 L327.68,629.17 L327.74,628.51 L327.79,627.85 L327.84,627.19 L327.89,626.52 L327.95,625.86 L327.98,625.20Z" fill="#b797cf" stroke="#6e5a80" stroke-width="0.35"/>
<line x1="328.30" y1="625.20" x2="328.30" y2="704.00" stroke="#8a6aa8" stroke-width="0.5" />
<line x1="35.0" y1="659.4" x2="350" y2="659.4" stroke="#111" stroke-width="1.5" stroke-dasharray="3.2 4.4"/>
<rect x="56.60" y="665.90" width="1.8" height="27.70" fill="#3a3a3a"/>
<circle cx="57.50" cy="676.90" r="1.1" fill="#fff"/>
<rect x="101.60" y="664.00" width="1.8" height="29.30" fill="#3a3a3a"/>
<circle cx="102.50" cy="675.30" r="1.1" fill="#fff"/>
<rect x="147.10" y="658.20" width="1.8" height="12.90" fill="#3a3a3a"/>
<circle cx="148.00" cy="663.60" r="1.1" fill="#fff"/>
<rect x="191.80" y="660.60" width="1.8" height="18.70" fill="#3a3a3a"/>
<circle cx="192.70" cy="668.70" r="1.1" fill="#fff"/>
<rect x="237.50" y="659.00" width="1.8" height="15.30" fill="#3a3a3a"/>
<circle cx="238.40" cy="665.00" r="1.1" fill="#fff"/>
<rect x="282.50" y="659.00" width="1.8" height="15.30" fill="#3a3a3a"/>
<circle cx="283.40" cy="665.00" r="1.1" fill="#fff"/>
<rect x="327.40" y="651.80" width="1.8" height="9.20" fill="#3a3a3a"/>
<circle cx="328.30" cy="658.30" r="1.1" fill="#fff"/>
<text transform="translate(59.3,680.9) scale(1,1.09)" font-size="10.2" text-anchor="start" fill="#1a1a1a" stroke="#1a1a1a" class="r" >-0.649</text>
<text transform="translate(104.5,679.2) scale(1,1.09)" font-size="10.2" text-anchor="start" fill="#1a1a1a" stroke="#1a1a1a" class="r" >-0.571</text>
<text transform="translate(149.7,668.0) scale(1,1.09)" font-size="10.2" text-anchor="start" fill="#1a1a1a" stroke="#1a1a1a" class="r" >-0.144</text>
<text transform="translate(195.1,672.6) scale(1,1.09)" font-size="10.2" text-anchor="start" fill="#1a1a1a" stroke="#1a1a1a" class="r" >-0.338</text>
<text transform="translate(240.9,668.9) scale(1,1.09)" font-size="10.2" text-anchor="start" fill="#1a1a1a" stroke="#1a1a1a" class="r" >-0.204</text>
<text transform="translate(286.7,668.9) scale(1,1.09)" font-size="10.2" text-anchor="start" fill="#1a1a1a" stroke="#1a1a1a" class="r" >-0.230</text>
<text transform="translate(330.7,656.7) scale(1,1.09)" font-size="10.2" text-anchor="start" fill="#1a1a1a" stroke="#1a1a1a" class="r" >0.051</text>
<line x1="35.00" y1="625.30" x2="35.00" y2="729.00" stroke="#444" stroke-width="0.9" />
<line x1="35.00" y1="729.00" x2="351.30" y2="729.00" stroke="#444" stroke-width="0.9" />
<line x1="32.40" y1="631.40" x2="35.00" y2="631.40" stroke="#444" stroke-width="0.9" />
<text transform="translate(31.0,634.8) scale(1,1.09)" font-size="9.4" text-anchor="end" fill="#1a1a1a" stroke="#1a1a1a" class="r" >1.0</text>
<line x1="33.40" y1="638.40" x2="35.00" y2="638.40" stroke="#444" stroke-width="0.9" />
<line x1="32.40" y1="645.40" x2="35.00" y2="645.40" stroke="#444" stroke-width="0.9" />
<text transform="translate(31.0,648.8) scale(1,1.09)" font-size="9.4" text-anchor="end" fill="#1a1a1a" stroke="#1a1a1a" class="r" >0.5</text>
<line x1="33.40" y1="652.40" x2="35.00" y2="652.40" stroke="#444" stroke-width="0.9" />
<line x1="32.40" y1="659.40" x2="35.00" y2="659.40" stroke="#444" stroke-width="0.9" />
<text transform="translate(31.0,662.8) scale(1,1.09)" font-size="9.4" text-anchor="end" fill="#1a1a1a" stroke="#1a1a1a" class="r" >0.0</text>
<line x1="33.40" y1="666.40" x2="35.00" y2="666.40" stroke="#444" stroke-width="0.9" />
<line x1="32.40" y1="673.40" x2="35.00" y2="673.40" stroke="#444" stroke-width="0.9" />
<text transform="translate(31.0,676.8) scale(1,1.09)" font-size="9.4" text-anchor="end" fill="#1a1a1a" stroke="#1a1a1a" class="r" >−0.5</text>
<line x1="33.40" y1="680.40" x2="35.00" y2="680.40" stroke="#444" stroke-width="0.9" />
<line x1="32.40" y1="687.40" x2="35.00" y2="687.40" stroke="#444" stroke-width="0.9" />
<text transform="translate(31.0,690.8) scale(1,1.09)" font-size="9.4" text-anchor="end" fill="#1a1a1a" stroke="#1a1a1a" class="r" >−1.0</text>
<line x1="33.40" y1="694.40" x2="35.00" y2="694.40" stroke="#444" stroke-width="0.9" />
<line x1="32.40" y1="701.40" x2="35.00" y2="701.40" stroke="#444" stroke-width="0.9" />
<text transform="translate(31.0,704.8) scale(1,1.09)" font-size="9.4" text-anchor="end" fill="#1a1a1a" stroke="#1a1a1a" class="r" >−1.5</text>
<line x1="33.40" y1="708.40" x2="35.00" y2="708.40" stroke="#444" stroke-width="0.9" />
<line x1="32.40" y1="715.40" x2="35.00" y2="715.40" stroke="#444" stroke-width="0.9" />
<text transform="translate(31.0,718.8) scale(1,1.09)" font-size="9.4" text-anchor="end" fill="#1a1a1a" stroke="#1a1a1a" class="r" >−2.0</text>
<line x1="33.40" y1="722.40" x2="35.00" y2="722.40" stroke="#444" stroke-width="0.9" />
<line x1="32.40" y1="729.40" x2="35.00" y2="729.40" stroke="#444" stroke-width="0.9" />
<text transform="translate(31.0,732.8) scale(1,1.09)" font-size="9.4" text-anchor="end" fill="#1a1a1a" stroke="#1a1a1a" class="r" >−2.5</text>
<line x1="57.50" y1="729.00" x2="57.50" y2="731.80" stroke="#444" stroke-width="0.9" />
<line x1="102.60" y1="729.00" x2="102.60" y2="731.80" stroke="#444" stroke-width="0.9" />
<line x1="147.60" y1="729.00" x2="147.60" y2="731.80" stroke="#444" stroke-width="0.9" />
<line x1="192.80" y1="729.00" x2="192.80" y2="731.80" stroke="#444" stroke-width="0.9" />
<line x1="238.30" y1="729.00" x2="238.30" y2="731.80" stroke="#444" stroke-width="0.9" />
<line x1="283.30" y1="729.00" x2="283.30" y2="731.80" stroke="#444" stroke-width="0.9" />
<line x1="328.40" y1="729.00" x2="328.40" y2="731.80" stroke="#444" stroke-width="0.9" />
<text transform="translate(7.6,677.5) rotate(-90)" font-size="10.4" text-anchor="middle" fill="#1a1a1a" stroke="#1a1a1a" class="r">Pol II retention index</text>
<path d="M148.50,564.10 L148.50,561.80 L328.80,561.80 L328.80,564.10" fill="none" stroke="#555" stroke-width="0.9"/>
<path d="M102.10,578.60 L102.10,576.30 L283.50,576.30 L283.50,578.60" fill="none" stroke="#555" stroke-width="0.9"/>
<path d="M193.30,591.30 L193.30,589.00 L283.50,589.00 L283.50,591.30" fill="none" stroke="#555" stroke-width="0.9"/>
<path d="M238.40,606.60 L238.40,604.30 L328.80,604.30 L328.80,606.60" fill="none" stroke="#555" stroke-width="0.9"/>
<path d="M57.30,624.20 L57.30,621.90 L191.80,621.90 L191.80,624.20" fill="none" stroke="#555" stroke-width="0.9"/>
<path d="M193.30,624.20 L193.30,621.90 L238.40,621.90 L238.40,624.20" fill="none" stroke="#555" stroke-width="0.9"/>
<path d="M283.50,624.20 L283.50,621.90 L328.80,621.90 L328.80,624.20" fill="none" stroke="#555" stroke-width="0.9"/>
<text transform="translate(239.2,558.3) scale(1,1.09)" font-size="9.8" text-anchor="middle" fill="#1a1a1a" stroke="#1a1a1a" class="r" >&lt;1.0E-200</text>
<text transform="translate(193.5,573.1) scale(1,1.09)" font-size="9.8" text-anchor="middle" fill="#1a1a1a" stroke="#1a1a1a" class="r" >&lt;1.0E-200</text>
<text transform="translate(235.7,586.1) scale(1,1.09)" font-size="9.8" text-anchor="middle" fill="#1a1a1a" stroke="#1a1a1a" class="r" >5.7E-144</text>
<text transform="translate(280.8,602.0) scale(1,1.09)" font-size="9.8" text-anchor="middle" fill="#1a1a1a" stroke="#1a1a1a" class="r" >&lt;1.0E-200</text>
<text transform="translate(124.5,618.6) scale(1,1.09)" font-size="9.8" text-anchor="middle" fill="#1a1a1a" stroke="#1a1a1a" class="r" >&lt;1.0E-200</text>
<text transform="translate(217.0,618.6) scale(1,1.09)" font-size="9.8" text-anchor="middle" fill="#1a1a1a" stroke="#1a1a1a" class="r" >3.2E-124</text>
<text transform="translate(306.5,618.6) scale(1,1.09)" font-size="9.8" text-anchor="middle" fill="#1a1a1a" stroke="#1a1a1a" class="r" >&lt;1.0E-200</text>
<text transform="translate(64.1,742.4) rotate(-28) scale(1,1.09)" font-size="10.3" text-anchor="end" fill="#1a1a1a" stroke="#1a1a1a" class="r" >Ctrl</text>
<text transform="translate(107.5,742.8) rotate(-28) scale(1,1.09)" font-size="10.3" text-anchor="end" fill="#1a1a1a" stroke="#1a1a1a" class="r" ><tspan font-style="italic">UVSSA</tspan>-KO</text>
<text transform="translate(153.1,742.8) rotate(-28) scale(1,1.09)" font-size="10.3" text-anchor="end" fill="#1a1a1a" stroke="#1a1a1a" class="r" ><tspan font-style="italic">UVSSA</tspan>-KO +p97i</text>
<text transform="translate(196.5,742.8) rotate(-28) scale(1,1.09)" font-size="10.3" text-anchor="end" fill="#1a1a1a" stroke="#1a1a1a" class="r" >RPB1-K1268R</text>
<text transform="translate(243.1,742.8) rotate(-28) scale(1,1.09)" font-size="10.3" text-anchor="end" fill="#1a1a1a" stroke="#1a1a1a" class="r" >RPB1-K1268R +p97i</text>
<text transform="translate(285.0,742.8) rotate(-28) scale(1,1.09)" font-size="10.3" text-anchor="end" fill="#1a1a1a" stroke="#1a1a1a" class="r" >RPB1-K1268R /</text>
<text transform="translate(290.1,752.4) rotate(-28) scale(1,1.09)" font-size="10.3" text-anchor="end" fill="#1a1a1a" stroke="#1a1a1a" class="r" ><tspan font-style="italic">UVSSA</tspan>-KO</text>
<text transform="translate(337.0,742.8) rotate(-28) scale(1,1.09)" font-size="10.3" text-anchor="end" fill="#1a1a1a" stroke="#1a1a1a" class="r" >RPB1-K1268R /</text>
<text transform="translate(345.8,750.0) rotate(-28) scale(1,1.09)" font-size="10.3" text-anchor="end" fill="#1a1a1a" stroke="#1a1a1a" class="r" ><tspan font-style="italic">UVSSA</tspan>-KO +p97i</text>
<defs>
<radialGradient id="gY" cx="0.4" cy="0.3" r="0.75"><stop offset="0" stop-color="#fffbc0"/><stop offset="0.5" stop-color="#f4e232"/><stop offset="1" stop-color="#dcc010"/></radialGradient>
<radialGradient id="gC" cx="0.4" cy="0.3" r="0.75"><stop offset="0" stop-color="#ffe48a"/><stop offset="0.55" stop-color="#f6c22e"/><stop offset="1" stop-color="#e09a10"/></radialGradient>
<radialGradient id="gO" cx="0.4" cy="0.3" r="0.75"><stop offset="0" stop-color="#f8c27a"/><stop offset="0.55" stop-color="#e8922c"/><stop offset="1" stop-color="#c96f12"/></radialGradient>
<radialGradient id="gG" cx="0.4" cy="0.3" r="0.75"><stop offset="0" stop-color="#b5e08a"/><stop offset="0.55" stop-color="#6cbb45"/><stop offset="1" stop-color="#3f8f26"/></radialGradient>
<radialGradient id="gB" cx="0.45" cy="0.3" r="0.75"><stop offset="0" stop-color="#9fcdf0"/><stop offset="0.5" stop-color="#418dd0"/><stop offset="1" stop-color="#1a5ca4"/></radialGradient>
</defs>
<line x1="448.5" y1="592.5" x2="448.5" y2="592.5" stroke="#efebe6" stroke-width="0.6"/>
<line x1="449.1" y1="591.9" x2="448.6" y2="591.7" stroke="#efebe6" stroke-width="0.6"/>
<line x1="449.9" y1="591.3" x2="448.5" y2="590.7" stroke="#efebe6" stroke-width="0.6"/>
<line x1="451.0" y1="590.9" x2="448.1" y2="589.6" stroke="#efebe6" stroke-width="0.6"/>
<line x1="452.1" y1="590.5" x2="447.7" y2="588.5" stroke="#efebe6" stroke-width="0.6"/>
<line x1="452.6" y1="589.8" x2="447.9" y2="587.7" stroke="#efebe6" stroke-width="0.6"/>
<line x1="452.9" y1="589.0" x2="448.3" y2="586.9" stroke="#efebe6" stroke-width="0.6"/>
<line x1="453.0" y1="588.2" x2="448.8" y2="586.2" stroke="#efebe6" stroke-width="0.6"/>
<line x1="453.0" y1="587.4" x2="449.6" y2="585.6" stroke="#efebe6" stroke-width="0.6"/>
<line x1="452.9" y1="586.5" x2="450.5" y2="585.1" stroke="#efebe6" stroke-width="0.6"/>
<line x1="452.6" y1="585.5" x2="451.6" y2="584.8" stroke="#efebe6" stroke-width="0.6"/>
<line x1="452.5" y1="584.5" x2="452.6" y2="584.6" stroke="#efebe6" stroke-width="0.6"/>
<line x1="452.4" y1="583.4" x2="453.6" y2="584.6" stroke="#efebe6" stroke-width="0.6"/>
<line x1="452.4" y1="582.4" x2="454.5" y2="584.6" stroke="#efebe6" stroke-width="0.6"/>
<line x1="452.6" y1="581.5" x2="455.4" y2="584.5" stroke="#efebe6" stroke-width="0.6"/>
<line x1="453.0" y1="580.7" x2="456.0" y2="584.5" stroke="#efebe6" stroke-width="0.6"/>
<line x1="453.5" y1="580.1" x2="456.6" y2="584.3" stroke="#efebe6" stroke-width="0.6"/>
<line x1="454.2" y1="579.7" x2="457.0" y2="583.9" stroke="#efebe6" stroke-width="0.6"/>
<line x1="455.0" y1="579.5" x2="457.3" y2="583.4" stroke="#efebe6" stroke-width="0.6"/>
<line x1="455.9" y1="579.5" x2="457.6" y2="582.8" stroke="#efebe6" stroke-width="0.6"/>
<line x1="456.9" y1="579.7" x2="457.9" y2="582.0" stroke="#efebe6" stroke-width="0.6"/>
<line x1="457.8" y1="580.1" x2="458.2" y2="581.1" stroke="#efebe6" stroke-width="0.6"/>
<line x1="458.7" y1="580.5" x2="458.6" y2="580.2" stroke="#efebe6" stroke-width="0.6"/>
<line x1="459.5" y1="581.1" x2="459.1" y2="579.3" stroke="#efebe6" stroke-width="0.6"/>
<line x1="460.3" y1="581.6" x2="459.7" y2="578.4" stroke="#efebe6" stroke-width="0.6"/>
<line x1="460.9" y1="582.0" x2="460.5" y2="577.8" stroke="#efebe6" stroke-width="0.6"/>
<line x1="461.5" y1="582.3" x2="461.5" y2="577.4" stroke="#efebe6" stroke-width="0.6"/>
<line x1="462.1" y1="582.5" x2="462.4" y2="577.3" stroke="#efebe6" stroke-width="0.6"/>
<line x1="462.8" y1="582.5" x2="463.4" y2="577.5" stroke="#efebe6" stroke-width="0.6"/>
<line x1="463.6" y1="582.3" x2="464.2" y2="577.8" stroke="#efebe6" stroke-width="0.6"/>
<line x1="464.5" y1="581.9" x2="465.0" y2="578.4" stroke="#efebe6" stroke-width="0.6"/>
<line x1="465.5" y1="581.5" x2="465.8" y2="579.2" stroke="#efebe6" stroke-width="0.6"/>
<line x1="466.4" y1="580.9" x2="466.5" y2="580.0" stroke="#efebe6" stroke-width="0.6"/>
<line x1="467.4" y1="580.2" x2="467.3" y2="580.8" stroke="#efebe6" stroke-width="0.6"/>
<line x1="468.3" y1="579.5" x2="468.2" y2="581.6" stroke="#efebe6" stroke-width="0.6"/>
<line x1="469.1" y1="578.9" x2="469.2" y2="582.2" stroke="#efebe6" stroke-width="0.6"/>
<line x1="469.7" y1="578.3" x2="470.3" y2="582.7" stroke="#efebe6" stroke-width="0.6"/>
<line x1="470.5" y1="577.9" x2="471.3" y2="582.8" stroke="#efebe6" stroke-width="0.6"/>
<line x1="471.3" y1="577.7" x2="472.3" y2="582.7" stroke="#efebe6" stroke-width="0.6"/>
<line x1="472.1" y1="577.6" x2="473.3" y2="582.4" stroke="#efebe6" stroke-width="0.6"/>
<line x1="473.1" y1="577.6" x2="474.2" y2="581.9" stroke="#efebe6" stroke-width="0.6"/>
<line x1="474.1" y1="577.9" x2="475.1" y2="581.1" stroke="#efebe6" stroke-width="0.6"/>
<line x1="475.2" y1="578.2" x2="475.8" y2="580.2" stroke="#efebe6" stroke-width="0.6"/>
<line x1="476.4" y1="578.6" x2="476.6" y2="579.2" stroke="#efebe6" stroke-width="0.6"/>
<line x1="477.5" y1="579.0" x2="477.3" y2="578.2" stroke="#efebe6" stroke-width="0.6"/>
<line x1="478.6" y1="579.1" x2="478.1" y2="577.5" stroke="#efebe6" stroke-width="0.6"/>
<line x1="479.6" y1="578.8" x2="479.1" y2="577.2" stroke="#efebe6" stroke-width="0.6"/>
<line x1="480.5" y1="578.5" x2="480.0" y2="577.0" stroke="#efebe6" stroke-width="0.6"/>
<path d="M448.5,592.5 L448.6,592.2 L448.6,591.8 L448.7,591.5 L448.6,591.1 L448.5,590.7 L448.4,590.3 L448.2,589.9 L448.0,589.4 L447.8,589.0 L447.7,588.5 L447.8,588.2 L447.8,587.8 L448.0,587.5 L448.1,587.2 L448.3,586.9 L448.5,586.6 L448.7,586.3 L449.0,586.1 L449.3,585.8 L449.6,585.6 L450.0,585.4 L450.4,585.2 L450.7,585.1 L451.2,584.9 L451.6,584.8 L452.0,584.7 L452.4,584.6 L452.8,584.6 L453.2,584.6 L453.6,584.6 L454.0,584.6 L454.4,584.6 L454.7,584.6 L455.0,584.6 L455.4,584.5 L455.6,584.5 L455.9,584.5 L456.1,584.4 L456.4,584.4 L456.6,584.3 L456.7,584.1 L456.9,584.0 L457.0,583.8 L457.2,583.6 L457.3,583.4 L457.4,583.2 L457.5,582.9 L457.6,582.6 L457.7,582.3 L457.9,582.0 L458.0,581.6 L458.1,581.3 L458.2,580.9 L458.4,580.5 L458.6,580.2 L458.8,579.8 L459.0,579.4 L459.2,579.1 L459.4,578.8 L459.7,578.4 L460.0,578.2 L460.4,577.9 L460.7,577.7 L461.1,577.5 L461.5,577.4 L461.9,577.3 L462.2,577.3 L462.6,577.3 L463.0,577.4 L463.4,577.5 L463.7,577.6 L464.0,577.8 L464.4,578.0 L464.7,578.2 L465.0,578.4 L465.3,578.7 L465.6,579.0 L465.9,579.3 L466.2,579.7 L466.5,580.0 L466.8,580.3 L467.2,580.7 L467.5,581.0 L467.8,581.3 L468.2,581.6 L468.6,581.9 L469.0,582.1 L469.4,582.3 L469.8,582.5 L470.3,582.7 L470.7,582.8 L471.1,582.8 L471.5,582.8 L471.9,582.8 L472.3,582.7 L472.7,582.6 L473.1,582.5 L473.5,582.3 L473.9,582.1 L474.2,581.9 L474.6,581.6 L474.9,581.3 L475.2,580.9 L475.5,580.6 L475.8,580.2 L476.1,579.8 L476.4,579.4 L476.7,579.0 L477.0,578.6 L477.3,578.2 L477.6,577.9 L477.9,577.6 L478.3,577.4 L478.7,577.3 L479.1,577.2 L479.5,577.2 L479.9,577.0 L480.2,576.9 L480.6,576.7" fill="none" stroke="#e8e3da" stroke-width="1.0" stroke-linecap="round"/>
<path d="M448.5,592.5 L448.7,592.3 L449.0,592.0 L449.2,591.8 L449.5,591.5 L449.9,591.3 L450.3,591.2 L450.8,591.0 L451.2,590.8 L451.7,590.7 L452.1,590.5 L452.3,590.2 L452.5,589.9 L452.7,589.6 L452.8,589.3 L452.9,589.0 L453.0,588.7 L453.0,588.4 L453.1,588.1 L453.0,587.7 L453.0,587.4 L453.0,587.0 L452.9,586.7 L452.8,586.3 L452.7,585.9 L452.6,585.5 L452.6,585.1 L452.5,584.7 L452.4,584.3 L452.4,583.9 L452.4,583.4 L452.4,583.0 L452.4,582.6 L452.5,582.2 L452.5,581.9 L452.6,581.5 L452.7,581.2 L452.9,580.8 L453.1,580.6 L453.3,580.3 L453.5,580.1 L453.8,579.9 L454.0,579.7 L454.4,579.6 L454.7,579.5 L455.0,579.5 L455.4,579.4 L455.7,579.5 L456.1,579.5 L456.5,579.6 L456.9,579.7 L457.2,579.8 L457.6,580.0 L458.0,580.2 L458.3,580.3 L458.7,580.5 L459.0,580.8 L459.4,581.0 L459.7,581.2 L460.0,581.4 L460.3,581.6 L460.6,581.7 L460.8,581.9 L461.0,582.1 L461.3,582.2 L461.5,582.3 L461.7,582.4 L462.0,582.5 L462.2,582.5 L462.5,582.5 L462.8,582.5 L463.1,582.4 L463.4,582.3 L463.8,582.2 L464.1,582.1 L464.5,581.9 L464.9,581.8 L465.3,581.6 L465.6,581.3 L466.0,581.1 L466.4,580.9 L466.8,580.6 L467.2,580.3 L467.6,580.1 L467.9,579.8 L468.3,579.5 L468.6,579.3 L468.9,579.0 L469.2,578.8 L469.5,578.6 L469.7,578.3 L470.0,578.2 L470.3,578.0 L470.6,577.9 L470.9,577.7 L471.3,577.7 L471.6,577.6 L471.9,577.6 L472.3,577.6 L472.7,577.6 L473.1,577.6 L473.5,577.7 L473.9,577.8 L474.3,577.9 L474.8,578.0 L475.2,578.2 L475.7,578.3 L476.1,578.5 L476.6,578.6 L477.1,578.8 L477.5,579.0 L478.0,579.1 L478.4,579.1 L478.8,579.0 L479.2,578.9 L479.6,578.8 L479.9,578.6 L480.3,578.5 L480.7,578.4 L481.0,578.4" fill="none" stroke="#d8d0c4" stroke-width="1.0" stroke-linecap="round"/>
<path d="M472.4,608.8 L472.8,608.7 L473.1,608.6 L473.5,608.4 L473.9,608.3 L474.2,608.2 L474.6,608.0 L475.0,607.9 L475.3,607.8 L475.7,607.6 L476.0,607.5 L476.4,607.4 L476.8,607.3 L477.2,607.1 L477.5,607.0 L477.9,606.9 L478.3,606.8 L478.7,606.7 L479.1,606.6 L479.6,606.6 L480.0,606.5 L480.4,606.5 L480.9,606.4 L481.4,606.4 L481.8,606.4 L482.3,606.4 L482.8,606.4 L483.3,606.4 L483.8,606.4 L484.3,606.5 L484.9,606.5 L485.4,606.5 L485.9,606.5 L486.4,606.6 L486.9,606.6 L487.4,606.6 L488.0,606.6 L488.5,606.6 L489.0,606.6 L489.5,606.5 L490.0,606.5 L490.5,606.4 L491.1,606.4 L491.6,606.3 L492.1,606.2 L492.6,606.1 L493.2,606.0 L493.7,605.9 L494.2,605.8 L494.7,605.7 L495.3,605.6 L495.8,605.4 L496.3,605.3 L496.8,605.2 L497.4,605.1 L497.9,605.0 L498.4,604.8 L498.9,604.7 L499.5,604.6 L500.0,604.5" fill="none" stroke="#e2dcd2" stroke-width="1.6" stroke-linecap="round"/>
<path d="M527.0,585.0 L527.3,585.2 L527.5,585.3 L527.8,585.5 L528.1,585.7 L528.3,585.8 L528.6,586.0 L528.9,586.2 L529.2,586.3 L529.4,586.5 L529.7,586.7 L530.0,586.8 L530.2,587.0 L530.5,587.2 L530.8,587.3 L531.1,587.5 L531.3,587.7 L531.6,587.8 L531.9,588.0 L532.1,588.2 L532.4,588.3 L532.7,588.5 L532.9,588.7 L533.2,588.8 L533.5,589.0 L533.7,589.2 L534.0,589.3 L534.2,589.5 L534.5,589.7 L534.7,589.8 L535.0,590.0 L535.3,590.2 L535.5,590.3 L535.8,590.5 L536.0,590.7 L536.3,590.9 L536.5,591.0 L536.8,591.2 L537.0,591.4 L537.2,591.6 L537.5,591.7 L537.7,591.9 L538.0,592.1 L538.2,592.2 L538.4,592.4 L538.7,592.6 L538.9,592.8 L539.2,592.9 L539.4,593.1 L539.6,593.3 L539.9,593.4 L540.1,593.6 L540.3,593.8 L540.6,594.0 L540.8,594.1 L541.0,594.3 L541.3,594.5 L541.5,594.7 L541.8,594.8 L542.0,595.0" fill="none" stroke="#e2dcd2" stroke-width="1.4" stroke-linecap="round"/>
<line x1="541.0" y1="597.0" x2="541.0" y2="597.0" stroke="#efebe6" stroke-width="0.6"/>
<line x1="541.7" y1="597.5" x2="541.8" y2="596.9" stroke="#efebe6" stroke-width="0.6"/>
<line x1="542.2" y1="598.2" x2="542.7" y2="596.5" stroke="#efebe6" stroke-width="0.6"/>
<line x1="542.7" y1="599.2" x2="543.6" y2="595.9" stroke="#efebe6" stroke-width="0.6"/>
<line x1="543.2" y1="600.2" x2="544.5" y2="595.3" stroke="#efebe6" stroke-width="0.6"/>
<line x1="544.0" y1="600.4" x2="545.2" y2="595.4" stroke="#efebe6" stroke-width="0.6"/>
<line x1="544.8" y1="600.3" x2="545.8" y2="595.8" stroke="#efebe6" stroke-width="0.6"/>
<line x1="545.7" y1="600.0" x2="546.4" y2="596.5" stroke="#efebe6" stroke-width="0.6"/>
<line x1="546.6" y1="599.4" x2="546.9" y2="597.3" stroke="#efebe6" stroke-width="0.6"/>
<line x1="547.5" y1="598.6" x2="547.6" y2="598.3" stroke="#efebe6" stroke-width="0.6"/>
<line x1="548.4" y1="597.8" x2="548.3" y2="599.2" stroke="#efebe6" stroke-width="0.6"/>
<line x1="549.3" y1="597.1" x2="548.9" y2="600.1" stroke="#efebe6" stroke-width="0.6"/>
<line x1="550.1" y1="596.6" x2="549.6" y2="600.8" stroke="#efebe6" stroke-width="0.6"/>
<line x1="550.9" y1="596.3" x2="550.5" y2="601.3" stroke="#efebe6" stroke-width="0.6"/>
<line x1="551.6" y1="596.2" x2="551.4" y2="601.4" stroke="#efebe6" stroke-width="0.6"/>
<line x1="552.3" y1="596.5" x2="552.4" y2="601.2" stroke="#efebe6" stroke-width="0.6"/>
<line x1="553.0" y1="596.9" x2="553.3" y2="600.7" stroke="#efebe6" stroke-width="0.6"/>
<line x1="553.8" y1="597.5" x2="554.2" y2="599.8" stroke="#efebe6" stroke-width="0.6"/>
<line x1="554.8" y1="598.1" x2="555.0" y2="598.8" stroke="#efebe6" stroke-width="0.6"/>
<line x1="556.0" y1="598.6" x2="555.6" y2="597.6" stroke="#efebe6" stroke-width="0.6"/>
<line x1="557.5" y1="598.8" x2="556.1" y2="596.4" stroke="#efebe6" stroke-width="0.6"/>
<line x1="558.9" y1="598.6" x2="556.6" y2="595.3" stroke="#efebe6" stroke-width="0.6"/>
<line x1="560.3" y1="598.1" x2="557.2" y2="594.3" stroke="#efebe6" stroke-width="0.6"/>
<line x1="561.4" y1="597.4" x2="558.1" y2="593.4" stroke="#efebe6" stroke-width="0.6"/>
<line x1="562.4" y1="596.3" x2="559.2" y2="592.6" stroke="#efebe6" stroke-width="0.6"/>
<line x1="563.2" y1="595.0" x2="560.5" y2="592.0" stroke="#efebe6" stroke-width="0.6"/>
<line x1="563.8" y1="593.6" x2="562.1" y2="591.6" stroke="#efebe6" stroke-width="0.6"/>
<line x1="564.4" y1="592.0" x2="563.7" y2="591.2" stroke="#efebe6" stroke-width="0.6"/>
<line x1="564.9" y1="590.4" x2="565.4" y2="591.0" stroke="#efebe6" stroke-width="0.6"/>
<line x1="565.5" y1="588.9" x2="567.0" y2="590.8" stroke="#efebe6" stroke-width="0.6"/>
<line x1="566.2" y1="587.4" x2="568.5" y2="590.5" stroke="#efebe6" stroke-width="0.6"/>
<line x1="567.1" y1="586.2" x2="569.9" y2="590.0" stroke="#efebe6" stroke-width="0.6"/>
<line x1="568.2" y1="585.1" x2="571.2" y2="589.3" stroke="#efebe6" stroke-width="0.6"/>
<line x1="569.4" y1="584.3" x2="572.4" y2="588.4" stroke="#efebe6" stroke-width="0.6"/>
<line x1="570.9" y1="583.8" x2="573.3" y2="587.2" stroke="#efebe6" stroke-width="0.6"/>
<line x1="572.4" y1="583.4" x2="574.1" y2="585.8" stroke="#efebe6" stroke-width="0.6"/>
<line x1="574.0" y1="583.2" x2="574.8" y2="584.3" stroke="#efebe6" stroke-width="0.6"/>
<line x1="575.7" y1="583.2" x2="575.4" y2="582.8" stroke="#efebe6" stroke-width="0.6"/>
<line x1="577.2" y1="583.2" x2="576.0" y2="581.4" stroke="#efebe6" stroke-width="0.6"/>
<line x1="578.6" y1="583.1" x2="576.6" y2="580.1" stroke="#efebe6" stroke-width="0.6"/>
<line x1="579.8" y1="582.9" x2="577.3" y2="579.0" stroke="#efebe6" stroke-width="0.6"/>
<line x1="580.8" y1="582.6" x2="578.0" y2="578.2" stroke="#efebe6" stroke-width="0.6"/>
<line x1="581.6" y1="582.0" x2="578.9" y2="577.7" stroke="#efebe6" stroke-width="0.6"/>
<line x1="582.3" y1="581.2" x2="580.0" y2="577.5" stroke="#efebe6" stroke-width="0.6"/>
<line x1="582.7" y1="580.3" x2="581.1" y2="577.5" stroke="#efebe6" stroke-width="0.6"/>
<line x1="583.0" y1="578.9" x2="582.4" y2="577.9" stroke="#efebe6" stroke-width="0.6"/>
<line x1="583.5" y1="577.9" x2="583.5" y2="577.9" stroke="#efebe6" stroke-width="0.6"/>
<line x1="584.2" y1="577.1" x2="584.5" y2="577.7" stroke="#efebe6" stroke-width="0.6"/>
<path d="M541.0,597.0 L541.3,596.9 L541.6,596.9 L542.0,596.8 L542.3,596.7 L542.7,596.5 L543.0,596.3 L543.4,596.0 L543.8,595.7 L544.2,595.4 L544.5,595.3 L544.8,595.3 L545.1,595.4 L545.3,595.5 L545.6,595.6 L545.8,595.8 L546.0,596.1 L546.3,596.3 L546.5,596.7 L546.7,597.0 L546.9,597.3 L547.2,597.7 L547.4,598.1 L547.7,598.5 L548.0,598.9 L548.3,599.2 L548.5,599.6 L548.8,599.9 L549.1,600.3 L549.3,600.5 L549.6,600.8 L550.0,601.0 L550.3,601.2 L550.6,601.3 L551.0,601.4 L551.4,601.4 L551.8,601.4 L552.1,601.3 L552.6,601.1 L552.9,600.9 L553.3,600.7 L553.7,600.4 L554.1,600.0 L554.4,599.6 L554.7,599.2 L555.0,598.8 L555.3,598.3 L555.5,597.8 L555.7,597.4 L555.9,596.9 L556.1,596.4 L556.3,596.0 L556.5,595.5 L556.7,595.1 L556.9,594.7 L557.2,594.3 L557.5,593.9 L557.9,593.6 L558.3,593.2 L558.7,592.9 L559.2,592.6 L559.7,592.4 L560.3,592.1 L560.8,591.9 L561.4,591.7 L562.1,591.6 L562.7,591.4 L563.4,591.3 L564.0,591.2 L564.7,591.1 L565.4,591.0 L566.0,590.9 L566.6,590.8 L567.3,590.8 L567.9,590.6 L568.5,590.5 L569.1,590.3 L569.7,590.1 L570.2,589.9 L570.7,589.6 L571.2,589.3 L571.7,589.0 L572.2,588.6 L572.6,588.1 L573.0,587.7 L573.3,587.2 L573.7,586.6 L574.0,586.1 L574.3,585.5 L574.6,584.9 L574.8,584.3 L575.1,583.7 L575.3,583.1 L575.5,582.5 L575.8,582.0 L576.0,581.4 L576.2,580.9 L576.5,580.4 L576.7,579.9 L577.0,579.4 L577.3,579.0 L577.6,578.7 L577.9,578.4 L578.2,578.1 L578.6,577.9 L578.9,577.7 L579.3,577.6 L579.7,577.5 L580.2,577.5 L580.6,577.5 L581.1,577.5 L581.6,577.7 L582.1,577.8 L582.6,577.9 L583.1,577.9 L583.5,577.9 L583.9,577.8 L584.3,577.7 L584.7,577.6 L585.1,577.5" fill="none" stroke="#e8e3da" stroke-width="1.0" stroke-linecap="round"/>
<path d="M541.0,597.0 L541.3,597.2 L541.5,597.4 L541.8,597.6 L542.0,597.8 L542.2,598.2 L542.4,598.6 L542.6,599.0 L542.8,599.4 L543.0,599.9 L543.2,600.2 L543.5,600.3 L543.8,600.4 L544.1,600.4 L544.4,600.4 L544.8,600.3 L545.1,600.2 L545.5,600.1 L545.9,599.9 L546.3,599.6 L546.6,599.4 L547.0,599.1 L547.3,598.8 L547.7,598.5 L548.0,598.1 L548.4,597.8 L548.7,597.5 L549.1,597.2 L549.4,597.0 L549.8,596.8 L550.1,596.6 L550.4,596.4 L550.8,596.3 L551.1,596.3 L551.3,596.2 L551.6,596.2 L551.9,596.3 L552.1,596.4 L552.4,596.5 L552.7,596.7 L553.0,596.9 L553.3,597.1 L553.6,597.4 L554.0,597.6 L554.4,597.9 L554.8,598.1 L555.3,598.3 L555.8,598.5 L556.3,598.6 L556.9,598.7 L557.5,598.8 L558.0,598.8 L558.6,598.7 L559.2,598.6 L559.7,598.4 L560.3,598.1 L560.8,597.9 L561.2,597.5 L561.7,597.2 L562.1,596.8 L562.4,596.3 L562.8,595.8 L563.1,595.3 L563.3,594.7 L563.6,594.2 L563.8,593.6 L564.1,592.9 L564.3,592.3 L564.5,591.7 L564.7,591.0 L564.9,590.4 L565.1,589.8 L565.4,589.2 L565.6,588.6 L565.9,588.0 L566.2,587.4 L566.5,586.9 L566.9,586.4 L567.3,586.0 L567.7,585.5 L568.2,585.1 L568.6,584.8 L569.2,584.5 L569.7,584.2 L570.3,584.0 L570.9,583.8 L571.5,583.6 L572.1,583.5 L572.7,583.4 L573.4,583.3 L574.0,583.2 L574.7,583.2 L575.3,583.2 L576.0,583.2 L576.6,583.2 L577.2,583.2 L577.8,583.1 L578.3,583.1 L578.9,583.1 L579.3,583.0 L579.8,582.9 L580.2,582.8 L580.6,582.7 L581.0,582.5 L581.3,582.3 L581.6,582.0 L581.9,581.7 L582.1,581.4 L582.4,581.1 L582.6,580.7 L582.7,580.3 L582.8,579.7 L583.0,579.2 L583.1,578.7 L583.3,578.3 L583.5,577.9 L583.8,577.6 L584.0,577.3 L584.3,577.0 L584.6,576.7" fill="none" stroke="#d8d0c4" stroke-width="1.0" stroke-linecap="round"/>
<ellipse cx="520.6" cy="601.7" rx="22.2" ry="9.9" fill="url(#gB)"/>
<text x="520.6" y="604.9" font-size="9.0" text-anchor="middle" fill="#2a2a2a">Pol II</text>
<ellipse cx="494.9" cy="591.9" rx="12.0" ry="9.0" fill="url(#gG)"/>
<text x="494.9" y="595.1" font-size="8.8" text-anchor="middle" fill="#2a2a2a">CSB</text>
<ellipse cx="516.4" cy="585.4" rx="12.3" ry="9.1" fill="url(#gO)"/>
<text x="516.4" y="588.6" font-size="9.0" text-anchor="middle" fill="#2a2a2a">CSA</text>
<ellipse cx="516.4" cy="566.7" rx="14.6" ry="10.5" fill="url(#gC)"/>
<text x="516.4" y="569.9" font-size="8.8" text-anchor="middle" fill="#2a2a2a">CRL4</text>
<ellipse cx="487.3" cy="578.3" rx="6.8" ry="6.6" fill="url(#gY)"/>
<text x="487.3" y="581.4" font-size="8.6" text-anchor="middle" fill="#2a2a2a">Ub</text>
<ellipse cx="480.8" cy="568.2" rx="6.7" ry="6.5" fill="url(#gY)"/>
<text x="480.8" y="571.3" font-size="8.6" text-anchor="middle" fill="#2a2a2a">Ub</text>
<circle cx="541" cy="597.8" r="2.1" fill="#e3262d"/>
<line x1="555.7" y1="609.2" x2="545.5" y2="601.3" stroke="#e3262d" stroke-width="1"/>
<path d="M543.6,599.8 L548.6,601.2 L546.3,604.0 Z" fill="#e3262d"/>
<text transform="translate(541.3,617.6) scale(1,1.09)" font-size="9.6" text-anchor="start" fill="#e3262d" stroke="#e3262d" class="r" >RPB1-K1268R</text>
<polygon points="515.9,624.2 524.1,624.2 524.1,641.0 530.4,635.4 530.4,643.9 520.1,653.8 509.9,643.9 509.9,635.4 515.9,641.0" fill="#c8c9c8"/>
<polygon points="424.3,651.8 424.3,636.7 430.5,630.8 430.5,639.0 449.9,619.9 456.0,626.2 437.1,645.2 445.0,645.2 438.7,651.8" fill="#c8c9c8"/>
<polygon points="612.9,648.8 612.9,634.3 606.9,628.8 606.9,636.3 593.1,623.2 586.9,629.4 600.0,642.9 592.5,642.9 598.1,648.8" fill="#c8c9c8"/>
<path d="M377.3,687.0 L377.7,686.6 L378.0,686.2 L378.4,685.9 L378.7,685.4 L379.0,684.9 L379.3,684.5 L379.7,684.2 L380.2,684.1 L380.8,684.2 L381.5,684.5 L382.2,684.9 L382.8,685.3 L383.5,685.8 L384.0,686.1 L384.5,686.3 L384.9,686.3 L385.3,686.2 L385.7,685.9 L386.1,685.5 L386.6,684.9 L387.2,684.3 L387.8,683.6 L388.4,683.0 L389.1,682.5 L389.8,682.2 L390.4,682.0 L391.1,682.0 L391.7,682.2 L392.3,682.6 L392.8,683.1 L393.4,683.8 L393.8,684.6 L394.3,685.3 L394.8,686.1 L395.2,686.7 L395.7,687.2 L396.1,687.6 L396.7,687.8 L397.2,687.8 L397.9,687.6 L398.6,687.4 L399.4,687.0 L400.1,686.6 L400.9,686.1 L401.7,685.7 L402.4,685.5 L403.1,685.3 L403.7,685.6 L404.1,686.4 L404.5,687.3 L404.9,688.2 L405.4,689.2 L405.9,690.1 L406.5,690.9 L407.0,691.6 L407.7,692.2 L408.3,692.7 L409.0,693.0 L409.7,693.3 L410.5,693.6 L411.2,693.8 L411.9,694.0 L412.6,694.2 L413.3,694.4 L414.1,694.5 L414.8,694.6 L415.5,694.7 L416.2,694.7 L416.8,694.7 L417.5,694.6 L418.2,694.5 L418.9,694.4 L419.6,694.3 L420.3,694.3 L421.1,694.3 L421.7,694.4 L422.4,694.6 L423.1,694.8 L423.8,694.9 L424.5,695.0 L425.2,695.0 L426.0,694.8 L426.7,694.3 L427.4,693.9 L428.0,693.3 L428.6,692.6 L429.1,691.9 L429.5,691.2 L430.0,690.6 L430.4,690.2 L430.8,689.9 L431.2,689.8 L431.7,689.8 L432.2,690.0 L432.9,690.4 L433.5,690.8 L434.3,691.2 L435.1,691.6 L435.8,691.9 L436.6,692.1 L437.3,692.2 L438.0,692.1 L438.6,691.7 L439.2,691.2 L439.7,690.5 L440.1,689.7 L440.4,688.7 L440.7,687.8 L441.1,686.8 L441.5,686.0 L442.0,685.4 L442.7,685.0 L443.5,684.7 L444.3,684.5 L445.2,684.3 L445.9,684.1 L446.7,683.8 L447.5,683.6" fill="none" stroke="#86826f" stroke-width="1.4" stroke-linecap="round"/>
<path d="M377.3,687.0 L377.8,687.0 L378.4,687.0 L378.9,687.0 L379.5,687.0 L380.0,687.1 L380.6,687.1 L381.0,686.9 L381.4,686.6 L381.7,686.1 L381.9,685.4 L382.1,684.6 L382.3,683.8 L382.6,683.1 L383.0,682.5 L383.5,682.1 L384.1,681.8 L384.7,681.8 L385.4,682.0 L386.0,682.4 L386.6,682.9 L387.2,683.6 L387.8,684.2 L388.3,684.9 L388.8,685.5 L389.3,686.0 L389.9,686.4 L390.4,686.5 L391.0,686.5 L391.7,686.3 L392.3,686.0 L393.0,685.5 L393.8,685.0 L394.5,684.4 L395.2,683.9 L395.9,683.5 L396.7,683.3 L397.3,683.2 L398.0,683.4 L398.5,683.7 L399.0,684.2 L399.4,684.9 L399.8,685.6 L400.2,686.4 L400.5,687.3 L400.9,688.0 L401.4,688.7 L401.9,689.3 L402.5,689.3 L403.3,689.0 L404.2,688.5 L405.0,687.9 L405.9,687.3 L406.7,686.8 L407.5,686.3 L408.3,685.9 L409.1,685.7 L409.8,685.6 L410.6,685.5 L411.3,685.6 L412.1,685.6 L412.8,685.7 L413.5,685.8 L414.2,685.9 L415.0,686.0 L415.7,686.2 L416.4,686.3 L417.1,686.5 L417.7,686.8 L418.4,687.1 L419.1,687.4 L419.8,687.8 L420.4,688.2 L421.0,688.6 L421.6,688.9 L422.3,689.2 L422.9,689.3 L423.6,689.4 L424.2,689.5 L424.8,689.5 L425.4,689.6 L425.9,689.8 L426.4,690.1 L426.9,690.6 L427.4,691.1 L428.0,691.7 L428.6,692.4 L429.2,693.0 L429.8,693.5 L430.5,694.0 L431.1,694.2 L431.7,694.3 L432.3,694.2 L432.8,693.9 L433.3,693.4 L433.7,692.7 L434.0,692.0 L434.3,691.1 L434.5,690.3 L434.8,689.5 L435.2,688.9 L435.6,688.3 L436.0,687.9 L436.6,687.7 L437.3,687.6 L438.1,687.6 L439.0,687.7 L439.9,687.9 L440.9,688.1 L441.9,688.2 L442.8,688.2 L443.6,687.9 L444.3,687.5 L444.9,686.9 L445.4,686.3 L445.9,685.6 L446.5,685.0 L447.1,684.4 L447.6,683.8" fill="none" stroke="#a8844e" stroke-width="1.4" stroke-linecap="round"/>
<line x1="378.20" y1="711.30" x2="403.80" y2="711.30" stroke="#4a4242" stroke-width="1.0" />
<path d="M392.3,707.6 L397.0,715.1 M397.0,707.6 L392.3,715.1" stroke="#e3141e" stroke-width="1.8" stroke-linecap="round"/>
<ellipse cx="420.3" cy="727.0" rx="22.3" ry="10.1" fill="url(#gB)"/>
<text x="420.3" y="730.2" font-size="9.0" text-anchor="middle" fill="#2a2a2a">Pol II</text>
<text transform="translate(415.6,763.8) scale(1,1.09)" font-size="10" text-anchor="middle" fill="#333" stroke="#333" class="r" >Low-efficiency TCR</text>
<text transform="translate(415.5,775.7) scale(1,1.09)" font-size="10" text-anchor="middle" fill="#333" stroke="#333" class="r" >With Pol II removal</text>
<path d="M477.3,676.5 L477.6,676.1 L478.0,675.7 L478.3,675.3 L478.6,674.8 L478.9,674.3 L479.2,673.9 L479.6,673.5 L480.1,673.4 L480.7,673.4 L481.4,673.7 L482.2,674.1 L482.9,674.5 L483.5,674.8 L484.1,675.1 L484.6,675.3 L485.0,675.3 L485.4,675.2 L485.8,674.9 L486.2,674.4 L486.7,673.8 L487.2,673.2 L487.8,672.5 L488.4,671.8 L489.0,671.3 L489.7,670.9 L490.3,670.7 L491.0,670.6 L491.6,670.8 L492.2,671.2 L492.8,671.7 L493.3,672.4 L493.8,673.1 L494.3,673.8 L494.8,674.6 L495.3,675.2 L495.7,675.7 L496.2,676.1 L496.7,676.2 L497.3,676.3 L497.9,676.1 L498.6,675.8 L499.4,675.5 L500.1,675.0 L500.9,674.6 L501.7,674.2 L502.5,673.9 L503.2,673.8 L503.7,674.1 L504.1,674.8 L504.5,675.7 L505.0,676.6 L505.4,677.6 L505.9,678.5 L506.4,679.3 L507.0,680.0 L507.6,680.6 L508.3,681.1 L508.9,681.5 L509.6,681.8 L510.3,682.0 L511.1,682.2 L511.8,682.4 L512.5,682.6 L513.2,682.8 L514.0,683.0 L514.7,683.2 L515.5,683.3 L516.2,683.4 L516.9,683.4 L517.7,683.4 L518.5,683.4 L519.3,683.3 L520.1,683.3 L520.9,683.3 L521.8,683.4 L522.6,683.5 L523.4,683.6 L524.3,683.8 L525.1,683.9 L525.9,684.0 L526.8,683.9 L527.7,683.7 L528.5,683.3 L529.3,682.7 L530.0,681.9 L530.7,681.1 L531.3,680.4 L531.8,679.7 L532.3,679.1 L532.8,678.6 L533.3,678.3 L533.8,678.1 L534.3,678.1 L535.0,678.3 L535.7,678.6 L536.4,679.0 L537.2,679.4 L538.1,679.7 L538.9,680.0 L539.7,680.2 L540.4,680.2 L541.1,680.0 L541.7,679.6 L542.2,679.1 L542.6,678.3 L542.9,677.5 L543.1,676.6 L543.3,675.6 L543.4,674.7 L543.7,673.9 L544.1,673.3 L544.6,672.8 L545.2,672.5 L546.0,672.2 L546.7,672.0 L547.4,671.7 L548.1,671.4 L548.8,671.1" fill="none" stroke="#86826f" stroke-width="1.4" stroke-linecap="round"/>
<path d="M477.3,676.5 L477.9,676.5 L478.4,676.5 L478.9,676.4 L479.5,676.4 L480.1,676.4 L480.6,676.3 L481.1,676.2 L481.5,675.8 L481.7,675.3 L481.9,674.6 L482.0,673.8 L482.3,673.0 L482.5,672.2 L482.9,671.6 L483.4,671.1 L484.0,670.9 L484.6,670.8 L485.3,671.0 L485.9,671.3 L486.6,671.8 L487.2,672.4 L487.8,673.1 L488.3,673.7 L488.9,674.3 L489.4,674.8 L490.0,675.1 L490.6,675.2 L491.1,675.2 L491.8,674.9 L492.4,674.6 L493.1,674.1 L493.8,673.5 L494.5,673.0 L495.2,672.4 L495.9,672.0 L496.6,671.8 L497.3,671.7 L497.9,671.8 L498.5,672.2 L499.0,672.7 L499.4,673.3 L499.8,674.1 L500.2,674.9 L500.5,675.7 L500.9,676.5 L501.4,677.2 L501.9,677.8 L502.5,677.8 L503.3,677.5 L504.2,677.0 L505.0,676.4 L505.9,675.8 L506.7,675.2 L507.5,674.7 L508.3,674.2 L509.1,674.0 L509.8,673.8 L510.6,673.7 L511.3,673.7 L512.0,673.8 L512.7,673.9 L513.4,673.9 L514.2,674.0 L514.9,674.1 L515.6,674.2 L516.3,674.3 L517.1,674.4 L517.8,674.6 L518.6,674.9 L519.3,675.2 L520.1,675.5 L520.8,675.9 L521.6,676.2 L522.3,676.6 L523.1,676.8 L523.9,677.1 L524.6,677.2 L525.4,677.4 L526.1,677.5 L526.8,677.6 L527.5,677.8 L528.1,678.2 L528.7,678.7 L529.3,679.3 L530.0,680.1 L530.7,680.8 L531.4,681.4 L532.1,682.0 L532.9,682.4 L533.6,682.6 L534.3,682.7 L535.0,682.5 L535.6,682.2 L536.1,681.6 L536.5,680.9 L536.9,680.1 L537.2,679.3 L537.5,678.5 L537.8,677.7 L538.1,677.0 L538.5,676.4 L538.9,676.0 L539.4,675.7 L540.1,675.6 L540.8,675.6 L541.6,675.7 L542.5,675.8 L543.5,675.9 L544.4,676.0 L545.3,675.8 L546.0,675.5 L546.5,675.1 L547.0,674.5 L547.3,673.8 L547.7,673.1 L548.1,672.5 L548.5,671.9 L548.9,671.3" fill="none" stroke="#a8844e" stroke-width="1.4" stroke-linecap="round"/>
<path d="M514.3,682.0 L516.6,686.4 M516.6,682.0 L514.3,686.4" stroke="#e3141e" stroke-width="1.1"/>
<ellipse cx="487.5" cy="719.7" rx="12.8" ry="20.4" fill="url(#gO)"/>
<text x="487.5" y="723.1" font-size="9.4" text-anchor="middle" fill="#2a2a2a">p97</text>
<ellipse cx="538.6" cy="738.5" rx="22.2" ry="10.0" fill="url(#gB)"/>
<text x="538.6" y="741.7" font-size="9.0" text-anchor="middle" fill="#2a2a2a">Pol II</text>
<ellipse cx="516.6" cy="728.6" rx="12.1" ry="9.0" fill="url(#gG)"/>
<text x="516.6" y="731.8" font-size="8.8" text-anchor="middle" fill="#2a2a2a">CSB</text>
<ellipse cx="538.3" cy="722.4" rx="12.1" ry="9.4" fill="url(#gO)"/>
<text x="538.3" y="725.6" font-size="9.0" text-anchor="middle" fill="#2a2a2a">CSA</text>
<ellipse cx="538.3" cy="703.8" rx="14.3" ry="10.2" fill="url(#gC)"/>
<text x="538.3" y="707.0" font-size="8.8" text-anchor="middle" fill="#2a2a2a">CRL4</text>
<ellipse cx="509.2" cy="715.2" rx="6.8" ry="6.6" fill="url(#gY)"/>
<text x="509.2" y="718.3" font-size="8.6" text-anchor="middle" fill="#2a2a2a">Ub</text>
<ellipse cx="502.7" cy="705.0" rx="6.8" ry="6.6" fill="url(#gY)"/>
<text x="502.7" y="708.1" font-size="8.6" text-anchor="middle" fill="#2a2a2a">Ub</text>
<text transform="translate(520.4,763.8) scale(1,1.09)" font-size="10" text-anchor="middle" fill="#333" stroke="#333" class="r" >Deficient TCR</text>
<text transform="translate(520.0,775.7) scale(1,1.09)" font-size="10" text-anchor="middle" fill="#333" stroke="#333" class="r" >With Pol II removal</text>
<line x1="581.5" y1="703.5" x2="581.5" y2="703.5" stroke="#efebe6" stroke-width="0.6"/>
<line x1="581.9" y1="703.6" x2="581.9" y2="703.3" stroke="#efebe6" stroke-width="0.6"/>
<line x1="582.4" y1="703.9" x2="582.2" y2="702.9" stroke="#efebe6" stroke-width="0.6"/>
<line x1="582.9" y1="704.4" x2="582.5" y2="702.2" stroke="#efebe6" stroke-width="0.6"/>
<line x1="583.4" y1="705.0" x2="582.8" y2="701.5" stroke="#efebe6" stroke-width="0.6"/>
<line x1="583.8" y1="705.2" x2="583.2" y2="701.1" stroke="#efebe6" stroke-width="0.6"/>
<line x1="584.3" y1="705.4" x2="583.6" y2="700.9" stroke="#efebe6" stroke-width="0.6"/>
<line x1="584.7" y1="705.4" x2="583.9" y2="700.7" stroke="#efebe6" stroke-width="0.6"/>
<line x1="585.1" y1="705.4" x2="584.4" y2="700.6" stroke="#efebe6" stroke-width="0.6"/>
<line x1="585.5" y1="705.2" x2="584.8" y2="700.7" stroke="#efebe6" stroke-width="0.6"/>
<line x1="585.8" y1="704.9" x2="585.2" y2="700.8" stroke="#efebe6" stroke-width="0.6"/>
<line x1="586.2" y1="704.6" x2="585.7" y2="701.1" stroke="#efebe6" stroke-width="0.6"/>
<line x1="586.5" y1="704.1" x2="586.1" y2="701.4" stroke="#efebe6" stroke-width="0.6"/>
<line x1="586.9" y1="703.6" x2="586.6" y2="701.7" stroke="#efebe6" stroke-width="0.6"/>
<line x1="587.2" y1="703.1" x2="587.1" y2="702.2" stroke="#efebe6" stroke-width="0.6"/>
<line x1="587.6" y1="702.5" x2="587.6" y2="702.6" stroke="#efebe6" stroke-width="0.6"/>
<line x1="587.9" y1="702.0" x2="588.1" y2="703.0" stroke="#efebe6" stroke-width="0.6"/>
<line x1="588.3" y1="701.4" x2="588.6" y2="703.4" stroke="#efebe6" stroke-width="0.6"/>
<line x1="588.6" y1="700.9" x2="589.1" y2="703.8" stroke="#efebe6" stroke-width="0.6"/>
<line x1="589.0" y1="700.5" x2="589.6" y2="704.1" stroke="#efebe6" stroke-width="0.6"/>
<line x1="589.4" y1="700.2" x2="590.0" y2="704.3" stroke="#efebe6" stroke-width="0.6"/>
<line x1="589.8" y1="699.9" x2="590.5" y2="704.4" stroke="#efebe6" stroke-width="0.6"/>
<line x1="590.2" y1="699.7" x2="591.0" y2="704.5" stroke="#efebe6" stroke-width="0.6"/>
<line x1="590.7" y1="699.7" x2="591.4" y2="704.4" stroke="#efebe6" stroke-width="0.6"/>
<line x1="591.1" y1="699.7" x2="591.8" y2="704.2" stroke="#efebe6" stroke-width="0.6"/>
<line x1="591.6" y1="699.9" x2="592.2" y2="703.9" stroke="#efebe6" stroke-width="0.6"/>
<line x1="592.1" y1="700.1" x2="592.6" y2="703.6" stroke="#efebe6" stroke-width="0.6"/>
<line x1="592.6" y1="700.4" x2="593.0" y2="703.1" stroke="#efebe6" stroke-width="0.6"/>
<line x1="593.1" y1="700.8" x2="593.4" y2="702.6" stroke="#efebe6" stroke-width="0.6"/>
<line x1="593.6" y1="701.2" x2="593.7" y2="702.1" stroke="#efebe6" stroke-width="0.6"/>
<line x1="594.1" y1="701.7" x2="594.1" y2="701.5" stroke="#efebe6" stroke-width="0.6"/>
<line x1="594.6" y1="702.1" x2="594.5" y2="701.0" stroke="#efebe6" stroke-width="0.6"/>
<line x1="595.1" y1="702.5" x2="594.9" y2="700.5" stroke="#efebe6" stroke-width="0.6"/>
<line x1="595.6" y1="702.9" x2="595.3" y2="700.0" stroke="#efebe6" stroke-width="0.6"/>
<line x1="596.1" y1="703.2" x2="595.7" y2="699.6" stroke="#efebe6" stroke-width="0.6"/>
<line x1="596.5" y1="703.5" x2="596.2" y2="699.3" stroke="#efebe6" stroke-width="0.6"/>
<line x1="597.0" y1="703.6" x2="596.6" y2="699.0" stroke="#efebe6" stroke-width="0.6"/>
<line x1="597.4" y1="703.7" x2="597.0" y2="698.9" stroke="#efebe6" stroke-width="0.6"/>
<line x1="597.8" y1="703.6" x2="597.5" y2="698.9" stroke="#efebe6" stroke-width="0.6"/>
<line x1="598.2" y1="703.5" x2="598.0" y2="699.0" stroke="#efebe6" stroke-width="0.6"/>
<line x1="598.7" y1="703.2" x2="598.4" y2="699.2" stroke="#efebe6" stroke-width="0.6"/>
<line x1="599.1" y1="702.9" x2="598.9" y2="699.5" stroke="#efebe6" stroke-width="0.6"/>
<line x1="599.5" y1="702.5" x2="599.4" y2="699.8" stroke="#efebe6" stroke-width="0.6"/>
<line x1="599.9" y1="702.0" x2="599.8" y2="700.2" stroke="#efebe6" stroke-width="0.6"/>
<line x1="600.3" y1="701.5" x2="600.3" y2="700.7" stroke="#efebe6" stroke-width="0.6"/>
<line x1="600.8" y1="701.0" x2="600.8" y2="701.2" stroke="#efebe6" stroke-width="0.6"/>
<line x1="601.2" y1="700.8" x2="601.2" y2="701.3" stroke="#efebe6" stroke-width="0.6"/>
<line x1="601.6" y1="700.7" x2="601.7" y2="701.4" stroke="#efebe6" stroke-width="0.6"/>
<path d="M581.5,703.5 L581.7,703.4 L581.8,703.3 L582.0,703.2 L582.1,703.1 L582.2,702.9 L582.4,702.6 L582.5,702.4 L582.6,702.1 L582.7,701.7 L582.8,701.5 L583.0,701.3 L583.1,701.2 L583.3,701.1 L583.4,701.0 L583.6,700.9 L583.7,700.8 L583.9,700.7 L584.0,700.7 L584.2,700.7 L584.4,700.6 L584.5,700.6 L584.7,700.7 L584.9,700.7 L585.0,700.8 L585.2,700.8 L585.4,700.9 L585.6,701.0 L585.8,701.1 L585.9,701.2 L586.1,701.4 L586.3,701.5 L586.5,701.7 L586.7,701.8 L586.9,702.0 L587.1,702.2 L587.3,702.3 L587.5,702.5 L587.7,702.7 L587.9,702.9 L588.1,703.0 L588.3,703.2 L588.5,703.4 L588.7,703.5 L588.9,703.7 L589.1,703.8 L589.3,703.9 L589.5,704.0 L589.7,704.1 L589.8,704.2 L590.0,704.3 L590.2,704.4 L590.4,704.4 L590.6,704.5 L590.8,704.5 L591.0,704.5 L591.1,704.4 L591.3,704.4 L591.5,704.4 L591.6,704.3 L591.8,704.2 L592.0,704.1 L592.1,704.0 L592.3,703.9 L592.4,703.7 L592.6,703.6 L592.8,703.4 L592.9,703.2 L593.1,703.0 L593.2,702.8 L593.4,702.6 L593.5,702.4 L593.7,702.2 L593.8,702.0 L594.0,701.8 L594.1,701.5 L594.3,701.3 L594.4,701.1 L594.6,700.9 L594.7,700.7 L594.9,700.5 L595.1,700.3 L595.2,700.1 L595.4,699.9 L595.6,699.7 L595.7,699.6 L595.9,699.4 L596.1,699.3 L596.2,699.2 L596.4,699.1 L596.6,699.0 L596.8,699.0 L597.0,698.9 L597.1,698.9 L597.3,698.9 L597.5,698.9 L597.7,698.9 L597.9,699.0 L598.0,699.0 L598.2,699.1 L598.4,699.2 L598.6,699.3 L598.8,699.4 L599.0,699.5 L599.2,699.7 L599.4,699.8 L599.5,700.0 L599.7,700.2 L599.9,700.3 L600.1,700.5 L600.3,700.7 L600.5,700.9 L600.7,701.1 L600.9,701.2 L601.0,701.3 L601.2,701.3 L601.4,701.3 L601.6,701.4 L601.8,701.4 L601.9,701.5" fill="none" stroke="#e8e3da" stroke-width="1.0" stroke-linecap="round"/>
<path d="M581.5,703.5 L581.7,703.5 L581.8,703.6 L582.0,703.6 L582.2,703.7 L582.4,703.9 L582.6,704.1 L582.8,704.3 L583.0,704.5 L583.2,704.8 L583.4,705.0 L583.6,705.1 L583.7,705.2 L583.9,705.3 L584.1,705.3 L584.3,705.4 L584.4,705.4 L584.6,705.4 L584.8,705.4 L584.9,705.4 L585.1,705.4 L585.2,705.3 L585.4,705.2 L585.5,705.1 L585.7,705.0 L585.8,704.9 L586.0,704.8 L586.1,704.6 L586.3,704.5 L586.4,704.3 L586.5,704.1 L586.7,703.9 L586.8,703.7 L587.0,703.5 L587.1,703.3 L587.2,703.1 L587.4,702.9 L587.5,702.6 L587.6,702.4 L587.8,702.2 L587.9,702.0 L588.1,701.8 L588.2,701.5 L588.3,701.3 L588.5,701.1 L588.6,700.9 L588.8,700.8 L588.9,700.6 L589.1,700.4 L589.2,700.3 L589.4,700.2 L589.6,700.0 L589.7,699.9 L589.9,699.9 L590.1,699.8 L590.2,699.7 L590.4,699.7 L590.6,699.7 L590.8,699.7 L590.9,699.7 L591.1,699.7 L591.3,699.8 L591.5,699.8 L591.7,699.9 L591.9,700.0 L592.1,700.1 L592.3,700.2 L592.5,700.4 L592.7,700.5 L592.9,700.6 L593.1,700.8 L593.3,701.0 L593.5,701.1 L593.7,701.3 L593.9,701.5 L594.1,701.7 L594.3,701.8 L594.5,702.0 L594.7,702.2 L594.9,702.4 L595.1,702.5 L595.3,702.7 L595.5,702.8 L595.7,703.0 L595.9,703.1 L596.1,703.2 L596.2,703.3 L596.4,703.4 L596.6,703.5 L596.8,703.6 L597.0,703.6 L597.1,703.7 L597.3,703.7 L597.5,703.7 L597.6,703.7 L597.8,703.6 L598.0,703.6 L598.2,703.5 L598.3,703.5 L598.5,703.4 L598.7,703.2 L598.8,703.1 L599.0,703.0 L599.2,702.8 L599.3,702.7 L599.5,702.5 L599.7,702.3 L599.8,702.1 L600.0,701.9 L600.2,701.7 L600.3,701.5 L600.5,701.3 L600.7,701.1 L600.8,700.9 L601.0,700.8 L601.2,700.8 L601.4,700.8 L601.5,700.7 L601.7,700.6 L601.9,700.5" fill="none" stroke="#d8d0c4" stroke-width="1.0" stroke-linecap="round"/>
<path d="M588.0,730.3 L588.5,730.2 L589.0,730.1 L589.5,730.0 L590.0,729.9 L590.5,729.8 L590.9,729.7 L591.4,729.6 L591.9,729.5 L592.4,729.4 L592.9,729.3 L593.4,729.3 L593.9,729.2 L594.4,729.1 L594.9,729.0 L595.4,728.9 L595.9,728.8 L596.4,728.7 L596.9,728.6 L597.5,728.6 L598.0,728.5 L598.6,728.4 L599.1,728.4 L599.7,728.3 L600.3,728.3 L600.9,728.2 L601.5,728.2 L602.1,728.2 L602.8,728.1 L603.4,728.1 L604.0,728.0 L604.6,728.0 L605.2,728.0 L605.9,727.9 L606.5,727.9 L607.1,727.8 L607.7,727.8 L608.3,727.7 L608.9,727.7 L609.4,727.6 L610.0,727.5 L610.6,727.4 L611.1,727.3 L611.7,727.2 L612.2,727.1 L612.8,726.9 L613.3,726.8 L613.8,726.7 L614.4,726.6 L614.9,726.4 L615.4,726.3 L615.9,726.1 L616.4,726.0 L616.9,725.8 L617.4,725.7 L617.9,725.6 L618.4,725.4 L619.0,725.3 L619.5,725.1 L620.0,725.0" fill="none" stroke="#e2dcd2" stroke-width="1.6" stroke-linecap="round"/>
<path d="M642.0,705.0 L642.3,705.2 L642.5,705.3 L642.8,705.5 L643.1,705.7 L643.3,705.9 L643.6,706.0 L643.9,706.2 L644.1,706.4 L644.4,706.6 L644.7,706.7 L644.9,706.9 L645.2,707.1 L645.5,707.3 L645.7,707.4 L646.0,707.6 L646.3,707.8 L646.5,708.0 L646.8,708.1 L647.1,708.3 L647.3,708.5 L647.6,708.6 L647.9,708.8 L648.1,709.0 L648.4,709.1 L648.7,709.3 L648.9,709.4 L649.2,709.6 L649.5,709.7 L649.7,709.9 L650.0,710.0 L650.3,710.1 L650.6,710.3 L650.8,710.4 L651.1,710.5 L651.4,710.6 L651.7,710.8 L651.9,710.9 L652.2,711.0 L652.5,711.1 L652.8,711.2 L653.0,711.3 L653.3,711.4 L653.6,711.5 L653.9,711.6 L654.1,711.7 L654.4,711.8 L654.7,711.9 L655.0,712.0 L655.2,712.0 L655.5,712.1 L655.8,712.2 L656.1,712.3 L656.3,712.4 L656.6,712.5 L656.9,712.6 L657.2,712.7 L657.4,712.8 L657.7,712.9 L658.0,713.0" fill="none" stroke="#e2dcd2" stroke-width="1.4" stroke-linecap="round"/>
<line x1="655.0" y1="713.0" x2="655.0" y2="713.0" stroke="#efebe6" stroke-width="0.6"/>
<line x1="655.6" y1="713.3" x2="655.7" y2="712.8" stroke="#efebe6" stroke-width="0.6"/>
<line x1="656.1" y1="713.8" x2="656.4" y2="712.5" stroke="#efebe6" stroke-width="0.6"/>
<line x1="656.6" y1="714.7" x2="657.1" y2="711.8" stroke="#efebe6" stroke-width="0.6"/>
<line x1="657.1" y1="715.6" x2="657.9" y2="711.1" stroke="#efebe6" stroke-width="0.6"/>
<line x1="657.7" y1="716.0" x2="658.6" y2="711.0" stroke="#efebe6" stroke-width="0.6"/>
<line x1="658.3" y1="716.2" x2="659.2" y2="711.0" stroke="#efebe6" stroke-width="0.6"/>
<line x1="658.9" y1="716.2" x2="659.8" y2="711.2" stroke="#efebe6" stroke-width="0.6"/>
<line x1="659.6" y1="716.0" x2="660.4" y2="711.6" stroke="#efebe6" stroke-width="0.6"/>
<line x1="660.4" y1="715.7" x2="660.9" y2="712.1" stroke="#efebe6" stroke-width="0.6"/>
<line x1="661.1" y1="715.3" x2="661.4" y2="712.7" stroke="#efebe6" stroke-width="0.6"/>
<line x1="661.8" y1="714.7" x2="661.9" y2="713.4" stroke="#efebe6" stroke-width="0.6"/>
<line x1="662.5" y1="714.1" x2="662.5" y2="714.1" stroke="#efebe6" stroke-width="0.6"/>
<line x1="663.1" y1="713.4" x2="663.1" y2="714.8" stroke="#efebe6" stroke-width="0.6"/>
<line x1="663.7" y1="712.8" x2="663.8" y2="715.4" stroke="#efebe6" stroke-width="0.6"/>
<line x1="664.2" y1="712.2" x2="664.5" y2="715.9" stroke="#efebe6" stroke-width="0.6"/>
<line x1="664.7" y1="711.8" x2="665.3" y2="716.2" stroke="#efebe6" stroke-width="0.6"/>
<line x1="665.1" y1="711.4" x2="666.1" y2="716.4" stroke="#efebe6" stroke-width="0.6"/>
<line x1="665.6" y1="711.2" x2="666.9" y2="716.3" stroke="#efebe6" stroke-width="0.6"/>
<line x1="666.2" y1="711.2" x2="667.6" y2="716.0" stroke="#efebe6" stroke-width="0.6"/>
<line x1="666.8" y1="711.3" x2="668.2" y2="715.5" stroke="#efebe6" stroke-width="0.6"/>
<line x1="667.5" y1="711.5" x2="668.8" y2="714.8" stroke="#efebe6" stroke-width="0.6"/>
<line x1="668.3" y1="711.8" x2="669.3" y2="714.1" stroke="#efebe6" stroke-width="0.6"/>
<line x1="669.2" y1="712.1" x2="669.7" y2="713.2" stroke="#efebe6" stroke-width="0.6"/>
<line x1="670.1" y1="712.4" x2="670.0" y2="712.3" stroke="#efebe6" stroke-width="0.6"/>
<line x1="671.0" y1="712.8" x2="670.4" y2="711.4" stroke="#efebe6" stroke-width="0.6"/>
<line x1="671.9" y1="713.0" x2="670.7" y2="710.6" stroke="#efebe6" stroke-width="0.6"/>
<line x1="672.8" y1="713.2" x2="671.1" y2="709.8" stroke="#efebe6" stroke-width="0.6"/>
<line x1="673.6" y1="713.2" x2="671.6" y2="709.1" stroke="#efebe6" stroke-width="0.6"/>
<line x1="674.3" y1="713.2" x2="672.1" y2="708.6" stroke="#efebe6" stroke-width="0.6"/>
<line x1="674.9" y1="712.9" x2="672.7" y2="708.2" stroke="#efebe6" stroke-width="0.6"/>
<line x1="675.5" y1="712.5" x2="673.3" y2="708.0" stroke="#efebe6" stroke-width="0.6"/>
<line x1="675.9" y1="712.0" x2="674.1" y2="708.0" stroke="#efebe6" stroke-width="0.6"/>
<line x1="676.4" y1="711.3" x2="674.8" y2="708.1" stroke="#efebe6" stroke-width="0.6"/>
<line x1="676.7" y1="710.5" x2="675.6" y2="708.3" stroke="#efebe6" stroke-width="0.6"/>
<line x1="677.0" y1="709.6" x2="676.5" y2="708.6" stroke="#efebe6" stroke-width="0.6"/>
<line x1="677.3" y1="708.7" x2="677.4" y2="708.9" stroke="#efebe6" stroke-width="0.6"/>
<line x1="677.5" y1="707.8" x2="678.3" y2="709.2" stroke="#efebe6" stroke-width="0.6"/>
<line x1="677.8" y1="707.0" x2="679.2" y2="709.4" stroke="#efebe6" stroke-width="0.6"/>
<line x1="678.1" y1="706.2" x2="680.0" y2="709.5" stroke="#efebe6" stroke-width="0.6"/>
<line x1="678.5" y1="705.5" x2="680.8" y2="709.5" stroke="#efebe6" stroke-width="0.6"/>
<line x1="678.9" y1="705.0" x2="681.5" y2="709.4" stroke="#efebe6" stroke-width="0.6"/>
<line x1="679.4" y1="704.6" x2="682.0" y2="709.1" stroke="#efebe6" stroke-width="0.6"/>
<line x1="680.0" y1="704.4" x2="682.5" y2="708.7" stroke="#efebe6" stroke-width="0.6"/>
<line x1="680.8" y1="704.3" x2="683.0" y2="708.1" stroke="#efebe6" stroke-width="0.6"/>
<line x1="681.8" y1="704.8" x2="683.1" y2="707.0" stroke="#efebe6" stroke-width="0.6"/>
<line x1="682.7" y1="705.1" x2="683.3" y2="706.1" stroke="#efebe6" stroke-width="0.6"/>
<line x1="683.5" y1="705.1" x2="683.6" y2="705.4" stroke="#efebe6" stroke-width="0.6"/>
<path d="M655.0,713.0 L655.3,712.9 L655.5,712.9 L655.8,712.8 L656.1,712.7 L656.4,712.5 L656.7,712.2 L657.0,712.0 L657.3,711.7 L657.6,711.4 L657.9,711.1 L658.2,711.1 L658.4,711.0 L658.7,711.0 L659.0,711.0 L659.2,711.0 L659.5,711.1 L659.7,711.2 L659.9,711.3 L660.1,711.4 L660.4,711.6 L660.6,711.8 L660.8,712.0 L661.0,712.2 L661.2,712.5 L661.4,712.7 L661.6,713.0 L661.8,713.3 L662.0,713.6 L662.3,713.8 L662.5,714.1 L662.7,714.4 L663.0,714.7 L663.2,715.0 L663.5,715.2 L663.8,715.4 L664.1,715.7 L664.4,715.9 L664.7,716.0 L665.0,716.1 L665.3,716.2 L665.7,716.3 L666.0,716.4 L666.3,716.4 L666.6,716.3 L666.9,716.3 L667.2,716.2 L667.5,716.0 L667.7,715.9 L668.0,715.7 L668.2,715.5 L668.5,715.2 L668.7,715.0 L668.9,714.7 L669.1,714.4 L669.3,714.1 L669.4,713.7 L669.6,713.4 L669.7,713.0 L669.9,712.7 L670.0,712.3 L670.2,712.0 L670.3,711.6 L670.5,711.2 L670.6,710.9 L670.7,710.6 L670.9,710.2 L671.0,709.9 L671.2,709.6 L671.4,709.4 L671.6,709.1 L671.8,708.9 L672.0,708.7 L672.2,708.5 L672.4,708.4 L672.7,708.2 L672.9,708.1 L673.2,708.1 L673.5,708.0 L673.8,708.0 L674.1,708.0 L674.4,708.0 L674.7,708.1 L675.0,708.2 L675.3,708.2 L675.6,708.3 L676.0,708.4 L676.3,708.5 L676.7,708.7 L677.0,708.8 L677.4,708.9 L677.8,709.0 L678.1,709.1 L678.5,709.2 L678.8,709.3 L679.2,709.4 L679.5,709.5 L679.8,709.5 L680.2,709.5 L680.5,709.5 L680.8,709.5 L681.1,709.5 L681.3,709.4 L681.6,709.4 L681.8,709.3 L682.0,709.1 L682.3,709.0 L682.5,708.8 L682.6,708.6 L682.8,708.4 L683.0,708.1 L683.0,707.7 L683.0,707.2 L683.1,706.8 L683.2,706.4 L683.3,706.1 L683.4,705.7 L683.5,705.5 L683.7,705.3 L683.9,705.1" fill="none" stroke="#e8e3da" stroke-width="1.0" stroke-linecap="round"/>
<path d="M655.0,713.0 L655.2,713.1 L655.5,713.2 L655.7,713.4 L655.9,713.6 L656.1,713.8 L656.3,714.1 L656.5,714.5 L656.7,714.9 L656.9,715.3 L657.1,715.6 L657.3,715.8 L657.6,715.9 L657.8,716.0 L658.0,716.1 L658.3,716.2 L658.5,716.2 L658.8,716.2 L659.1,716.2 L659.4,716.1 L659.6,716.0 L659.9,715.9 L660.2,715.8 L660.5,715.6 L660.8,715.5 L661.1,715.3 L661.4,715.0 L661.7,714.8 L662.0,714.6 L662.2,714.3 L662.5,714.1 L662.8,713.8 L663.0,713.5 L663.3,713.3 L663.5,713.0 L663.7,712.8 L663.9,712.5 L664.1,712.3 L664.3,712.1 L664.5,711.9 L664.7,711.8 L664.8,711.6 L665.0,711.5 L665.2,711.4 L665.4,711.3 L665.6,711.2 L665.8,711.2 L666.1,711.2 L666.3,711.2 L666.6,711.2 L666.8,711.3 L667.1,711.3 L667.4,711.4 L667.7,711.5 L668.0,711.6 L668.3,711.8 L668.7,711.9 L669.0,712.0 L669.4,712.2 L669.7,712.3 L670.1,712.4 L670.5,712.6 L670.8,712.7 L671.2,712.8 L671.6,712.9 L671.9,713.0 L672.3,713.1 L672.6,713.2 L672.9,713.2 L673.3,713.2 L673.6,713.2 L673.9,713.2 L674.2,713.2 L674.4,713.1 L674.7,713.0 L674.9,712.9 L675.2,712.8 L675.4,712.6 L675.6,712.4 L675.8,712.2 L675.9,712.0 L676.1,711.7 L676.3,711.4 L676.5,711.1 L676.6,710.8 L676.7,710.5 L676.9,710.2 L677.0,709.8 L677.1,709.4 L677.2,709.1 L677.3,708.7 L677.4,708.4 L677.5,708.0 L677.6,707.6 L677.7,707.3 L677.8,707.0 L677.9,706.6 L678.0,706.3 L678.2,706.0 L678.3,705.8 L678.5,705.5 L678.6,705.3 L678.8,705.1 L679.0,704.9 L679.2,704.8 L679.4,704.6 L679.7,704.5 L679.9,704.4 L680.2,704.4 L680.5,704.3 L680.8,704.3 L681.2,704.5 L681.6,704.7 L682.0,704.9 L682.3,705.0 L682.7,705.1 L683.0,705.1 L683.3,705.1 L683.6,705.1 L683.9,705.0" fill="none" stroke="#d8d0c4" stroke-width="1.0" stroke-linecap="round"/>
<ellipse cx="637.1" cy="724.1" rx="22.2" ry="9.8" fill="url(#gB)"/>
<text x="637.1" y="727.3" font-size="9.0" text-anchor="middle" fill="#2a2a2a">Pol II</text>
<ellipse cx="610.6" cy="713.6" rx="12.3" ry="9.0" fill="url(#gG)"/>
<text x="610.6" y="716.8" font-size="8.8" text-anchor="middle" fill="#2a2a2a">CSB</text>
<ellipse cx="632.2" cy="707.4" rx="12.3" ry="9.0" fill="url(#gO)"/>
<text x="632.2" y="710.6" font-size="9.0" text-anchor="middle" fill="#2a2a2a">CSA</text>
<ellipse cx="632.5" cy="689.1" rx="14.5" ry="10.6" fill="url(#gC)"/>
<text x="632.5" y="692.3" font-size="8.8" text-anchor="middle" fill="#2a2a2a">CRL4</text>
<ellipse cx="603.1" cy="700.0" rx="6.8" ry="6.6" fill="url(#gY)"/>
<text x="603.1" y="703.1" font-size="8.6" text-anchor="middle" fill="#2a2a2a">Ub</text>
<ellipse cx="596.6" cy="690.2" rx="6.8" ry="6.6" fill="url(#gY)"/>
<text x="596.6" y="693.3" font-size="8.6" text-anchor="middle" fill="#2a2a2a">Ub</text>
<text transform="translate(632.6,763.8) scale(1,1.09)" font-size="10" text-anchor="middle" fill="#333" stroke="#333" class="r" >Deficient TCR</text>
<text transform="translate(632.2,775.7) scale(1,1.09)" font-size="10" text-anchor="middle" fill="#333" stroke="#333" class="r" >Deficient Pol II removal</text>
</svg>
</body></html>
